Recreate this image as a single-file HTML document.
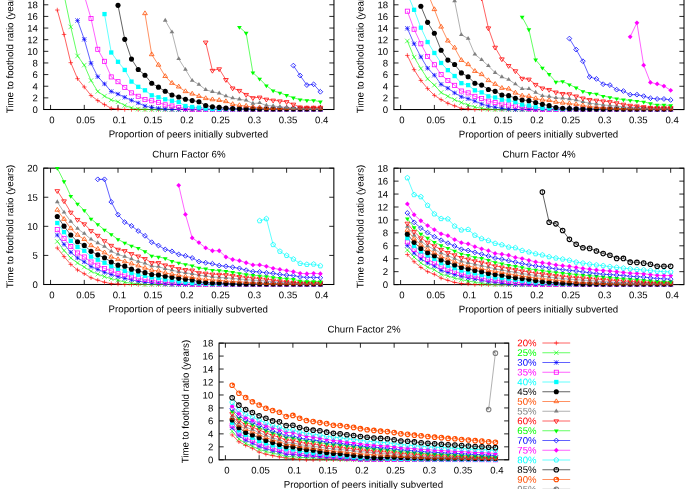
<!DOCTYPE html>
<html><head><meta charset="utf-8"><title>chart</title><style>html,body{margin:0;padding:0;background:#fff}body{width:699px;height:489px;overflow:hidden}</style></head><body><svg width="699" height="489" viewBox="0 0 699 489" style="display:block;will-change:transform" font-family="'Liberation Sans', sans-serif" fill="#000" text-rendering="geometricPrecision"><rect width="699" height="489" fill="#fff"/><g><path d="M50.55 109.50v-4.6M50.55 -6.85v4.6M84.28 109.50v-4.6M84.28 -6.85v4.6M118.00 109.50v-4.6M118.00 -6.85v4.6M151.73 109.50v-4.6M151.73 -6.85v4.6M185.45 109.50v-4.6M185.45 -6.85v4.6M219.18 109.50v-4.6M219.18 -6.85v4.6M252.90 109.50v-4.6M252.90 -6.85v4.6M286.62 109.50v-4.6M286.62 -6.85v4.6M320.35 109.50v-4.6M320.35 -6.85v4.6M43.70 109.50h4.6M333.95 109.50h-4.6M43.70 97.86h4.6M333.95 97.86h-4.6M43.70 86.23h4.6M333.95 86.23h-4.6M43.70 74.59h4.6M333.95 74.59h-4.6M43.70 62.96h4.6M333.95 62.96h-4.6M43.70 51.33h4.6M333.95 51.33h-4.6M43.70 39.69h4.6M333.95 39.69h-4.6M43.70 28.06h4.6M333.95 28.06h-4.6M43.70 16.42h4.6M333.95 16.42h-4.6M43.70 4.78h4.6M333.95 4.78h-4.6M43.70 -6.85h4.6M333.95 -6.85h-4.6" stroke="#000" stroke-width="0.85" fill="none"/><rect x="43.70" y="-6.85" width="290.25" height="116.35" fill="none" stroke="#000" stroke-width="1.05"/><text transform="translate(51.95 123.20) rotate(0.05)" font-size="9.6" text-anchor="middle">0</text><text transform="translate(85.68 123.20) rotate(0.05)" font-size="9.6" text-anchor="middle">0.05</text><text transform="translate(119.40 123.20) rotate(0.05)" font-size="9.6" text-anchor="middle">0.1</text><text transform="translate(153.13 123.20) rotate(0.05)" font-size="9.6" text-anchor="middle">0.15</text><text transform="translate(186.85 123.20) rotate(0.05)" font-size="9.6" text-anchor="middle">0.2</text><text transform="translate(220.58 123.20) rotate(0.05)" font-size="9.6" text-anchor="middle">0.25</text><text transform="translate(254.30 123.20) rotate(0.05)" font-size="9.6" text-anchor="middle">0.3</text><text transform="translate(288.02 123.20) rotate(0.05)" font-size="9.6" text-anchor="middle">0.35</text><text transform="translate(321.75 123.20) rotate(0.05)" font-size="9.6" text-anchor="middle">0.4</text><text transform="translate(37.90 112.95) rotate(0.05)" font-size="9.6" text-anchor="end">0</text><text transform="translate(37.90 101.31) rotate(0.05)" font-size="9.6" text-anchor="end">2</text><text transform="translate(37.90 89.68) rotate(0.05)" font-size="9.6" text-anchor="end">4</text><text transform="translate(37.90 78.05) rotate(0.05)" font-size="9.6" text-anchor="end">6</text><text transform="translate(37.90 66.41) rotate(0.05)" font-size="9.6" text-anchor="end">8</text><text transform="translate(37.90 54.78) rotate(0.05)" font-size="9.6" text-anchor="end">10</text><text transform="translate(37.90 43.14) rotate(0.05)" font-size="9.6" text-anchor="end">12</text><text transform="translate(37.90 31.51) rotate(0.05)" font-size="9.6" text-anchor="end">14</text><text transform="translate(37.90 19.87) rotate(0.05)" font-size="9.6" text-anchor="end">16</text><text transform="translate(37.90 8.23) rotate(0.05)" font-size="9.6" text-anchor="end">18</text><text transform="translate(37.90 -3.40) rotate(0.05)" font-size="9.6" text-anchor="end">20</text><text transform="translate(188.32 137.40) rotate(0.05)" font-size="9.7" text-anchor="middle">Proportion of peers initially subverted</text><text transform="translate(13.30 51.43) rotate(-89.95)" font-size="9.7" text-anchor="middle">Time to foothold ratio (years)</text><path d="M57.29 10.02L64.04 34.45L70.78 62.67L77.53 78.67L84.28 86.99L91.02 95.54L97.77 100.60L104.51 104.61L111.25 108.30L118.00 109.06L124.75 109.50L131.49 109.50L138.24 109.50L144.98 109.50L151.72 109.50L158.47 109.50L165.22 109.50L171.96 109.50L178.70 109.50L185.45 109.50L192.19 109.50L198.94 109.50L205.69 109.50L212.43 109.50L219.18 109.50L225.92 109.50L232.67 109.50L239.41 109.50L246.15 109.50L252.90 109.50L259.64 109.50L266.39 109.50L273.13 109.50L279.88 109.50L286.62 109.50L293.37 109.50L300.12 109.50L306.86 109.50L313.61 109.50L320.35 109.50" stroke="#ff0000" stroke-width="0.62" fill="none" stroke-linejoin="round"/><path d="M55.04 10.02H59.54M57.29 7.77V12.27" stroke="#ff0000" stroke-width="0.62" fill="none"/><path d="M61.79 34.45H66.29M64.04 32.20V36.70" stroke="#ff0000" stroke-width="0.62" fill="none"/><path d="M68.53 62.67H73.03M70.78 60.42V64.92" stroke="#ff0000" stroke-width="0.62" fill="none"/><path d="M75.28 78.67H79.78M77.53 76.42V80.92" stroke="#ff0000" stroke-width="0.62" fill="none"/><path d="M82.03 86.99H86.53M84.28 84.74V89.24" stroke="#ff0000" stroke-width="0.62" fill="none"/><path d="M88.77 95.54H93.27M91.02 93.29V97.79" stroke="#ff0000" stroke-width="0.62" fill="none"/><path d="M95.52 100.60H100.02M97.77 98.35V102.85" stroke="#ff0000" stroke-width="0.62" fill="none"/><path d="M102.26 104.61H106.76M104.51 102.36V106.86" stroke="#ff0000" stroke-width="0.62" fill="none"/><path d="M109.00 108.30H113.50M111.25 106.05V110.55" stroke="#ff0000" stroke-width="0.62" fill="none"/><path d="M115.75 109.06H120.25M118.00 106.81V111.31" stroke="#ff0000" stroke-width="0.62" fill="none"/><path d="M122.50 109.50H127.00M124.75 107.25V111.75" stroke="#ff0000" stroke-width="0.62" fill="none"/><path d="M129.24 109.50H133.74M131.49 107.25V111.75" stroke="#ff0000" stroke-width="0.62" fill="none"/><path d="M135.99 109.50H140.49M138.24 107.25V111.75" stroke="#ff0000" stroke-width="0.62" fill="none"/><path d="M142.73 109.50H147.23M144.98 107.25V111.75" stroke="#ff0000" stroke-width="0.62" fill="none"/><path d="M149.47 109.50H153.97M151.72 107.25V111.75" stroke="#ff0000" stroke-width="0.62" fill="none"/><path d="M156.22 109.50H160.72M158.47 107.25V111.75" stroke="#ff0000" stroke-width="0.62" fill="none"/><path d="M162.97 109.50H167.47M165.22 107.25V111.75" stroke="#ff0000" stroke-width="0.62" fill="none"/><path d="M169.71 109.50H174.21M171.96 107.25V111.75" stroke="#ff0000" stroke-width="0.62" fill="none"/><path d="M176.45 109.50H180.95M178.70 107.25V111.75" stroke="#ff0000" stroke-width="0.62" fill="none"/><path d="M183.20 109.50H187.70M185.45 107.25V111.75" stroke="#ff0000" stroke-width="0.62" fill="none"/><path d="M189.94 109.50H194.44M192.19 107.25V111.75" stroke="#ff0000" stroke-width="0.62" fill="none"/><path d="M196.69 109.50H201.19M198.94 107.25V111.75" stroke="#ff0000" stroke-width="0.62" fill="none"/><path d="M203.44 109.50H207.94M205.69 107.25V111.75" stroke="#ff0000" stroke-width="0.62" fill="none"/><path d="M210.18 109.50H214.68M212.43 107.25V111.75" stroke="#ff0000" stroke-width="0.62" fill="none"/><path d="M216.93 109.50H221.43M219.18 107.25V111.75" stroke="#ff0000" stroke-width="0.62" fill="none"/><path d="M223.67 109.50H228.17M225.92 107.25V111.75" stroke="#ff0000" stroke-width="0.62" fill="none"/><path d="M230.42 109.50H234.92M232.67 107.25V111.75" stroke="#ff0000" stroke-width="0.62" fill="none"/><path d="M237.16 109.50H241.66M239.41 107.25V111.75" stroke="#ff0000" stroke-width="0.62" fill="none"/><path d="M243.90 109.50H248.40M246.15 107.25V111.75" stroke="#ff0000" stroke-width="0.62" fill="none"/><path d="M250.65 109.50H255.15M252.90 107.25V111.75" stroke="#ff0000" stroke-width="0.62" fill="none"/><path d="M257.39 109.50H261.89M259.64 107.25V111.75" stroke="#ff0000" stroke-width="0.62" fill="none"/><path d="M264.14 109.50H268.64M266.39 107.25V111.75" stroke="#ff0000" stroke-width="0.62" fill="none"/><path d="M270.88 109.50H275.38M273.13 107.25V111.75" stroke="#ff0000" stroke-width="0.62" fill="none"/><path d="M277.63 109.50H282.13M279.88 107.25V111.75" stroke="#ff0000" stroke-width="0.62" fill="none"/><path d="M284.38 109.50H288.88M286.62 107.25V111.75" stroke="#ff0000" stroke-width="0.62" fill="none"/><path d="M291.12 109.50H295.62M293.37 107.25V111.75" stroke="#ff0000" stroke-width="0.62" fill="none"/><path d="M297.87 109.50H302.37M300.12 107.25V111.75" stroke="#ff0000" stroke-width="0.62" fill="none"/><path d="M304.61 109.50H309.11M306.86 107.25V111.75" stroke="#ff0000" stroke-width="0.62" fill="none"/><path d="M311.36 109.50H315.86M313.61 107.25V111.75" stroke="#ff0000" stroke-width="0.62" fill="none"/><path d="M318.10 109.50H322.60M320.35 107.25V111.75" stroke="#ff0000" stroke-width="0.62" fill="none"/><path d="M64.04 -5.10L70.78 26.89L77.53 55.98L84.28 65.11L91.02 80.53L97.77 91.47L104.51 96.12L111.25 99.90L118.00 101.76L124.75 105.43L131.49 107.92L138.24 109.06L144.98 109.50L151.72 109.50L158.47 109.50L165.22 109.50L171.96 109.50L178.70 109.50L185.45 109.50L192.19 109.50L198.94 109.50L205.69 109.50L212.43 109.50L219.18 109.50L225.92 109.50L232.67 109.50L239.41 109.50L246.15 109.50L252.90 109.50L259.64 109.50L266.39 109.50L273.13 109.50L279.88 109.50L286.62 109.50L293.37 109.50L300.12 109.50L306.86 109.50L313.61 109.50L320.35 109.50" stroke="#00ff00" stroke-width="0.62" fill="none" stroke-linejoin="round"/><path d="M68.53 24.64L73.03 29.14M68.53 29.14L73.03 24.64" stroke="#00ff00" stroke-width="0.62" fill="none"/><path d="M75.28 53.73L79.78 58.23M75.28 58.23L79.78 53.73" stroke="#00ff00" stroke-width="0.62" fill="none"/><path d="M82.03 62.86L86.53 67.36M82.03 67.36L86.53 62.86" stroke="#00ff00" stroke-width="0.62" fill="none"/><path d="M88.77 78.28L93.27 82.78M88.77 82.78L93.27 78.28" stroke="#00ff00" stroke-width="0.62" fill="none"/><path d="M95.52 89.22L100.02 93.72M95.52 93.72L100.02 89.22" stroke="#00ff00" stroke-width="0.62" fill="none"/><path d="M102.26 93.87L106.76 98.37M102.26 98.37L106.76 93.87" stroke="#00ff00" stroke-width="0.62" fill="none"/><path d="M109.00 97.65L113.50 102.15M109.00 102.15L113.50 97.65" stroke="#00ff00" stroke-width="0.62" fill="none"/><path d="M115.75 99.51L120.25 104.01M115.75 104.01L120.25 99.51" stroke="#00ff00" stroke-width="0.62" fill="none"/><path d="M122.50 103.18L127.00 107.68M122.50 107.68L127.00 103.18" stroke="#00ff00" stroke-width="0.62" fill="none"/><path d="M129.24 105.67L133.74 110.17M129.24 110.17L133.74 105.67" stroke="#00ff00" stroke-width="0.62" fill="none"/><path d="M135.99 106.81L140.49 111.31M135.99 111.31L140.49 106.81" stroke="#00ff00" stroke-width="0.62" fill="none"/><path d="M142.73 107.25L147.23 111.75M142.73 111.75L147.23 107.25" stroke="#00ff00" stroke-width="0.62" fill="none"/><path d="M149.47 107.25L153.97 111.75M149.47 111.75L153.97 107.25" stroke="#00ff00" stroke-width="0.62" fill="none"/><path d="M156.22 107.25L160.72 111.75M156.22 111.75L160.72 107.25" stroke="#00ff00" stroke-width="0.62" fill="none"/><path d="M162.97 107.25L167.47 111.75M162.97 111.75L167.47 107.25" stroke="#00ff00" stroke-width="0.62" fill="none"/><path d="M169.71 107.25L174.21 111.75M169.71 111.75L174.21 107.25" stroke="#00ff00" stroke-width="0.62" fill="none"/><path d="M176.45 107.25L180.95 111.75M176.45 111.75L180.95 107.25" stroke="#00ff00" stroke-width="0.62" fill="none"/><path d="M183.20 107.25L187.70 111.75M183.20 111.75L187.70 107.25" stroke="#00ff00" stroke-width="0.62" fill="none"/><path d="M189.94 107.25L194.44 111.75M189.94 111.75L194.44 107.25" stroke="#00ff00" stroke-width="0.62" fill="none"/><path d="M196.69 107.25L201.19 111.75M196.69 111.75L201.19 107.25" stroke="#00ff00" stroke-width="0.62" fill="none"/><path d="M203.44 107.25L207.94 111.75M203.44 111.75L207.94 107.25" stroke="#00ff00" stroke-width="0.62" fill="none"/><path d="M210.18 107.25L214.68 111.75M210.18 111.75L214.68 107.25" stroke="#00ff00" stroke-width="0.62" fill="none"/><path d="M216.93 107.25L221.43 111.75M216.93 111.75L221.43 107.25" stroke="#00ff00" stroke-width="0.62" fill="none"/><path d="M223.67 107.25L228.17 111.75M223.67 111.75L228.17 107.25" stroke="#00ff00" stroke-width="0.62" fill="none"/><path d="M230.42 107.25L234.92 111.75M230.42 111.75L234.92 107.25" stroke="#00ff00" stroke-width="0.62" fill="none"/><path d="M237.16 107.25L241.66 111.75M237.16 111.75L241.66 107.25" stroke="#00ff00" stroke-width="0.62" fill="none"/><path d="M243.90 107.25L248.40 111.75M243.90 111.75L248.40 107.25" stroke="#00ff00" stroke-width="0.62" fill="none"/><path d="M250.65 107.25L255.15 111.75M250.65 111.75L255.15 107.25" stroke="#00ff00" stroke-width="0.62" fill="none"/><path d="M257.39 107.25L261.89 111.75M257.39 111.75L261.89 107.25" stroke="#00ff00" stroke-width="0.62" fill="none"/><path d="M264.14 107.25L268.64 111.75M264.14 111.75L268.64 107.25" stroke="#00ff00" stroke-width="0.62" fill="none"/><path d="M270.88 107.25L275.38 111.75M270.88 111.75L275.38 107.25" stroke="#00ff00" stroke-width="0.62" fill="none"/><path d="M277.63 107.25L282.13 111.75M277.63 111.75L282.13 107.25" stroke="#00ff00" stroke-width="0.62" fill="none"/><path d="M284.38 107.25L288.88 111.75M284.38 111.75L288.88 107.25" stroke="#00ff00" stroke-width="0.62" fill="none"/><path d="M291.12 107.25L295.62 111.75M291.12 111.75L295.62 107.25" stroke="#00ff00" stroke-width="0.62" fill="none"/><path d="M297.87 107.25L302.37 111.75M297.87 111.75L302.37 107.25" stroke="#00ff00" stroke-width="0.62" fill="none"/><path d="M304.61 107.25L309.11 111.75M304.61 111.75L309.11 107.25" stroke="#00ff00" stroke-width="0.62" fill="none"/><path d="M311.36 107.25L315.86 111.75M311.36 111.75L315.86 107.25" stroke="#00ff00" stroke-width="0.62" fill="none"/><path d="M318.10 107.25L322.60 111.75M318.10 111.75L322.60 107.25" stroke="#00ff00" stroke-width="0.62" fill="none"/><path d="M77.53 20.49L84.28 39.34L91.02 63.25L97.77 76.69L104.51 83.90L111.25 91.47L118.00 94.03L124.75 97.28L131.49 100.31L138.24 102.93L144.98 106.01L151.72 107.53L158.47 108.30L165.22 109.06L171.96 109.50L178.70 109.50L185.45 109.50L192.19 109.50L198.94 109.50L205.69 109.50L212.43 109.50L219.18 109.50L225.92 109.50L232.67 109.50L239.41 109.50L246.15 109.50L252.90 109.50L259.64 109.50L266.39 109.50L273.13 109.50L279.88 109.50L286.62 109.50L293.37 109.50L300.12 109.50L306.86 109.50L313.61 109.50L320.35 109.50" stroke="#0000ff" stroke-width="0.62" fill="none" stroke-linejoin="round"/><path d="M75.28 20.49H79.78M77.53 18.24V22.74" stroke="#0000ff" stroke-width="0.62" fill="none"/><path d="M75.28 18.24L79.78 22.74M75.28 22.74L79.78 18.24" stroke="#0000ff" stroke-width="0.62" fill="none"/><path d="M82.03 39.34H86.53M84.28 37.09V41.59" stroke="#0000ff" stroke-width="0.62" fill="none"/><path d="M82.03 37.09L86.53 41.59M82.03 41.59L86.53 37.09" stroke="#0000ff" stroke-width="0.62" fill="none"/><path d="M88.77 63.25H93.27M91.02 61.00V65.50" stroke="#0000ff" stroke-width="0.62" fill="none"/><path d="M88.77 61.00L93.27 65.50M88.77 65.50L93.27 61.00" stroke="#0000ff" stroke-width="0.62" fill="none"/><path d="M95.52 76.69H100.02M97.77 74.44V78.94" stroke="#0000ff" stroke-width="0.62" fill="none"/><path d="M95.52 74.44L100.02 78.94M95.52 78.94L100.02 74.44" stroke="#0000ff" stroke-width="0.62" fill="none"/><path d="M102.26 83.90H106.76M104.51 81.65V86.15" stroke="#0000ff" stroke-width="0.62" fill="none"/><path d="M102.26 81.65L106.76 86.15M102.26 86.15L106.76 81.65" stroke="#0000ff" stroke-width="0.62" fill="none"/><path d="M109.00 91.47H113.50M111.25 89.22V93.72" stroke="#0000ff" stroke-width="0.62" fill="none"/><path d="M109.00 89.22L113.50 93.72M109.00 93.72L113.50 89.22" stroke="#0000ff" stroke-width="0.62" fill="none"/><path d="M115.75 94.03H120.25M118.00 91.78V96.28" stroke="#0000ff" stroke-width="0.62" fill="none"/><path d="M115.75 91.78L120.25 96.28M115.75 96.28L120.25 91.78" stroke="#0000ff" stroke-width="0.62" fill="none"/><path d="M122.50 97.28H127.00M124.75 95.03V99.53" stroke="#0000ff" stroke-width="0.62" fill="none"/><path d="M122.50 95.03L127.00 99.53M122.50 99.53L127.00 95.03" stroke="#0000ff" stroke-width="0.62" fill="none"/><path d="M129.24 100.31H133.74M131.49 98.06V102.56" stroke="#0000ff" stroke-width="0.62" fill="none"/><path d="M129.24 98.06L133.74 102.56M129.24 102.56L133.74 98.06" stroke="#0000ff" stroke-width="0.62" fill="none"/><path d="M135.99 102.93H140.49M138.24 100.68V105.18" stroke="#0000ff" stroke-width="0.62" fill="none"/><path d="M135.99 100.68L140.49 105.18M135.99 105.18L140.49 100.68" stroke="#0000ff" stroke-width="0.62" fill="none"/><path d="M142.73 106.01H147.23M144.98 103.76V108.26" stroke="#0000ff" stroke-width="0.62" fill="none"/><path d="M142.73 103.76L147.23 108.26M142.73 108.26L147.23 103.76" stroke="#0000ff" stroke-width="0.62" fill="none"/><path d="M149.47 107.53H153.97M151.72 105.28V109.78" stroke="#0000ff" stroke-width="0.62" fill="none"/><path d="M149.47 105.28L153.97 109.78M149.47 109.78L153.97 105.28" stroke="#0000ff" stroke-width="0.62" fill="none"/><path d="M156.22 108.30H160.72M158.47 106.05V110.55" stroke="#0000ff" stroke-width="0.62" fill="none"/><path d="M156.22 106.05L160.72 110.55M156.22 110.55L160.72 106.05" stroke="#0000ff" stroke-width="0.62" fill="none"/><path d="M162.97 109.06H167.47M165.22 106.81V111.31" stroke="#0000ff" stroke-width="0.62" fill="none"/><path d="M162.97 106.81L167.47 111.31M162.97 111.31L167.47 106.81" stroke="#0000ff" stroke-width="0.62" fill="none"/><path d="M169.71 109.50H174.21M171.96 107.25V111.75" stroke="#0000ff" stroke-width="0.62" fill="none"/><path d="M169.71 107.25L174.21 111.75M169.71 111.75L174.21 107.25" stroke="#0000ff" stroke-width="0.62" fill="none"/><path d="M176.45 109.50H180.95M178.70 107.25V111.75" stroke="#0000ff" stroke-width="0.62" fill="none"/><path d="M176.45 107.25L180.95 111.75M176.45 111.75L180.95 107.25" stroke="#0000ff" stroke-width="0.62" fill="none"/><path d="M183.20 109.50H187.70M185.45 107.25V111.75" stroke="#0000ff" stroke-width="0.62" fill="none"/><path d="M183.20 107.25L187.70 111.75M183.20 111.75L187.70 107.25" stroke="#0000ff" stroke-width="0.62" fill="none"/><path d="M189.94 109.50H194.44M192.19 107.25V111.75" stroke="#0000ff" stroke-width="0.62" fill="none"/><path d="M189.94 107.25L194.44 111.75M189.94 111.75L194.44 107.25" stroke="#0000ff" stroke-width="0.62" fill="none"/><path d="M196.69 109.50H201.19M198.94 107.25V111.75" stroke="#0000ff" stroke-width="0.62" fill="none"/><path d="M196.69 107.25L201.19 111.75M196.69 111.75L201.19 107.25" stroke="#0000ff" stroke-width="0.62" fill="none"/><path d="M203.44 109.50H207.94M205.69 107.25V111.75" stroke="#0000ff" stroke-width="0.62" fill="none"/><path d="M203.44 107.25L207.94 111.75M203.44 111.75L207.94 107.25" stroke="#0000ff" stroke-width="0.62" fill="none"/><path d="M210.18 109.50H214.68M212.43 107.25V111.75" stroke="#0000ff" stroke-width="0.62" fill="none"/><path d="M210.18 107.25L214.68 111.75M210.18 111.75L214.68 107.25" stroke="#0000ff" stroke-width="0.62" fill="none"/><path d="M216.93 109.50H221.43M219.18 107.25V111.75" stroke="#0000ff" stroke-width="0.62" fill="none"/><path d="M216.93 107.25L221.43 111.75M216.93 111.75L221.43 107.25" stroke="#0000ff" stroke-width="0.62" fill="none"/><path d="M223.67 109.50H228.17M225.92 107.25V111.75" stroke="#0000ff" stroke-width="0.62" fill="none"/><path d="M223.67 107.25L228.17 111.75M223.67 111.75L228.17 107.25" stroke="#0000ff" stroke-width="0.62" fill="none"/><path d="M230.42 109.50H234.92M232.67 107.25V111.75" stroke="#0000ff" stroke-width="0.62" fill="none"/><path d="M230.42 107.25L234.92 111.75M230.42 111.75L234.92 107.25" stroke="#0000ff" stroke-width="0.62" fill="none"/><path d="M237.16 109.50H241.66M239.41 107.25V111.75" stroke="#0000ff" stroke-width="0.62" fill="none"/><path d="M237.16 107.25L241.66 111.75M237.16 111.75L241.66 107.25" stroke="#0000ff" stroke-width="0.62" fill="none"/><path d="M243.90 109.50H248.40M246.15 107.25V111.75" stroke="#0000ff" stroke-width="0.62" fill="none"/><path d="M243.90 107.25L248.40 111.75M243.90 111.75L248.40 107.25" stroke="#0000ff" stroke-width="0.62" fill="none"/><path d="M250.65 109.50H255.15M252.90 107.25V111.75" stroke="#0000ff" stroke-width="0.62" fill="none"/><path d="M250.65 107.25L255.15 111.75M250.65 111.75L255.15 107.25" stroke="#0000ff" stroke-width="0.62" fill="none"/><path d="M257.39 109.50H261.89M259.64 107.25V111.75" stroke="#0000ff" stroke-width="0.62" fill="none"/><path d="M257.39 107.25L261.89 111.75M257.39 111.75L261.89 107.25" stroke="#0000ff" stroke-width="0.62" fill="none"/><path d="M264.14 109.50H268.64M266.39 107.25V111.75" stroke="#0000ff" stroke-width="0.62" fill="none"/><path d="M264.14 107.25L268.64 111.75M264.14 111.75L268.64 107.25" stroke="#0000ff" stroke-width="0.62" fill="none"/><path d="M270.88 109.50H275.38M273.13 107.25V111.75" stroke="#0000ff" stroke-width="0.62" fill="none"/><path d="M270.88 107.25L275.38 111.75M270.88 111.75L275.38 107.25" stroke="#0000ff" stroke-width="0.62" fill="none"/><path d="M277.63 109.50H282.13M279.88 107.25V111.75" stroke="#0000ff" stroke-width="0.62" fill="none"/><path d="M277.63 107.25L282.13 111.75M277.63 111.75L282.13 107.25" stroke="#0000ff" stroke-width="0.62" fill="none"/><path d="M284.38 109.50H288.88M286.62 107.25V111.75" stroke="#0000ff" stroke-width="0.62" fill="none"/><path d="M284.38 107.25L288.88 111.75M284.38 111.75L288.88 107.25" stroke="#0000ff" stroke-width="0.62" fill="none"/><path d="M291.12 109.50H295.62M293.37 107.25V111.75" stroke="#0000ff" stroke-width="0.62" fill="none"/><path d="M291.12 107.25L295.62 111.75M291.12 111.75L295.62 107.25" stroke="#0000ff" stroke-width="0.62" fill="none"/><path d="M297.87 109.50H302.37M300.12 107.25V111.75" stroke="#0000ff" stroke-width="0.62" fill="none"/><path d="M297.87 107.25L302.37 111.75M297.87 111.75L302.37 107.25" stroke="#0000ff" stroke-width="0.62" fill="none"/><path d="M304.61 109.50H309.11M306.86 107.25V111.75" stroke="#0000ff" stroke-width="0.62" fill="none"/><path d="M304.61 107.25L309.11 111.75M304.61 111.75L309.11 107.25" stroke="#0000ff" stroke-width="0.62" fill="none"/><path d="M311.36 109.50H315.86M313.61 107.25V111.75" stroke="#0000ff" stroke-width="0.62" fill="none"/><path d="M311.36 107.25L315.86 111.75M311.36 111.75L315.86 107.25" stroke="#0000ff" stroke-width="0.62" fill="none"/><path d="M318.10 109.50H322.60M320.35 107.25V111.75" stroke="#0000ff" stroke-width="0.62" fill="none"/><path d="M318.10 107.25L322.60 111.75M318.10 111.75L322.60 107.25" stroke="#0000ff" stroke-width="0.62" fill="none"/><path d="M84.28 -4.52L91.02 18.46L97.77 49.29L104.51 61.33L111.25 76.92L118.00 81.69L124.75 87.39L131.49 92.86L138.24 96.29L144.98 99.61L151.72 100.77L158.47 102.52L165.22 104.85L171.96 106.01L178.70 107.53L185.45 108.68L192.19 109.21L198.94 109.21L205.69 109.21L212.43 109.21L219.18 109.21L225.92 109.21L232.67 109.21L239.41 109.21L246.15 109.21L252.90 109.21L259.64 109.21L266.39 109.21L273.13 109.21L279.88 109.21L286.62 109.21L293.37 109.21L300.12 109.21L306.86 109.21L313.61 109.21L320.35 109.21" stroke="#ff00ff" stroke-width="0.62" fill="none" stroke-linejoin="round"/><rect x="82.23" y="-6.57" width="4.10" height="4.10" stroke="#ff00ff" stroke-width="0.78" fill="none"/><rect x="88.97" y="16.41" width="4.10" height="4.10" stroke="#ff00ff" stroke-width="0.78" fill="none"/><rect x="95.72" y="47.24" width="4.10" height="4.10" stroke="#ff00ff" stroke-width="0.78" fill="none"/><rect x="102.46" y="59.28" width="4.10" height="4.10" stroke="#ff00ff" stroke-width="0.78" fill="none"/><rect x="109.20" y="74.87" width="4.10" height="4.10" stroke="#ff00ff" stroke-width="0.78" fill="none"/><rect x="115.95" y="79.64" width="4.10" height="4.10" stroke="#ff00ff" stroke-width="0.78" fill="none"/><rect x="122.70" y="85.34" width="4.10" height="4.10" stroke="#ff00ff" stroke-width="0.78" fill="none"/><rect x="129.44" y="90.81" width="4.10" height="4.10" stroke="#ff00ff" stroke-width="0.78" fill="none"/><rect x="136.19" y="94.24" width="4.10" height="4.10" stroke="#ff00ff" stroke-width="0.78" fill="none"/><rect x="142.93" y="97.56" width="4.10" height="4.10" stroke="#ff00ff" stroke-width="0.78" fill="none"/><rect x="149.67" y="98.72" width="4.10" height="4.10" stroke="#ff00ff" stroke-width="0.78" fill="none"/><rect x="156.42" y="100.47" width="4.10" height="4.10" stroke="#ff00ff" stroke-width="0.78" fill="none"/><rect x="163.16" y="102.80" width="4.10" height="4.10" stroke="#ff00ff" stroke-width="0.78" fill="none"/><rect x="169.91" y="103.96" width="4.10" height="4.10" stroke="#ff00ff" stroke-width="0.78" fill="none"/><rect x="176.65" y="105.48" width="4.10" height="4.10" stroke="#ff00ff" stroke-width="0.78" fill="none"/><rect x="183.40" y="106.63" width="4.10" height="4.10" stroke="#ff00ff" stroke-width="0.78" fill="none"/><rect x="190.14" y="107.16" width="4.10" height="4.10" stroke="#ff00ff" stroke-width="0.78" fill="none"/><rect x="196.89" y="107.16" width="4.10" height="4.10" stroke="#ff00ff" stroke-width="0.78" fill="none"/><rect x="203.63" y="107.16" width="4.10" height="4.10" stroke="#ff00ff" stroke-width="0.78" fill="none"/><rect x="210.38" y="107.16" width="4.10" height="4.10" stroke="#ff00ff" stroke-width="0.78" fill="none"/><rect x="217.12" y="107.16" width="4.10" height="4.10" stroke="#ff00ff" stroke-width="0.78" fill="none"/><rect x="223.87" y="107.16" width="4.10" height="4.10" stroke="#ff00ff" stroke-width="0.78" fill="none"/><rect x="230.62" y="107.16" width="4.10" height="4.10" stroke="#ff00ff" stroke-width="0.78" fill="none"/><rect x="237.36" y="107.16" width="4.10" height="4.10" stroke="#ff00ff" stroke-width="0.78" fill="none"/><rect x="244.10" y="107.16" width="4.10" height="4.10" stroke="#ff00ff" stroke-width="0.78" fill="none"/><rect x="250.85" y="107.16" width="4.10" height="4.10" stroke="#ff00ff" stroke-width="0.78" fill="none"/><rect x="257.59" y="107.16" width="4.10" height="4.10" stroke="#ff00ff" stroke-width="0.78" fill="none"/><rect x="264.34" y="107.16" width="4.10" height="4.10" stroke="#ff00ff" stroke-width="0.78" fill="none"/><rect x="271.08" y="107.16" width="4.10" height="4.10" stroke="#ff00ff" stroke-width="0.78" fill="none"/><rect x="277.83" y="107.16" width="4.10" height="4.10" stroke="#ff00ff" stroke-width="0.78" fill="none"/><rect x="284.57" y="107.16" width="4.10" height="4.10" stroke="#ff00ff" stroke-width="0.78" fill="none"/><rect x="291.32" y="107.16" width="4.10" height="4.10" stroke="#ff00ff" stroke-width="0.78" fill="none"/><rect x="298.06" y="107.16" width="4.10" height="4.10" stroke="#ff00ff" stroke-width="0.78" fill="none"/><rect x="304.81" y="107.16" width="4.10" height="4.10" stroke="#ff00ff" stroke-width="0.78" fill="none"/><rect x="311.56" y="107.16" width="4.10" height="4.10" stroke="#ff00ff" stroke-width="0.78" fill="none"/><rect x="318.30" y="107.16" width="4.10" height="4.10" stroke="#ff00ff" stroke-width="0.78" fill="none"/><path d="M104.51 14.09L111.25 52.49L118.00 61.80L124.75 69.94L131.49 81.58L138.24 86.81L144.98 90.30L151.72 95.31L158.47 97.28L165.22 99.32L171.96 100.77L178.70 102.05L185.45 106.01L192.19 107.00L198.94 107.53L205.69 108.53L212.43 109.06L219.18 109.06L225.92 109.06L232.67 109.06L239.41 109.06L246.15 109.06L252.90 109.06L259.64 109.06L266.39 109.06L273.13 109.06L279.88 109.06L286.62 109.06L293.37 109.06L300.12 109.06L306.86 109.06L313.61 109.06L320.35 109.06" stroke="#00ffff" stroke-width="0.62" fill="none" stroke-linejoin="round"/><rect x="102.36" y="11.94" width="4.30" height="4.30" fill="#00ffff"/><rect x="109.10" y="50.34" width="4.30" height="4.30" fill="#00ffff"/><rect x="115.85" y="59.65" width="4.30" height="4.30" fill="#00ffff"/><rect x="122.59" y="67.79" width="4.30" height="4.30" fill="#00ffff"/><rect x="129.34" y="79.43" width="4.30" height="4.30" fill="#00ffff"/><rect x="136.09" y="84.66" width="4.30" height="4.30" fill="#00ffff"/><rect x="142.83" y="88.15" width="4.30" height="4.30" fill="#00ffff"/><rect x="149.57" y="93.16" width="4.30" height="4.30" fill="#00ffff"/><rect x="156.32" y="95.13" width="4.30" height="4.30" fill="#00ffff"/><rect x="163.06" y="97.17" width="4.30" height="4.30" fill="#00ffff"/><rect x="169.81" y="98.62" width="4.30" height="4.30" fill="#00ffff"/><rect x="176.55" y="99.90" width="4.30" height="4.30" fill="#00ffff"/><rect x="183.30" y="103.86" width="4.30" height="4.30" fill="#00ffff"/><rect x="190.04" y="104.85" width="4.30" height="4.30" fill="#00ffff"/><rect x="196.79" y="105.38" width="4.30" height="4.30" fill="#00ffff"/><rect x="203.53" y="106.38" width="4.30" height="4.30" fill="#00ffff"/><rect x="210.28" y="106.91" width="4.30" height="4.30" fill="#00ffff"/><rect x="217.03" y="106.91" width="4.30" height="4.30" fill="#00ffff"/><rect x="223.77" y="106.91" width="4.30" height="4.30" fill="#00ffff"/><rect x="230.52" y="106.91" width="4.30" height="4.30" fill="#00ffff"/><rect x="237.26" y="106.91" width="4.30" height="4.30" fill="#00ffff"/><rect x="244.00" y="106.91" width="4.30" height="4.30" fill="#00ffff"/><rect x="250.75" y="106.91" width="4.30" height="4.30" fill="#00ffff"/><rect x="257.50" y="106.91" width="4.30" height="4.30" fill="#00ffff"/><rect x="264.24" y="106.91" width="4.30" height="4.30" fill="#00ffff"/><rect x="270.99" y="106.91" width="4.30" height="4.30" fill="#00ffff"/><rect x="277.73" y="106.91" width="4.30" height="4.30" fill="#00ffff"/><rect x="284.48" y="106.91" width="4.30" height="4.30" fill="#00ffff"/><rect x="291.22" y="106.91" width="4.30" height="4.30" fill="#00ffff"/><rect x="297.97" y="106.91" width="4.30" height="4.30" fill="#00ffff"/><rect x="304.71" y="106.91" width="4.30" height="4.30" fill="#00ffff"/><rect x="311.46" y="106.91" width="4.30" height="4.30" fill="#00ffff"/><rect x="318.20" y="106.91" width="4.30" height="4.30" fill="#00ffff"/><path d="M118.00 5.37L124.75 39.34L131.49 59.12L138.24 69.53L144.98 75.18L151.72 83.32L158.47 87.16L165.22 91.29L171.96 94.96L178.70 97.05L185.45 99.32L192.19 100.60L198.94 101.76L205.69 105.43L212.43 106.87L219.18 107.39L225.92 108.17L232.67 108.60L239.41 108.86L246.15 109.03L252.90 109.03L259.64 109.03L266.39 109.03L273.13 109.03L279.88 109.03L286.62 109.03L293.37 109.03L300.12 109.03L306.86 109.03L313.61 109.03L320.35 109.03" stroke="#000000" stroke-width="0.62" fill="none" stroke-linejoin="round"/><circle cx="118.00" cy="5.37" r="2.55" fill="#000000"/><circle cx="124.75" cy="39.34" r="2.55" fill="#000000"/><circle cx="131.49" cy="59.12" r="2.55" fill="#000000"/><circle cx="138.24" cy="69.53" r="2.55" fill="#000000"/><circle cx="144.98" cy="75.18" r="2.55" fill="#000000"/><circle cx="151.72" cy="83.32" r="2.55" fill="#000000"/><circle cx="158.47" cy="87.16" r="2.55" fill="#000000"/><circle cx="165.22" cy="91.29" r="2.55" fill="#000000"/><circle cx="171.96" cy="94.96" r="2.55" fill="#000000"/><circle cx="178.70" cy="97.05" r="2.55" fill="#000000"/><circle cx="185.45" cy="99.32" r="2.55" fill="#000000"/><circle cx="192.19" cy="100.60" r="2.55" fill="#000000"/><circle cx="198.94" cy="101.76" r="2.55" fill="#000000"/><circle cx="205.69" cy="105.43" r="2.55" fill="#000000"/><circle cx="212.43" cy="106.87" r="2.55" fill="#000000"/><circle cx="219.18" cy="107.39" r="2.55" fill="#000000"/><circle cx="225.92" cy="108.17" r="2.55" fill="#000000"/><circle cx="232.67" cy="108.60" r="2.55" fill="#000000"/><circle cx="239.41" cy="108.86" r="2.55" fill="#000000"/><circle cx="246.15" cy="109.03" r="2.55" fill="#000000"/><circle cx="252.90" cy="109.03" r="2.55" fill="#000000"/><circle cx="259.64" cy="109.03" r="2.55" fill="#000000"/><circle cx="266.39" cy="109.03" r="2.55" fill="#000000"/><circle cx="273.13" cy="109.03" r="2.55" fill="#000000"/><circle cx="279.88" cy="109.03" r="2.55" fill="#000000"/><circle cx="286.62" cy="109.03" r="2.55" fill="#000000"/><circle cx="293.37" cy="109.03" r="2.55" fill="#000000"/><circle cx="300.12" cy="109.03" r="2.55" fill="#000000"/><circle cx="306.86" cy="109.03" r="2.55" fill="#000000"/><circle cx="313.61" cy="109.03" r="2.55" fill="#000000"/><circle cx="320.35" cy="109.03" r="2.55" fill="#000000"/><path d="M144.98 13.51L151.72 54.52L158.47 65.00L165.22 76.34L171.96 83.15L178.70 86.81L185.45 91.47L192.19 93.91L198.94 96.29L205.69 98.45L212.43 99.61L219.18 100.31L225.92 101.47L232.67 104.32L239.41 105.43L246.15 106.01L252.90 107.05L259.64 107.61L266.39 108.40L273.13 108.40L279.88 108.40L286.62 108.40L293.37 108.40L300.12 108.40L306.86 108.40L313.61 108.40L320.35 108.40" stroke="#ff4d00" stroke-width="0.62" fill="none" stroke-linejoin="round"/><polygon points="144.98,10.87 142.62,14.69 147.34,14.69" stroke="#ff4d00" stroke-width="0.78" fill="none"/><polygon points="151.72,51.88 149.36,55.71 154.09,55.71" stroke="#ff4d00" stroke-width="0.78" fill="none"/><polygon points="158.47,62.35 156.11,66.18 160.83,66.18" stroke="#ff4d00" stroke-width="0.78" fill="none"/><polygon points="165.22,73.69 162.85,77.52 167.58,77.52" stroke="#ff4d00" stroke-width="0.78" fill="none"/><polygon points="171.96,80.50 169.60,84.33 174.32,84.33" stroke="#ff4d00" stroke-width="0.78" fill="none"/><polygon points="178.70,84.17 176.34,87.99 181.07,87.99" stroke="#ff4d00" stroke-width="0.78" fill="none"/><polygon points="185.45,88.82 183.09,92.65 187.81,92.65" stroke="#ff4d00" stroke-width="0.78" fill="none"/><polygon points="192.19,91.26 189.83,95.09 194.56,95.09" stroke="#ff4d00" stroke-width="0.78" fill="none"/><polygon points="198.94,93.65 196.58,97.48 201.30,97.48" stroke="#ff4d00" stroke-width="0.78" fill="none"/><polygon points="205.69,95.80 203.32,99.63 208.05,99.63" stroke="#ff4d00" stroke-width="0.78" fill="none"/><polygon points="212.43,96.96 210.07,100.79 214.79,100.79" stroke="#ff4d00" stroke-width="0.78" fill="none"/><polygon points="219.18,97.66 216.81,101.49 221.54,101.49" stroke="#ff4d00" stroke-width="0.78" fill="none"/><polygon points="225.92,98.83 223.56,102.65 228.28,102.65" stroke="#ff4d00" stroke-width="0.78" fill="none"/><polygon points="232.67,101.68 230.30,105.50 235.03,105.50" stroke="#ff4d00" stroke-width="0.78" fill="none"/><polygon points="239.41,102.78 237.05,106.61 241.77,106.61" stroke="#ff4d00" stroke-width="0.78" fill="none"/><polygon points="246.15,103.36 243.79,107.19 248.52,107.19" stroke="#ff4d00" stroke-width="0.78" fill="none"/><polygon points="252.90,104.40 250.54,108.23 255.26,108.23" stroke="#ff4d00" stroke-width="0.78" fill="none"/><polygon points="259.64,104.96 257.28,108.79 262.01,108.79" stroke="#ff4d00" stroke-width="0.78" fill="none"/><polygon points="266.39,105.76 264.03,109.58 268.75,109.58" stroke="#ff4d00" stroke-width="0.78" fill="none"/><polygon points="273.13,105.76 270.77,109.58 275.50,109.58" stroke="#ff4d00" stroke-width="0.78" fill="none"/><polygon points="279.88,105.76 277.52,109.58 282.24,109.58" stroke="#ff4d00" stroke-width="0.78" fill="none"/><polygon points="286.62,105.76 284.26,109.58 288.99,109.58" stroke="#ff4d00" stroke-width="0.78" fill="none"/><polygon points="293.37,105.76 291.01,109.58 295.73,109.58" stroke="#ff4d00" stroke-width="0.78" fill="none"/><polygon points="300.12,105.76 297.75,109.58 302.48,109.58" stroke="#ff4d00" stroke-width="0.78" fill="none"/><polygon points="306.86,105.76 304.50,109.58 309.22,109.58" stroke="#ff4d00" stroke-width="0.78" fill="none"/><polygon points="313.61,105.76 311.24,109.58 315.97,109.58" stroke="#ff4d00" stroke-width="0.78" fill="none"/><polygon points="320.35,105.76 317.99,109.58 322.71,109.58" stroke="#ff4d00" stroke-width="0.78" fill="none"/><path d="M165.22 20.49L171.96 32.13L178.70 58.89L185.45 69.53L192.19 80.53L198.94 84.54L205.69 89.72L212.43 91.76L219.18 93.21L225.92 96.12L232.67 98.16L239.41 99.20L246.15 100.31L252.90 103.51L259.64 102.93L266.39 105.43L273.13 106.01L279.88 106.76L286.62 107.51L293.37 108.25L300.12 108.63L306.86 108.63L313.61 108.63L320.35 108.63" stroke="#808080" stroke-width="0.62" fill="none" stroke-linejoin="round"/><polygon points="165.22,17.85 162.85,21.67 167.58,21.67" fill="#808080"/><polygon points="171.96,29.48 169.60,33.31 174.32,33.31" fill="#808080"/><polygon points="178.70,56.24 176.34,60.07 181.07,60.07" fill="#808080"/><polygon points="185.45,66.89 183.09,70.72 187.81,70.72" fill="#808080"/><polygon points="192.19,77.88 189.83,81.71 194.56,81.71" fill="#808080"/><polygon points="198.94,81.90 196.58,85.72 201.30,85.72" fill="#808080"/><polygon points="205.69,87.07 203.32,90.90 208.05,90.90" fill="#808080"/><polygon points="212.43,89.11 210.07,92.94 214.79,92.94" fill="#808080"/><polygon points="219.18,90.56 216.81,94.39 221.54,94.39" fill="#808080"/><polygon points="225.92,93.47 223.56,97.30 228.28,97.30" fill="#808080"/><polygon points="232.67,95.51 230.30,99.34 235.03,99.34" fill="#808080"/><polygon points="239.41,96.56 237.05,100.38 241.77,100.38" fill="#808080"/><polygon points="246.15,97.66 243.79,101.49 248.52,101.49" fill="#808080"/><polygon points="252.90,100.86 250.54,104.69 255.26,104.69" fill="#808080"/><polygon points="259.64,100.28 257.28,104.11 262.01,104.11" fill="#808080"/><polygon points="266.39,102.78 264.03,106.61 268.75,106.61" fill="#808080"/><polygon points="273.13,103.36 270.77,107.19 275.50,107.19" fill="#808080"/><polygon points="279.88,104.11 277.52,107.94 282.24,107.94" fill="#808080"/><polygon points="286.62,104.86 284.26,108.69 288.99,108.69" fill="#808080"/><polygon points="293.37,105.61 291.01,109.43 295.73,109.43" fill="#808080"/><polygon points="300.12,105.98 297.75,109.81 302.48,109.81" fill="#808080"/><polygon points="306.86,105.98 304.50,109.81 309.22,109.81" fill="#808080"/><polygon points="313.61,105.98 311.24,109.81 315.97,109.81" fill="#808080"/><polygon points="320.35,105.98 317.99,109.81 322.71,109.81" fill="#808080"/><path d="M205.69 42.25L212.43 70.52L219.18 68.95L225.92 79.71L232.67 88.15L239.41 90.59L246.15 94.61L252.90 97.86L259.64 97.28L266.39 99.32L273.13 100.31L279.88 101.06L286.62 101.76L293.37 104.32L300.12 107.17L306.86 107.46L313.61 107.46L320.35 107.46" stroke="#ff0000" stroke-width="0.62" fill="none" stroke-linejoin="round"/><polygon points="205.69,44.90 203.32,41.07 208.05,41.07" stroke="#ff0000" stroke-width="0.78" fill="none"/><polygon points="212.43,73.17 210.07,69.34 214.79,69.34" stroke="#ff0000" stroke-width="0.78" fill="none"/><polygon points="219.18,71.60 216.81,67.77 221.54,67.77" stroke="#ff0000" stroke-width="0.78" fill="none"/><polygon points="225.92,82.36 223.56,78.53 228.28,78.53" stroke="#ff0000" stroke-width="0.78" fill="none"/><polygon points="232.67,90.80 230.30,86.97 235.03,86.97" stroke="#ff0000" stroke-width="0.78" fill="none"/><polygon points="239.41,93.24 237.05,89.41 241.77,89.41" stroke="#ff0000" stroke-width="0.78" fill="none"/><polygon points="246.15,97.25 243.79,93.43 248.52,93.43" stroke="#ff0000" stroke-width="0.78" fill="none"/><polygon points="252.90,100.51 250.54,96.68 255.26,96.68" stroke="#ff0000" stroke-width="0.78" fill="none"/><polygon points="259.64,99.93 257.28,96.10 262.01,96.10" stroke="#ff0000" stroke-width="0.78" fill="none"/><polygon points="266.39,101.97 264.03,98.14 268.75,98.14" stroke="#ff0000" stroke-width="0.78" fill="none"/><polygon points="273.13,102.95 270.77,99.13 275.50,99.13" stroke="#ff0000" stroke-width="0.78" fill="none"/><polygon points="279.88,103.71 277.52,99.88 282.24,99.88" stroke="#ff0000" stroke-width="0.78" fill="none"/><polygon points="286.62,104.41 284.26,100.58 288.99,100.58" stroke="#ff0000" stroke-width="0.78" fill="none"/><polygon points="293.37,106.97 291.01,103.14 295.73,103.14" stroke="#ff0000" stroke-width="0.78" fill="none"/><polygon points="300.12,109.82 297.75,105.99 302.48,105.99" stroke="#ff0000" stroke-width="0.78" fill="none"/><polygon points="306.86,110.11 304.50,106.28 309.22,106.28" stroke="#ff0000" stroke-width="0.78" fill="none"/><polygon points="313.61,110.11 311.24,106.28 315.97,106.28" stroke="#ff0000" stroke-width="0.78" fill="none"/><polygon points="320.35,110.11 317.99,106.28 322.71,106.28" stroke="#ff0000" stroke-width="0.78" fill="none"/><path d="M239.41 27.18L246.15 33.00L252.90 72.68L259.64 78.84L266.39 85.71L273.13 90.71L279.88 92.86L286.62 95.31L293.37 97.75L300.12 99.61L306.86 100.31L313.61 100.31L320.35 101.76" stroke="#00ff00" stroke-width="0.62" fill="none" stroke-linejoin="round"/><polygon points="239.41,29.83 237.05,26.00 241.77,26.00" fill="#00ff00"/><polygon points="246.15,35.65 243.79,31.82 248.52,31.82" fill="#00ff00"/><polygon points="252.90,75.32 250.54,71.49 255.26,71.49" fill="#00ff00"/><polygon points="259.64,81.49 257.28,77.66 262.01,77.66" fill="#00ff00"/><polygon points="266.39,88.35 264.03,84.53 268.75,84.53" fill="#00ff00"/><polygon points="273.13,93.36 270.77,89.53 275.50,89.53" fill="#00ff00"/><polygon points="279.88,95.51 277.52,91.68 282.24,91.68" fill="#00ff00"/><polygon points="286.62,97.95 284.26,94.12 288.99,94.12" fill="#00ff00"/><polygon points="293.37,100.39 291.01,96.57 295.73,96.57" fill="#00ff00"/><polygon points="300.12,102.26 297.75,98.43 302.48,98.43" fill="#00ff00"/><polygon points="306.86,102.95 304.50,99.13 309.22,99.13" fill="#00ff00"/><polygon points="313.61,102.95 311.24,99.13 315.97,99.13" fill="#00ff00"/><polygon points="320.35,104.41 317.99,100.58 322.71,100.58" fill="#00ff00"/><path d="M293.37 65.58L300.12 75.53L306.86 85.07L313.61 84.31L320.35 91.76" stroke="#0000ff" stroke-width="0.62" fill="none" stroke-linejoin="round"/><polygon points="293.37,63.18 295.77,65.58 293.37,67.98 290.97,65.58" stroke="#0000ff" stroke-width="0.78" fill="none"/><polygon points="300.12,73.13 302.51,75.53 300.12,77.93 297.72,75.53" stroke="#0000ff" stroke-width="0.78" fill="none"/><polygon points="306.86,82.67 309.26,85.07 306.86,87.47 304.46,85.07" stroke="#0000ff" stroke-width="0.78" fill="none"/><polygon points="313.61,81.91 316.00,84.31 313.61,86.71 311.21,84.31" stroke="#0000ff" stroke-width="0.78" fill="none"/><polygon points="320.35,89.36 322.75,91.76 320.35,94.16 317.95,91.76" stroke="#0000ff" stroke-width="0.78" fill="none"/></g><g><path d="M400.60 109.55v-4.6M400.60 -6.85v4.6M434.36 109.55v-4.6M434.36 -6.85v4.6M468.12 109.55v-4.6M468.12 -6.85v4.6M501.88 109.55v-4.6M501.88 -6.85v4.6M535.64 109.55v-4.6M535.64 -6.85v4.6M569.40 109.55v-4.6M569.40 -6.85v4.6M603.16 109.55v-4.6M603.16 -6.85v4.6M636.92 109.55v-4.6M636.92 -6.85v4.6M670.68 109.55v-4.6M670.68 -6.85v4.6M393.90 109.55h4.6M684.00 109.55h-4.6M393.90 97.91h4.6M684.00 97.91h-4.6M393.90 86.27h4.6M684.00 86.27h-4.6M393.90 74.63h4.6M684.00 74.63h-4.6M393.90 62.99h4.6M684.00 62.99h-4.6M393.90 51.35h4.6M684.00 51.35h-4.6M393.90 39.71h4.6M684.00 39.71h-4.6M393.90 28.07h4.6M684.00 28.07h-4.6M393.90 16.43h4.6M684.00 16.43h-4.6M393.90 4.79h4.6M684.00 4.79h-4.6M393.90 -6.85h4.6M684.00 -6.85h-4.6" stroke="#000" stroke-width="0.85" fill="none"/><rect x="393.90" y="-6.85" width="290.10" height="116.40" fill="none" stroke="#000" stroke-width="1.05"/><text transform="translate(402.00 123.25) rotate(0.05)" font-size="9.6" text-anchor="middle">0</text><text transform="translate(435.76 123.25) rotate(0.05)" font-size="9.6" text-anchor="middle">0.05</text><text transform="translate(469.52 123.25) rotate(0.05)" font-size="9.6" text-anchor="middle">0.1</text><text transform="translate(503.28 123.25) rotate(0.05)" font-size="9.6" text-anchor="middle">0.15</text><text transform="translate(537.04 123.25) rotate(0.05)" font-size="9.6" text-anchor="middle">0.2</text><text transform="translate(570.80 123.25) rotate(0.05)" font-size="9.6" text-anchor="middle">0.25</text><text transform="translate(604.56 123.25) rotate(0.05)" font-size="9.6" text-anchor="middle">0.3</text><text transform="translate(638.32 123.25) rotate(0.05)" font-size="9.6" text-anchor="middle">0.35</text><text transform="translate(672.08 123.25) rotate(0.05)" font-size="9.6" text-anchor="middle">0.4</text><text transform="translate(388.10 113.00) rotate(0.05)" font-size="9.6" text-anchor="end">0</text><text transform="translate(388.10 101.36) rotate(0.05)" font-size="9.6" text-anchor="end">2</text><text transform="translate(388.10 89.72) rotate(0.05)" font-size="9.6" text-anchor="end">4</text><text transform="translate(388.10 78.08) rotate(0.05)" font-size="9.6" text-anchor="end">6</text><text transform="translate(388.10 66.44) rotate(0.05)" font-size="9.6" text-anchor="end">8</text><text transform="translate(388.10 54.80) rotate(0.05)" font-size="9.6" text-anchor="end">10</text><text transform="translate(388.10 43.16) rotate(0.05)" font-size="9.6" text-anchor="end">12</text><text transform="translate(388.10 31.52) rotate(0.05)" font-size="9.6" text-anchor="end">14</text><text transform="translate(388.10 19.88) rotate(0.05)" font-size="9.6" text-anchor="end">16</text><text transform="translate(388.10 8.24) rotate(0.05)" font-size="9.6" text-anchor="end">18</text><text transform="translate(388.10 -3.40) rotate(0.05)" font-size="9.6" text-anchor="end">20</text><text transform="translate(538.45 137.45) rotate(0.05)" font-size="9.7" text-anchor="middle">Proportion of peers initially subverted</text><text transform="translate(363.50 51.45) rotate(-89.95)" font-size="9.7" text-anchor="middle">Time to foothold ratio (years)</text><path d="M407.35 55.42L414.10 69.68L420.86 80.45L427.61 88.60L434.36 95.35L441.11 99.66L447.86 103.26L454.62 105.83L461.37 108.35L468.12 108.96L474.87 109.55L481.62 109.55L488.38 109.55L495.13 109.55L501.88 109.55L508.63 109.55L515.38 109.55L522.14 109.55L528.89 109.55L535.64 109.55L542.39 109.55L549.14 109.55L555.90 109.55L562.65 109.55L569.40 109.55L576.15 109.55L582.90 109.55L589.66 109.55L596.41 109.55L603.16 109.55L609.91 109.55L616.66 109.55L623.42 109.55L630.17 109.55L636.92 109.55L643.67 109.55L650.42 109.55L657.18 109.55L663.93 109.55L670.68 109.55" stroke="#ff0000" stroke-width="0.62" fill="none" stroke-linejoin="round"/><path d="M405.10 55.42H409.60M407.35 53.17V57.67" stroke="#ff0000" stroke-width="0.62" fill="none"/><path d="M411.85 69.68H416.35M414.10 67.43V71.93" stroke="#ff0000" stroke-width="0.62" fill="none"/><path d="M418.61 80.45H423.11M420.86 78.20V82.70" stroke="#ff0000" stroke-width="0.62" fill="none"/><path d="M425.36 88.60H429.86M427.61 86.35V90.85" stroke="#ff0000" stroke-width="0.62" fill="none"/><path d="M432.11 95.35H436.61M434.36 93.10V97.60" stroke="#ff0000" stroke-width="0.62" fill="none"/><path d="M438.86 99.66H443.36M441.11 97.41V101.91" stroke="#ff0000" stroke-width="0.62" fill="none"/><path d="M445.61 103.26H450.11M447.86 101.01V105.51" stroke="#ff0000" stroke-width="0.62" fill="none"/><path d="M452.37 105.83H456.87M454.62 103.58V108.08" stroke="#ff0000" stroke-width="0.62" fill="none"/><path d="M459.12 108.35H463.62M461.37 106.10V110.60" stroke="#ff0000" stroke-width="0.62" fill="none"/><path d="M465.87 108.96H470.37M468.12 106.71V111.21" stroke="#ff0000" stroke-width="0.62" fill="none"/><path d="M472.62 109.55H477.12M474.87 107.30V111.80" stroke="#ff0000" stroke-width="0.62" fill="none"/><path d="M479.37 109.55H483.87M481.62 107.30V111.80" stroke="#ff0000" stroke-width="0.62" fill="none"/><path d="M486.13 109.55H490.63M488.38 107.30V111.80" stroke="#ff0000" stroke-width="0.62" fill="none"/><path d="M492.88 109.55H497.38M495.13 107.30V111.80" stroke="#ff0000" stroke-width="0.62" fill="none"/><path d="M499.63 109.55H504.13M501.88 107.30V111.80" stroke="#ff0000" stroke-width="0.62" fill="none"/><path d="M506.38 109.55H510.88M508.63 107.30V111.80" stroke="#ff0000" stroke-width="0.62" fill="none"/><path d="M513.13 109.55H517.63M515.38 107.30V111.80" stroke="#ff0000" stroke-width="0.62" fill="none"/><path d="M519.89 109.55H524.39M522.14 107.30V111.80" stroke="#ff0000" stroke-width="0.62" fill="none"/><path d="M526.64 109.55H531.14M528.89 107.30V111.80" stroke="#ff0000" stroke-width="0.62" fill="none"/><path d="M533.39 109.55H537.89M535.64 107.30V111.80" stroke="#ff0000" stroke-width="0.62" fill="none"/><path d="M540.14 109.55H544.64M542.39 107.30V111.80" stroke="#ff0000" stroke-width="0.62" fill="none"/><path d="M546.89 109.55H551.39M549.14 107.30V111.80" stroke="#ff0000" stroke-width="0.62" fill="none"/><path d="M553.65 109.55H558.15M555.90 107.30V111.80" stroke="#ff0000" stroke-width="0.62" fill="none"/><path d="M560.40 109.55H564.90M562.65 107.30V111.80" stroke="#ff0000" stroke-width="0.62" fill="none"/><path d="M567.15 109.55H571.65M569.40 107.30V111.80" stroke="#ff0000" stroke-width="0.62" fill="none"/><path d="M573.90 109.55H578.40M576.15 107.30V111.80" stroke="#ff0000" stroke-width="0.62" fill="none"/><path d="M580.65 109.55H585.15M582.90 107.30V111.80" stroke="#ff0000" stroke-width="0.62" fill="none"/><path d="M587.41 109.55H591.91M589.66 107.30V111.80" stroke="#ff0000" stroke-width="0.62" fill="none"/><path d="M594.16 109.55H598.66M596.41 107.30V111.80" stroke="#ff0000" stroke-width="0.62" fill="none"/><path d="M600.91 109.55H605.41M603.16 107.30V111.80" stroke="#ff0000" stroke-width="0.62" fill="none"/><path d="M607.66 109.55H612.16M609.91 107.30V111.80" stroke="#ff0000" stroke-width="0.62" fill="none"/><path d="M614.41 109.55H618.91M616.66 107.30V111.80" stroke="#ff0000" stroke-width="0.62" fill="none"/><path d="M621.17 109.55H625.67M623.42 107.30V111.80" stroke="#ff0000" stroke-width="0.62" fill="none"/><path d="M627.92 109.55H632.42M630.17 107.30V111.80" stroke="#ff0000" stroke-width="0.62" fill="none"/><path d="M634.67 109.55H639.17M636.92 107.30V111.80" stroke="#ff0000" stroke-width="0.62" fill="none"/><path d="M641.42 109.55H645.92M643.67 107.30V111.80" stroke="#ff0000" stroke-width="0.62" fill="none"/><path d="M648.17 109.55H652.67M650.42 107.30V111.80" stroke="#ff0000" stroke-width="0.62" fill="none"/><path d="M654.93 109.55H659.43M657.18 107.30V111.80" stroke="#ff0000" stroke-width="0.62" fill="none"/><path d="M661.68 109.55H666.18M663.93 107.30V111.80" stroke="#ff0000" stroke-width="0.62" fill="none"/><path d="M668.43 109.55H672.93M670.68 107.30V111.80" stroke="#ff0000" stroke-width="0.62" fill="none"/><path d="M407.35 40.99L414.10 57.17L420.86 68.52L427.61 78.88L434.36 85.11L441.11 92.50L447.86 96.34L454.62 99.66L461.37 102.57L468.12 104.95L474.87 107.05L481.62 108.35L488.38 109.11L495.13 109.55L501.88 109.55L508.63 109.55L515.38 109.55L522.14 109.55L528.89 109.55L535.64 109.55L542.39 109.55L549.14 109.55L555.90 109.55L562.65 109.55L569.40 109.55L576.15 109.55L582.90 109.55L589.66 109.55L596.41 109.55L603.16 109.55L609.91 109.55L616.66 109.55L623.42 109.55L630.17 109.55L636.92 109.55L643.67 109.55L650.42 109.55L657.18 109.55L663.93 109.55L670.68 109.55" stroke="#00ff00" stroke-width="0.62" fill="none" stroke-linejoin="round"/><path d="M405.10 38.74L409.60 43.24M405.10 43.24L409.60 38.74" stroke="#00ff00" stroke-width="0.62" fill="none"/><path d="M411.85 54.92L416.35 59.42M411.85 59.42L416.35 54.92" stroke="#00ff00" stroke-width="0.62" fill="none"/><path d="M418.61 66.27L423.11 70.77M418.61 70.77L423.11 66.27" stroke="#00ff00" stroke-width="0.62" fill="none"/><path d="M425.36 76.63L429.86 81.13M425.36 81.13L429.86 76.63" stroke="#00ff00" stroke-width="0.62" fill="none"/><path d="M432.11 82.86L436.61 87.36M432.11 87.36L436.61 82.86" stroke="#00ff00" stroke-width="0.62" fill="none"/><path d="M438.86 90.25L443.36 94.75M438.86 94.75L443.36 90.25" stroke="#00ff00" stroke-width="0.62" fill="none"/><path d="M445.61 94.09L450.11 98.59M445.61 98.59L450.11 94.09" stroke="#00ff00" stroke-width="0.62" fill="none"/><path d="M452.37 97.41L456.87 101.91M452.37 101.91L456.87 97.41" stroke="#00ff00" stroke-width="0.62" fill="none"/><path d="M459.12 100.32L463.62 104.82M459.12 104.82L463.62 100.32" stroke="#00ff00" stroke-width="0.62" fill="none"/><path d="M465.87 102.70L470.37 107.20M465.87 107.20L470.37 102.70" stroke="#00ff00" stroke-width="0.62" fill="none"/><path d="M472.62 104.80L477.12 109.30M472.62 109.30L477.12 104.80" stroke="#00ff00" stroke-width="0.62" fill="none"/><path d="M479.37 106.10L483.87 110.60M479.37 110.60L483.87 106.10" stroke="#00ff00" stroke-width="0.62" fill="none"/><path d="M486.13 106.86L490.63 111.36M486.13 111.36L490.63 106.86" stroke="#00ff00" stroke-width="0.62" fill="none"/><path d="M492.88 107.30L497.38 111.80M492.88 111.80L497.38 107.30" stroke="#00ff00" stroke-width="0.62" fill="none"/><path d="M499.63 107.30L504.13 111.80M499.63 111.80L504.13 107.30" stroke="#00ff00" stroke-width="0.62" fill="none"/><path d="M506.38 107.30L510.88 111.80M506.38 111.80L510.88 107.30" stroke="#00ff00" stroke-width="0.62" fill="none"/><path d="M513.13 107.30L517.63 111.80M513.13 111.80L517.63 107.30" stroke="#00ff00" stroke-width="0.62" fill="none"/><path d="M519.89 107.30L524.39 111.80M519.89 111.80L524.39 107.30" stroke="#00ff00" stroke-width="0.62" fill="none"/><path d="M526.64 107.30L531.14 111.80M526.64 111.80L531.14 107.30" stroke="#00ff00" stroke-width="0.62" fill="none"/><path d="M533.39 107.30L537.89 111.80M533.39 111.80L537.89 107.30" stroke="#00ff00" stroke-width="0.62" fill="none"/><path d="M540.14 107.30L544.64 111.80M540.14 111.80L544.64 107.30" stroke="#00ff00" stroke-width="0.62" fill="none"/><path d="M546.89 107.30L551.39 111.80M546.89 111.80L551.39 107.30" stroke="#00ff00" stroke-width="0.62" fill="none"/><path d="M553.65 107.30L558.15 111.80M553.65 111.80L558.15 107.30" stroke="#00ff00" stroke-width="0.62" fill="none"/><path d="M560.40 107.30L564.90 111.80M560.40 111.80L564.90 107.30" stroke="#00ff00" stroke-width="0.62" fill="none"/><path d="M567.15 107.30L571.65 111.80M567.15 111.80L571.65 107.30" stroke="#00ff00" stroke-width="0.62" fill="none"/><path d="M573.90 107.30L578.40 111.80M573.90 111.80L578.40 107.30" stroke="#00ff00" stroke-width="0.62" fill="none"/><path d="M580.65 107.30L585.15 111.80M580.65 111.80L585.15 107.30" stroke="#00ff00" stroke-width="0.62" fill="none"/><path d="M587.41 107.30L591.91 111.80M587.41 111.80L591.91 107.30" stroke="#00ff00" stroke-width="0.62" fill="none"/><path d="M594.16 107.30L598.66 111.80M594.16 111.80L598.66 107.30" stroke="#00ff00" stroke-width="0.62" fill="none"/><path d="M600.91 107.30L605.41 111.80M600.91 111.80L605.41 107.30" stroke="#00ff00" stroke-width="0.62" fill="none"/><path d="M607.66 107.30L612.16 111.80M607.66 111.80L612.16 107.30" stroke="#00ff00" stroke-width="0.62" fill="none"/><path d="M614.41 107.30L618.91 111.80M614.41 111.80L618.91 107.30" stroke="#00ff00" stroke-width="0.62" fill="none"/><path d="M621.17 107.30L625.67 111.80M621.17 111.80L625.67 107.30" stroke="#00ff00" stroke-width="0.62" fill="none"/><path d="M627.92 107.30L632.42 111.80M627.92 111.80L632.42 107.30" stroke="#00ff00" stroke-width="0.62" fill="none"/><path d="M634.67 107.30L639.17 111.80M634.67 111.80L639.17 107.30" stroke="#00ff00" stroke-width="0.62" fill="none"/><path d="M641.42 107.30L645.92 111.80M641.42 111.80L645.92 107.30" stroke="#00ff00" stroke-width="0.62" fill="none"/><path d="M648.17 107.30L652.67 111.80M648.17 111.80L652.67 107.30" stroke="#00ff00" stroke-width="0.62" fill="none"/><path d="M654.93 107.30L659.43 111.80M654.93 111.80L659.43 107.30" stroke="#00ff00" stroke-width="0.62" fill="none"/><path d="M661.68 107.30L666.18 111.80M661.68 111.80L666.18 107.30" stroke="#00ff00" stroke-width="0.62" fill="none"/><path d="M668.43 107.30L672.93 111.80M668.43 111.80L672.93 107.30" stroke="#00ff00" stroke-width="0.62" fill="none"/><path d="M407.35 28.36L414.10 43.78L420.86 56.88L427.61 68.23L434.36 75.21L441.11 84.35L447.86 88.19L454.62 92.90L461.37 96.75L468.12 98.67L474.87 101.11L481.62 103.96L488.38 106.06L495.13 107.20L501.88 108.35L508.63 109.11L515.38 109.55L522.14 109.55L528.89 109.55L535.64 109.55L542.39 109.55L549.14 109.55L555.90 109.55L562.65 109.55L569.40 109.55L576.15 109.55L582.90 109.55L589.66 109.55L596.41 109.55L603.16 109.55L609.91 109.55L616.66 109.55L623.42 109.55L630.17 109.55L636.92 109.55L643.67 109.55L650.42 109.55L657.18 109.55L663.93 109.55L670.68 109.55" stroke="#0000ff" stroke-width="0.62" fill="none" stroke-linejoin="round"/><path d="M405.10 28.36H409.60M407.35 26.11V30.61" stroke="#0000ff" stroke-width="0.62" fill="none"/><path d="M405.10 26.11L409.60 30.61M405.10 30.61L409.60 26.11" stroke="#0000ff" stroke-width="0.62" fill="none"/><path d="M411.85 43.78H416.35M414.10 41.53V46.03" stroke="#0000ff" stroke-width="0.62" fill="none"/><path d="M411.85 41.53L416.35 46.03M411.85 46.03L416.35 41.53" stroke="#0000ff" stroke-width="0.62" fill="none"/><path d="M418.61 56.88H423.11M420.86 54.63V59.13" stroke="#0000ff" stroke-width="0.62" fill="none"/><path d="M418.61 54.63L423.11 59.13M418.61 59.13L423.11 54.63" stroke="#0000ff" stroke-width="0.62" fill="none"/><path d="M425.36 68.23H429.86M427.61 65.98V70.48" stroke="#0000ff" stroke-width="0.62" fill="none"/><path d="M425.36 65.98L429.86 70.48M425.36 70.48L429.86 65.98" stroke="#0000ff" stroke-width="0.62" fill="none"/><path d="M432.11 75.21H436.61M434.36 72.96V77.46" stroke="#0000ff" stroke-width="0.62" fill="none"/><path d="M432.11 72.96L436.61 77.46M432.11 77.46L436.61 72.96" stroke="#0000ff" stroke-width="0.62" fill="none"/><path d="M438.86 84.35H443.36M441.11 82.10V86.60" stroke="#0000ff" stroke-width="0.62" fill="none"/><path d="M438.86 82.10L443.36 86.60M438.86 86.60L443.36 82.10" stroke="#0000ff" stroke-width="0.62" fill="none"/><path d="M445.61 88.19H450.11M447.86 85.94V90.44" stroke="#0000ff" stroke-width="0.62" fill="none"/><path d="M445.61 85.94L450.11 90.44M445.61 90.44L450.11 85.94" stroke="#0000ff" stroke-width="0.62" fill="none"/><path d="M452.37 92.90H456.87M454.62 90.65V95.15" stroke="#0000ff" stroke-width="0.62" fill="none"/><path d="M452.37 90.65L456.87 95.15M452.37 95.15L456.87 90.65" stroke="#0000ff" stroke-width="0.62" fill="none"/><path d="M459.12 96.75H463.62M461.37 94.50V99.00" stroke="#0000ff" stroke-width="0.62" fill="none"/><path d="M459.12 94.50L463.62 99.00M459.12 99.00L463.62 94.50" stroke="#0000ff" stroke-width="0.62" fill="none"/><path d="M465.87 98.67H470.37M468.12 96.42V100.92" stroke="#0000ff" stroke-width="0.62" fill="none"/><path d="M465.87 96.42L470.37 100.92M465.87 100.92L470.37 96.42" stroke="#0000ff" stroke-width="0.62" fill="none"/><path d="M472.62 101.11H477.12M474.87 98.86V103.36" stroke="#0000ff" stroke-width="0.62" fill="none"/><path d="M472.62 98.86L477.12 103.36M472.62 103.36L477.12 98.86" stroke="#0000ff" stroke-width="0.62" fill="none"/><path d="M479.37 103.96H483.87M481.62 101.71V106.21" stroke="#0000ff" stroke-width="0.62" fill="none"/><path d="M479.37 101.71L483.87 106.21M479.37 106.21L483.87 101.71" stroke="#0000ff" stroke-width="0.62" fill="none"/><path d="M486.13 106.06H490.63M488.38 103.81V108.31" stroke="#0000ff" stroke-width="0.62" fill="none"/><path d="M486.13 103.81L490.63 108.31M486.13 108.31L490.63 103.81" stroke="#0000ff" stroke-width="0.62" fill="none"/><path d="M492.88 107.20H497.38M495.13 104.95V109.45" stroke="#0000ff" stroke-width="0.62" fill="none"/><path d="M492.88 104.95L497.38 109.45M492.88 109.45L497.38 104.95" stroke="#0000ff" stroke-width="0.62" fill="none"/><path d="M499.63 108.35H504.13M501.88 106.10V110.60" stroke="#0000ff" stroke-width="0.62" fill="none"/><path d="M499.63 106.10L504.13 110.60M499.63 110.60L504.13 106.10" stroke="#0000ff" stroke-width="0.62" fill="none"/><path d="M506.38 109.11H510.88M508.63 106.86V111.36" stroke="#0000ff" stroke-width="0.62" fill="none"/><path d="M506.38 106.86L510.88 111.36M506.38 111.36L510.88 106.86" stroke="#0000ff" stroke-width="0.62" fill="none"/><path d="M513.13 109.55H517.63M515.38 107.30V111.80" stroke="#0000ff" stroke-width="0.62" fill="none"/><path d="M513.13 107.30L517.63 111.80M513.13 111.80L517.63 107.30" stroke="#0000ff" stroke-width="0.62" fill="none"/><path d="M519.89 109.55H524.39M522.14 107.30V111.80" stroke="#0000ff" stroke-width="0.62" fill="none"/><path d="M519.89 107.30L524.39 111.80M519.89 111.80L524.39 107.30" stroke="#0000ff" stroke-width="0.62" fill="none"/><path d="M526.64 109.55H531.14M528.89 107.30V111.80" stroke="#0000ff" stroke-width="0.62" fill="none"/><path d="M526.64 107.30L531.14 111.80M526.64 111.80L531.14 107.30" stroke="#0000ff" stroke-width="0.62" fill="none"/><path d="M533.39 109.55H537.89M535.64 107.30V111.80" stroke="#0000ff" stroke-width="0.62" fill="none"/><path d="M533.39 107.30L537.89 111.80M533.39 111.80L537.89 107.30" stroke="#0000ff" stroke-width="0.62" fill="none"/><path d="M540.14 109.55H544.64M542.39 107.30V111.80" stroke="#0000ff" stroke-width="0.62" fill="none"/><path d="M540.14 107.30L544.64 111.80M540.14 111.80L544.64 107.30" stroke="#0000ff" stroke-width="0.62" fill="none"/><path d="M546.89 109.55H551.39M549.14 107.30V111.80" stroke="#0000ff" stroke-width="0.62" fill="none"/><path d="M546.89 107.30L551.39 111.80M546.89 111.80L551.39 107.30" stroke="#0000ff" stroke-width="0.62" fill="none"/><path d="M553.65 109.55H558.15M555.90 107.30V111.80" stroke="#0000ff" stroke-width="0.62" fill="none"/><path d="M553.65 107.30L558.15 111.80M553.65 111.80L558.15 107.30" stroke="#0000ff" stroke-width="0.62" fill="none"/><path d="M560.40 109.55H564.90M562.65 107.30V111.80" stroke="#0000ff" stroke-width="0.62" fill="none"/><path d="M560.40 107.30L564.90 111.80M560.40 111.80L564.90 107.30" stroke="#0000ff" stroke-width="0.62" fill="none"/><path d="M567.15 109.55H571.65M569.40 107.30V111.80" stroke="#0000ff" stroke-width="0.62" fill="none"/><path d="M567.15 107.30L571.65 111.80M567.15 111.80L571.65 107.30" stroke="#0000ff" stroke-width="0.62" fill="none"/><path d="M573.90 109.55H578.40M576.15 107.30V111.80" stroke="#0000ff" stroke-width="0.62" fill="none"/><path d="M573.90 107.30L578.40 111.80M573.90 111.80L578.40 107.30" stroke="#0000ff" stroke-width="0.62" fill="none"/><path d="M580.65 109.55H585.15M582.90 107.30V111.80" stroke="#0000ff" stroke-width="0.62" fill="none"/><path d="M580.65 107.30L585.15 111.80M580.65 111.80L585.15 107.30" stroke="#0000ff" stroke-width="0.62" fill="none"/><path d="M587.41 109.55H591.91M589.66 107.30V111.80" stroke="#0000ff" stroke-width="0.62" fill="none"/><path d="M587.41 107.30L591.91 111.80M587.41 111.80L591.91 107.30" stroke="#0000ff" stroke-width="0.62" fill="none"/><path d="M594.16 109.55H598.66M596.41 107.30V111.80" stroke="#0000ff" stroke-width="0.62" fill="none"/><path d="M594.16 107.30L598.66 111.80M594.16 111.80L598.66 107.30" stroke="#0000ff" stroke-width="0.62" fill="none"/><path d="M600.91 109.55H605.41M603.16 107.30V111.80" stroke="#0000ff" stroke-width="0.62" fill="none"/><path d="M600.91 107.30L605.41 111.80M600.91 111.80L605.41 107.30" stroke="#0000ff" stroke-width="0.62" fill="none"/><path d="M607.66 109.55H612.16M609.91 107.30V111.80" stroke="#0000ff" stroke-width="0.62" fill="none"/><path d="M607.66 107.30L612.16 111.80M607.66 111.80L612.16 107.30" stroke="#0000ff" stroke-width="0.62" fill="none"/><path d="M614.41 109.55H618.91M616.66 107.30V111.80" stroke="#0000ff" stroke-width="0.62" fill="none"/><path d="M614.41 107.30L618.91 111.80M614.41 111.80L618.91 107.30" stroke="#0000ff" stroke-width="0.62" fill="none"/><path d="M621.17 109.55H625.67M623.42 107.30V111.80" stroke="#0000ff" stroke-width="0.62" fill="none"/><path d="M621.17 107.30L625.67 111.80M621.17 111.80L625.67 107.30" stroke="#0000ff" stroke-width="0.62" fill="none"/><path d="M627.92 109.55H632.42M630.17 107.30V111.80" stroke="#0000ff" stroke-width="0.62" fill="none"/><path d="M627.92 107.30L632.42 111.80M627.92 111.80L632.42 107.30" stroke="#0000ff" stroke-width="0.62" fill="none"/><path d="M634.67 109.55H639.17M636.92 107.30V111.80" stroke="#0000ff" stroke-width="0.62" fill="none"/><path d="M634.67 107.30L639.17 111.80M634.67 111.80L639.17 107.30" stroke="#0000ff" stroke-width="0.62" fill="none"/><path d="M641.42 109.55H645.92M643.67 107.30V111.80" stroke="#0000ff" stroke-width="0.62" fill="none"/><path d="M641.42 107.30L645.92 111.80M641.42 111.80L645.92 107.30" stroke="#0000ff" stroke-width="0.62" fill="none"/><path d="M648.17 109.55H652.67M650.42 107.30V111.80" stroke="#0000ff" stroke-width="0.62" fill="none"/><path d="M648.17 107.30L652.67 111.80M648.17 111.80L652.67 107.30" stroke="#0000ff" stroke-width="0.62" fill="none"/><path d="M654.93 109.55H659.43M657.18 107.30V111.80" stroke="#0000ff" stroke-width="0.62" fill="none"/><path d="M654.93 107.30L659.43 111.80M654.93 111.80L659.43 107.30" stroke="#0000ff" stroke-width="0.62" fill="none"/><path d="M661.68 109.55H666.18M663.93 107.30V111.80" stroke="#0000ff" stroke-width="0.62" fill="none"/><path d="M661.68 107.30L666.18 111.80M661.68 111.80L666.18 107.30" stroke="#0000ff" stroke-width="0.62" fill="none"/><path d="M668.43 109.55H672.93M670.68 107.30V111.80" stroke="#0000ff" stroke-width="0.62" fill="none"/><path d="M668.43 107.30L672.93 111.80M668.43 111.80L672.93 107.30" stroke="#0000ff" stroke-width="0.62" fill="none"/><path d="M407.35 11.19L414.10 29.23L420.86 43.78L427.61 56.41L434.36 64.74L441.11 74.63L447.86 80.45L454.62 85.34L461.37 91.04L468.12 92.90L474.87 96.34L481.62 98.49L488.38 101.11L495.13 102.57L501.88 103.96L508.63 104.95L515.38 106.06L522.14 107.58L528.89 108.35L535.64 109.11L542.39 109.26L549.14 109.26L555.90 109.26L562.65 109.26L569.40 109.26L576.15 109.26L582.90 109.26L589.66 109.26L596.41 109.26L603.16 109.26L609.91 109.26L616.66 109.26L623.42 109.26L630.17 109.26L636.92 109.26L643.67 109.26L650.42 109.26L657.18 109.26L663.93 109.26L670.68 109.26" stroke="#ff00ff" stroke-width="0.62" fill="none" stroke-linejoin="round"/><rect x="405.30" y="9.14" width="4.10" height="4.10" stroke="#ff00ff" stroke-width="0.78" fill="none"/><rect x="412.05" y="27.18" width="4.10" height="4.10" stroke="#ff00ff" stroke-width="0.78" fill="none"/><rect x="418.81" y="41.73" width="4.10" height="4.10" stroke="#ff00ff" stroke-width="0.78" fill="none"/><rect x="425.56" y="54.36" width="4.10" height="4.10" stroke="#ff00ff" stroke-width="0.78" fill="none"/><rect x="432.31" y="62.69" width="4.10" height="4.10" stroke="#ff00ff" stroke-width="0.78" fill="none"/><rect x="439.06" y="72.58" width="4.10" height="4.10" stroke="#ff00ff" stroke-width="0.78" fill="none"/><rect x="445.81" y="78.40" width="4.10" height="4.10" stroke="#ff00ff" stroke-width="0.78" fill="none"/><rect x="452.57" y="83.29" width="4.10" height="4.10" stroke="#ff00ff" stroke-width="0.78" fill="none"/><rect x="459.32" y="88.99" width="4.10" height="4.10" stroke="#ff00ff" stroke-width="0.78" fill="none"/><rect x="466.07" y="90.85" width="4.10" height="4.10" stroke="#ff00ff" stroke-width="0.78" fill="none"/><rect x="472.82" y="94.29" width="4.10" height="4.10" stroke="#ff00ff" stroke-width="0.78" fill="none"/><rect x="479.57" y="96.44" width="4.10" height="4.10" stroke="#ff00ff" stroke-width="0.78" fill="none"/><rect x="486.33" y="99.06" width="4.10" height="4.10" stroke="#ff00ff" stroke-width="0.78" fill="none"/><rect x="493.08" y="100.52" width="4.10" height="4.10" stroke="#ff00ff" stroke-width="0.78" fill="none"/><rect x="499.83" y="101.91" width="4.10" height="4.10" stroke="#ff00ff" stroke-width="0.78" fill="none"/><rect x="506.58" y="102.90" width="4.10" height="4.10" stroke="#ff00ff" stroke-width="0.78" fill="none"/><rect x="513.33" y="104.01" width="4.10" height="4.10" stroke="#ff00ff" stroke-width="0.78" fill="none"/><rect x="520.09" y="105.53" width="4.10" height="4.10" stroke="#ff00ff" stroke-width="0.78" fill="none"/><rect x="526.84" y="106.30" width="4.10" height="4.10" stroke="#ff00ff" stroke-width="0.78" fill="none"/><rect x="533.59" y="107.06" width="4.10" height="4.10" stroke="#ff00ff" stroke-width="0.78" fill="none"/><rect x="540.34" y="107.21" width="4.10" height="4.10" stroke="#ff00ff" stroke-width="0.78" fill="none"/><rect x="547.09" y="107.21" width="4.10" height="4.10" stroke="#ff00ff" stroke-width="0.78" fill="none"/><rect x="553.85" y="107.21" width="4.10" height="4.10" stroke="#ff00ff" stroke-width="0.78" fill="none"/><rect x="560.60" y="107.21" width="4.10" height="4.10" stroke="#ff00ff" stroke-width="0.78" fill="none"/><rect x="567.35" y="107.21" width="4.10" height="4.10" stroke="#ff00ff" stroke-width="0.78" fill="none"/><rect x="574.10" y="107.21" width="4.10" height="4.10" stroke="#ff00ff" stroke-width="0.78" fill="none"/><rect x="580.85" y="107.21" width="4.10" height="4.10" stroke="#ff00ff" stroke-width="0.78" fill="none"/><rect x="587.61" y="107.21" width="4.10" height="4.10" stroke="#ff00ff" stroke-width="0.78" fill="none"/><rect x="594.36" y="107.21" width="4.10" height="4.10" stroke="#ff00ff" stroke-width="0.78" fill="none"/><rect x="601.11" y="107.21" width="4.10" height="4.10" stroke="#ff00ff" stroke-width="0.78" fill="none"/><rect x="607.86" y="107.21" width="4.10" height="4.10" stroke="#ff00ff" stroke-width="0.78" fill="none"/><rect x="614.61" y="107.21" width="4.10" height="4.10" stroke="#ff00ff" stroke-width="0.78" fill="none"/><rect x="621.37" y="107.21" width="4.10" height="4.10" stroke="#ff00ff" stroke-width="0.78" fill="none"/><rect x="628.12" y="107.21" width="4.10" height="4.10" stroke="#ff00ff" stroke-width="0.78" fill="none"/><rect x="634.87" y="107.21" width="4.10" height="4.10" stroke="#ff00ff" stroke-width="0.78" fill="none"/><rect x="641.62" y="107.21" width="4.10" height="4.10" stroke="#ff00ff" stroke-width="0.78" fill="none"/><rect x="648.37" y="107.21" width="4.10" height="4.10" stroke="#ff00ff" stroke-width="0.78" fill="none"/><rect x="655.13" y="107.21" width="4.10" height="4.10" stroke="#ff00ff" stroke-width="0.78" fill="none"/><rect x="661.88" y="107.21" width="4.10" height="4.10" stroke="#ff00ff" stroke-width="0.78" fill="none"/><rect x="668.63" y="107.21" width="4.10" height="4.10" stroke="#ff00ff" stroke-width="0.78" fill="none"/><path d="M407.35 -6.27L414.10 9.80L420.86 27.66L427.61 42.04L434.36 52.98L441.11 62.99L447.86 70.15L454.62 76.03L461.37 83.19L468.12 85.11L474.87 90.34L481.62 92.38L488.38 96.34L495.13 97.50L501.88 99.66L508.63 100.35L515.38 102.10L522.14 104.66L528.89 105.48L535.64 107.05L542.39 107.97L549.14 108.35L555.90 108.73L562.65 109.11L569.40 109.11L576.15 109.11L582.90 109.11L589.66 109.11L596.41 109.11L603.16 109.11L609.91 109.11L616.66 109.11L623.42 109.11L630.17 109.11L636.92 109.11L643.67 109.11L650.42 109.11L657.18 109.11L663.93 109.11L670.68 109.11" stroke="#00ffff" stroke-width="0.62" fill="none" stroke-linejoin="round"/><rect x="411.95" y="7.65" width="4.30" height="4.30" fill="#00ffff"/><rect x="418.71" y="25.51" width="4.30" height="4.30" fill="#00ffff"/><rect x="425.46" y="39.89" width="4.30" height="4.30" fill="#00ffff"/><rect x="432.21" y="50.83" width="4.30" height="4.30" fill="#00ffff"/><rect x="438.96" y="60.84" width="4.30" height="4.30" fill="#00ffff"/><rect x="445.71" y="68.00" width="4.30" height="4.30" fill="#00ffff"/><rect x="452.47" y="73.88" width="4.30" height="4.30" fill="#00ffff"/><rect x="459.22" y="81.04" width="4.30" height="4.30" fill="#00ffff"/><rect x="465.97" y="82.96" width="4.30" height="4.30" fill="#00ffff"/><rect x="472.72" y="88.19" width="4.30" height="4.30" fill="#00ffff"/><rect x="479.47" y="90.23" width="4.30" height="4.30" fill="#00ffff"/><rect x="486.23" y="94.19" width="4.30" height="4.30" fill="#00ffff"/><rect x="492.98" y="95.35" width="4.30" height="4.30" fill="#00ffff"/><rect x="499.73" y="97.51" width="4.30" height="4.30" fill="#00ffff"/><rect x="506.48" y="98.20" width="4.30" height="4.30" fill="#00ffff"/><rect x="513.23" y="99.95" width="4.30" height="4.30" fill="#00ffff"/><rect x="519.99" y="102.51" width="4.30" height="4.30" fill="#00ffff"/><rect x="526.74" y="103.33" width="4.30" height="4.30" fill="#00ffff"/><rect x="533.49" y="104.90" width="4.30" height="4.30" fill="#00ffff"/><rect x="540.24" y="105.82" width="4.30" height="4.30" fill="#00ffff"/><rect x="546.99" y="106.20" width="4.30" height="4.30" fill="#00ffff"/><rect x="553.75" y="106.58" width="4.30" height="4.30" fill="#00ffff"/><rect x="560.50" y="106.96" width="4.30" height="4.30" fill="#00ffff"/><rect x="567.25" y="106.96" width="4.30" height="4.30" fill="#00ffff"/><rect x="574.00" y="106.96" width="4.30" height="4.30" fill="#00ffff"/><rect x="580.75" y="106.96" width="4.30" height="4.30" fill="#00ffff"/><rect x="587.51" y="106.96" width="4.30" height="4.30" fill="#00ffff"/><rect x="594.26" y="106.96" width="4.30" height="4.30" fill="#00ffff"/><rect x="601.01" y="106.96" width="4.30" height="4.30" fill="#00ffff"/><rect x="607.76" y="106.96" width="4.30" height="4.30" fill="#00ffff"/><rect x="614.51" y="106.96" width="4.30" height="4.30" fill="#00ffff"/><rect x="621.27" y="106.96" width="4.30" height="4.30" fill="#00ffff"/><rect x="628.02" y="106.96" width="4.30" height="4.30" fill="#00ffff"/><rect x="634.77" y="106.96" width="4.30" height="4.30" fill="#00ffff"/><rect x="641.52" y="106.96" width="4.30" height="4.30" fill="#00ffff"/><rect x="648.27" y="106.96" width="4.30" height="4.30" fill="#00ffff"/><rect x="655.03" y="106.96" width="4.30" height="4.30" fill="#00ffff"/><rect x="661.78" y="106.96" width="4.30" height="4.30" fill="#00ffff"/><rect x="668.53" y="106.96" width="4.30" height="4.30" fill="#00ffff"/><path d="M420.86 6.24L427.61 22.37L434.36 33.31L441.11 50.19L447.86 60.08L454.62 64.44L461.37 72.88L468.12 76.73L474.87 83.19L481.62 85.11L488.38 89.47L495.13 91.33L501.88 95.00L508.63 95.64L515.38 98.20L522.14 100.06L528.89 100.65L535.64 102.57L542.39 104.37L549.14 105.65L555.90 107.61L562.65 108.22L569.40 108.65L576.15 108.91L582.90 109.08L589.66 109.08L596.41 109.08L603.16 109.08L609.91 109.08L616.66 109.08L623.42 109.08L630.17 109.08L636.92 109.08L643.67 109.08L650.42 109.08L657.18 109.08L663.93 109.08L670.68 109.08" stroke="#000000" stroke-width="0.62" fill="none" stroke-linejoin="round"/><circle cx="420.86" cy="6.24" r="2.55" fill="#000000"/><circle cx="427.61" cy="22.37" r="2.55" fill="#000000"/><circle cx="434.36" cy="33.31" r="2.55" fill="#000000"/><circle cx="441.11" cy="50.19" r="2.55" fill="#000000"/><circle cx="447.86" cy="60.08" r="2.55" fill="#000000"/><circle cx="454.62" cy="64.44" r="2.55" fill="#000000"/><circle cx="461.37" cy="72.88" r="2.55" fill="#000000"/><circle cx="468.12" cy="76.73" r="2.55" fill="#000000"/><circle cx="474.87" cy="83.19" r="2.55" fill="#000000"/><circle cx="481.62" cy="85.11" r="2.55" fill="#000000"/><circle cx="488.38" cy="89.47" r="2.55" fill="#000000"/><circle cx="495.13" cy="91.33" r="2.55" fill="#000000"/><circle cx="501.88" cy="95.00" r="2.55" fill="#000000"/><circle cx="508.63" cy="95.64" r="2.55" fill="#000000"/><circle cx="515.38" cy="98.20" r="2.55" fill="#000000"/><circle cx="522.14" cy="100.06" r="2.55" fill="#000000"/><circle cx="528.89" cy="100.65" r="2.55" fill="#000000"/><circle cx="535.64" cy="102.57" r="2.55" fill="#000000"/><circle cx="542.39" cy="104.37" r="2.55" fill="#000000"/><circle cx="549.14" cy="105.65" r="2.55" fill="#000000"/><circle cx="555.90" cy="107.61" r="2.55" fill="#000000"/><circle cx="562.65" cy="108.22" r="2.55" fill="#000000"/><circle cx="569.40" cy="108.65" r="2.55" fill="#000000"/><circle cx="576.15" cy="108.91" r="2.55" fill="#000000"/><circle cx="582.90" cy="109.08" r="2.55" fill="#000000"/><circle cx="589.66" cy="109.08" r="2.55" fill="#000000"/><circle cx="596.41" cy="109.08" r="2.55" fill="#000000"/><circle cx="603.16" cy="109.08" r="2.55" fill="#000000"/><circle cx="609.91" cy="109.08" r="2.55" fill="#000000"/><circle cx="616.66" cy="109.08" r="2.55" fill="#000000"/><circle cx="623.42" cy="109.08" r="2.55" fill="#000000"/><circle cx="630.17" cy="109.08" r="2.55" fill="#000000"/><circle cx="636.92" cy="109.08" r="2.55" fill="#000000"/><circle cx="643.67" cy="109.08" r="2.55" fill="#000000"/><circle cx="650.42" cy="109.08" r="2.55" fill="#000000"/><circle cx="657.18" cy="109.08" r="2.55" fill="#000000"/><circle cx="663.93" cy="109.08" r="2.55" fill="#000000"/><circle cx="670.68" cy="109.08" r="2.55" fill="#000000"/><path d="M427.61 -6.85L434.36 9.45L441.11 26.91L447.86 40.87L454.62 47.86L461.37 60.25L468.12 64.44L474.87 71.25L481.62 74.46L488.38 80.45L495.13 84.17L501.88 88.19L508.63 88.89L515.38 92.90L522.14 95.81L528.89 96.34L535.64 98.49L542.39 99.95L549.14 100.35L555.90 102.10L562.65 102.97L569.40 103.56L576.15 104.37L582.90 105.48L589.66 106.46L596.41 107.26L603.16 107.65L609.91 108.05L616.66 108.45L623.42 108.61L630.17 108.61L636.92 108.61L643.67 108.61L650.42 108.61L657.18 108.61L663.93 108.61L670.68 108.61" stroke="#ff4d00" stroke-width="0.62" fill="none" stroke-linejoin="round"/><polygon points="434.36,6.80 432.00,10.63 436.72,10.63" stroke="#ff4d00" stroke-width="0.78" fill="none"/><polygon points="441.11,24.26 438.75,28.09 443.47,28.09" stroke="#ff4d00" stroke-width="0.78" fill="none"/><polygon points="447.86,38.23 445.50,42.06 450.23,42.06" stroke="#ff4d00" stroke-width="0.78" fill="none"/><polygon points="454.62,45.21 452.25,49.04 456.98,49.04" stroke="#ff4d00" stroke-width="0.78" fill="none"/><polygon points="461.37,57.61 459.01,61.44 463.73,61.44" stroke="#ff4d00" stroke-width="0.78" fill="none"/><polygon points="468.12,61.80 465.76,65.63 470.48,65.63" stroke="#ff4d00" stroke-width="0.78" fill="none"/><polygon points="474.87,68.61 472.51,72.44 477.23,72.44" stroke="#ff4d00" stroke-width="0.78" fill="none"/><polygon points="481.62,71.81 479.26,75.64 483.99,75.64" stroke="#ff4d00" stroke-width="0.78" fill="none"/><polygon points="488.38,77.80 486.01,81.63 490.74,81.63" stroke="#ff4d00" stroke-width="0.78" fill="none"/><polygon points="495.13,81.53 492.77,85.36 497.49,85.36" stroke="#ff4d00" stroke-width="0.78" fill="none"/><polygon points="501.88,85.54 499.52,89.37 504.24,89.37" stroke="#ff4d00" stroke-width="0.78" fill="none"/><polygon points="508.63,86.24 506.27,90.07 510.99,90.07" stroke="#ff4d00" stroke-width="0.78" fill="none"/><polygon points="515.38,90.26 513.02,94.09 517.75,94.09" stroke="#ff4d00" stroke-width="0.78" fill="none"/><polygon points="522.14,93.17 519.77,97.00 524.50,97.00" stroke="#ff4d00" stroke-width="0.78" fill="none"/><polygon points="528.89,93.69 526.53,97.52 531.25,97.52" stroke="#ff4d00" stroke-width="0.78" fill="none"/><polygon points="535.64,95.85 533.28,99.67 538.00,99.67" stroke="#ff4d00" stroke-width="0.78" fill="none"/><polygon points="542.39,97.30 540.03,101.13 544.75,101.13" stroke="#ff4d00" stroke-width="0.78" fill="none"/><polygon points="549.14,97.71 546.78,101.54 551.51,101.54" stroke="#ff4d00" stroke-width="0.78" fill="none"/><polygon points="555.90,99.45 553.53,103.28 558.26,103.28" stroke="#ff4d00" stroke-width="0.78" fill="none"/><polygon points="562.65,100.33 560.29,104.15 565.01,104.15" stroke="#ff4d00" stroke-width="0.78" fill="none"/><polygon points="569.40,100.91 567.04,104.74 571.76,104.74" stroke="#ff4d00" stroke-width="0.78" fill="none"/><polygon points="576.15,101.72 573.79,105.55 578.51,105.55" stroke="#ff4d00" stroke-width="0.78" fill="none"/><polygon points="582.90,102.83 580.54,106.66 585.27,106.66" stroke="#ff4d00" stroke-width="0.78" fill="none"/><polygon points="589.66,103.81 587.29,107.64 592.02,107.64" stroke="#ff4d00" stroke-width="0.78" fill="none"/><polygon points="596.41,104.61 594.05,108.44 598.77,108.44" stroke="#ff4d00" stroke-width="0.78" fill="none"/><polygon points="603.16,105.01 600.80,108.84 605.52,108.84" stroke="#ff4d00" stroke-width="0.78" fill="none"/><polygon points="609.91,105.41 607.55,109.23 612.27,109.23" stroke="#ff4d00" stroke-width="0.78" fill="none"/><polygon points="616.66,105.81 614.30,109.63 619.03,109.63" stroke="#ff4d00" stroke-width="0.78" fill="none"/><polygon points="623.42,105.97 621.05,109.79 625.78,109.79" stroke="#ff4d00" stroke-width="0.78" fill="none"/><polygon points="630.17,105.97 627.81,109.79 632.53,109.79" stroke="#ff4d00" stroke-width="0.78" fill="none"/><polygon points="636.92,105.97 634.56,109.79 639.28,109.79" stroke="#ff4d00" stroke-width="0.78" fill="none"/><polygon points="643.67,105.97 641.31,109.79 646.03,109.79" stroke="#ff4d00" stroke-width="0.78" fill="none"/><polygon points="650.42,105.97 648.06,109.79 652.79,109.79" stroke="#ff4d00" stroke-width="0.78" fill="none"/><polygon points="657.18,105.97 654.81,109.79 659.54,109.79" stroke="#ff4d00" stroke-width="0.78" fill="none"/><polygon points="663.93,105.97 661.57,109.79 666.29,109.79" stroke="#ff4d00" stroke-width="0.78" fill="none"/><polygon points="670.68,105.97 668.32,109.79 673.04,109.79" stroke="#ff4d00" stroke-width="0.78" fill="none"/><path d="M454.62 0.95L461.37 34.82L468.12 38.55L474.87 54.38L481.62 59.79L488.38 65.90L495.13 72.71L501.88 76.96L508.63 79.58L515.38 84.17L522.14 88.89L528.89 88.89L535.64 92.50L542.39 95.81L549.14 96.51L555.90 97.91L562.65 98.20L569.40 98.96L576.15 100.06L582.90 101.81L589.66 103.26L596.41 103.96L603.16 104.95L609.91 105.48L616.66 106.06L623.42 106.81L630.17 107.55L636.92 107.93L643.67 108.30L650.42 108.30L657.18 108.30L663.93 108.30L670.68 108.30" stroke="#808080" stroke-width="0.62" fill="none" stroke-linejoin="round"/><polygon points="454.62,-1.70 452.25,2.13 456.98,2.13" fill="#808080"/><polygon points="461.37,32.18 459.01,36.00 463.73,36.00" fill="#808080"/><polygon points="468.12,35.90 465.76,39.73 470.48,39.73" fill="#808080"/><polygon points="474.87,51.73 472.51,55.56 477.23,55.56" fill="#808080"/><polygon points="481.62,57.14 479.26,60.97 483.99,60.97" fill="#808080"/><polygon points="488.38,63.25 486.01,67.08 490.74,67.08" fill="#808080"/><polygon points="495.13,70.06 492.77,73.89 497.49,73.89" fill="#808080"/><polygon points="501.88,74.31 499.52,78.14 504.24,78.14" fill="#808080"/><polygon points="508.63,76.93 506.27,80.76 510.99,80.76" fill="#808080"/><polygon points="515.38,81.53 513.02,85.36 517.75,85.36" fill="#808080"/><polygon points="522.14,86.24 519.77,90.07 524.50,90.07" fill="#808080"/><polygon points="528.89,86.24 526.53,90.07 531.25,90.07" fill="#808080"/><polygon points="535.64,89.85 533.28,93.68 538.00,93.68" fill="#808080"/><polygon points="542.39,93.17 540.03,97.00 544.75,97.00" fill="#808080"/><polygon points="549.14,93.87 546.78,97.69 551.51,97.69" fill="#808080"/><polygon points="555.90,95.26 553.53,99.09 558.26,99.09" fill="#808080"/><polygon points="562.65,95.55 560.29,99.38 565.01,99.38" fill="#808080"/><polygon points="569.40,96.31 567.04,100.14 571.76,100.14" fill="#808080"/><polygon points="576.15,97.42 573.79,101.24 578.51,101.24" fill="#808080"/><polygon points="582.90,99.16 580.54,102.99 585.27,102.99" fill="#808080"/><polygon points="589.66,100.62 587.29,104.45 592.02,104.45" fill="#808080"/><polygon points="596.41,101.32 594.05,105.14 598.77,105.14" fill="#808080"/><polygon points="603.16,102.31 600.80,106.13 605.52,106.13" fill="#808080"/><polygon points="609.91,102.83 607.55,106.66 612.27,106.66" fill="#808080"/><polygon points="616.66,103.41 614.30,107.24 619.03,107.24" fill="#808080"/><polygon points="623.42,104.16 621.05,107.99 625.78,107.99" fill="#808080"/><polygon points="630.17,104.91 627.81,108.74 632.53,108.74" fill="#808080"/><polygon points="636.92,105.28 634.56,109.11 639.28,109.11" fill="#808080"/><polygon points="643.67,105.66 641.31,109.48 646.03,109.48" fill="#808080"/><polygon points="650.42,105.66 648.06,109.48 652.79,109.48" fill="#808080"/><polygon points="657.18,105.66 654.81,109.48 659.54,109.48" fill="#808080"/><polygon points="663.93,105.66 661.57,109.48 666.29,109.48" fill="#808080"/><polygon points="670.68,105.66 668.32,109.48 673.04,109.48" fill="#808080"/><path d="M481.62 -1.90L488.38 28.07L495.13 47.39L501.88 59.03L508.63 65.73L515.38 70.96L522.14 78.47L528.89 79.29L535.64 84.58L542.39 88.19L549.14 89.65L555.90 92.21L562.65 93.66L569.40 93.95L576.15 96.16L582.90 98.20L589.66 99.66L596.41 100.35L603.16 101.11L609.91 101.81L616.66 102.97L623.42 104.37L630.17 105.48L636.92 106.06L643.67 106.81L650.42 107.51L657.18 107.80L663.93 107.80L670.68 107.80" stroke="#ff0000" stroke-width="0.62" fill="none" stroke-linejoin="round"/><polygon points="481.62,0.74 479.26,-3.08 483.99,-3.08" stroke="#ff0000" stroke-width="0.78" fill="none"/><polygon points="488.38,30.72 486.01,26.89 490.74,26.89" stroke="#ff0000" stroke-width="0.78" fill="none"/><polygon points="495.13,50.04 492.77,46.21 497.49,46.21" stroke="#ff0000" stroke-width="0.78" fill="none"/><polygon points="501.88,61.68 499.52,57.85 504.24,57.85" stroke="#ff0000" stroke-width="0.78" fill="none"/><polygon points="508.63,68.37 506.27,64.54 510.99,64.54" stroke="#ff0000" stroke-width="0.78" fill="none"/><polygon points="515.38,73.61 513.02,69.78 517.75,69.78" stroke="#ff0000" stroke-width="0.78" fill="none"/><polygon points="522.14,81.12 519.77,77.29 524.50,77.29" stroke="#ff0000" stroke-width="0.78" fill="none"/><polygon points="528.89,81.93 526.53,78.10 531.25,78.10" stroke="#ff0000" stroke-width="0.78" fill="none"/><polygon points="535.64,87.23 533.28,83.40 538.00,83.40" stroke="#ff0000" stroke-width="0.78" fill="none"/><polygon points="542.39,90.84 540.03,87.01 544.75,87.01" stroke="#ff0000" stroke-width="0.78" fill="none"/><polygon points="549.14,92.29 546.78,88.46 551.51,88.46" stroke="#ff0000" stroke-width="0.78" fill="none"/><polygon points="555.90,94.85 553.53,91.03 558.26,91.03" stroke="#ff0000" stroke-width="0.78" fill="none"/><polygon points="562.65,96.31 560.29,92.48 565.01,92.48" stroke="#ff0000" stroke-width="0.78" fill="none"/><polygon points="569.40,96.60 567.04,92.77 571.76,92.77" stroke="#ff0000" stroke-width="0.78" fill="none"/><polygon points="576.15,98.81 573.79,94.98 578.51,94.98" stroke="#ff0000" stroke-width="0.78" fill="none"/><polygon points="582.90,100.85 580.54,97.02 585.27,97.02" stroke="#ff0000" stroke-width="0.78" fill="none"/><polygon points="589.66,102.30 587.29,98.47 592.02,98.47" stroke="#ff0000" stroke-width="0.78" fill="none"/><polygon points="596.41,103.00 594.05,99.17 598.77,99.17" stroke="#ff0000" stroke-width="0.78" fill="none"/><polygon points="603.16,103.76 600.80,99.93 605.52,99.93" stroke="#ff0000" stroke-width="0.78" fill="none"/><polygon points="609.91,104.46 607.55,100.63 612.27,100.63" stroke="#ff0000" stroke-width="0.78" fill="none"/><polygon points="616.66,105.62 614.30,101.79 619.03,101.79" stroke="#ff0000" stroke-width="0.78" fill="none"/><polygon points="623.42,107.02 621.05,103.19 625.78,103.19" stroke="#ff0000" stroke-width="0.78" fill="none"/><polygon points="630.17,108.12 627.81,104.29 632.53,104.29" stroke="#ff0000" stroke-width="0.78" fill="none"/><polygon points="636.92,108.70 634.56,104.88 639.28,104.88" stroke="#ff0000" stroke-width="0.78" fill="none"/><polygon points="643.67,109.46 641.31,105.63 646.03,105.63" stroke="#ff0000" stroke-width="0.78" fill="none"/><polygon points="650.42,110.16 648.06,106.33 652.79,106.33" stroke="#ff0000" stroke-width="0.78" fill="none"/><polygon points="657.18,110.45 654.81,106.62 659.54,106.62" stroke="#ff0000" stroke-width="0.78" fill="none"/><polygon points="663.93,110.45 661.57,106.62 666.29,106.62" stroke="#ff0000" stroke-width="0.78" fill="none"/><polygon points="670.68,110.45 668.32,106.62 673.04,106.62" stroke="#ff0000" stroke-width="0.78" fill="none"/><path d="M522.14 17.01L528.89 29.52L535.64 59.79L542.39 67.82L549.14 74.28L555.90 82.02L562.65 81.44L569.40 84.58L576.15 87.78L582.90 91.33L589.66 93.25L596.41 93.95L603.16 96.16L609.91 97.33L616.66 98.67L623.42 99.66L630.17 100.35L636.92 101.11L643.67 101.81L650.42 103.56L657.18 104.95L663.93 104.95L670.68 105.48" stroke="#00ff00" stroke-width="0.62" fill="none" stroke-linejoin="round"/><polygon points="522.14,19.66 519.77,15.83 524.50,15.83" fill="#00ff00"/><polygon points="528.89,32.17 526.53,28.34 531.25,28.34" fill="#00ff00"/><polygon points="535.64,62.43 533.28,58.61 538.00,58.61" fill="#00ff00"/><polygon points="542.39,70.47 540.03,66.64 544.75,66.64" fill="#00ff00"/><polygon points="549.14,76.93 546.78,73.10 551.51,73.10" fill="#00ff00"/><polygon points="555.90,84.67 553.53,80.84 558.26,80.84" fill="#00ff00"/><polygon points="562.65,84.09 560.29,80.26 565.01,80.26" fill="#00ff00"/><polygon points="569.40,87.23 567.04,83.40 571.76,83.40" fill="#00ff00"/><polygon points="576.15,90.43 573.79,86.60 578.51,86.60" fill="#00ff00"/><polygon points="582.90,93.98 580.54,90.15 585.27,90.15" fill="#00ff00"/><polygon points="589.66,95.90 587.29,92.07 592.02,92.07" fill="#00ff00"/><polygon points="596.41,96.60 594.05,92.77 598.77,92.77" fill="#00ff00"/><polygon points="603.16,98.81 600.80,94.98 605.52,94.98" fill="#00ff00"/><polygon points="609.91,99.97 607.55,96.15 612.27,96.15" fill="#00ff00"/><polygon points="616.66,101.31 614.30,97.49 619.03,97.49" fill="#00ff00"/><polygon points="623.42,102.30 621.05,98.47 625.78,98.47" fill="#00ff00"/><polygon points="630.17,103.00 627.81,99.17 632.53,99.17" fill="#00ff00"/><polygon points="636.92,103.76 634.56,99.93 639.28,99.93" fill="#00ff00"/><polygon points="643.67,104.46 641.31,100.63 646.03,100.63" fill="#00ff00"/><polygon points="650.42,106.20 648.06,102.37 652.79,102.37" fill="#00ff00"/><polygon points="657.18,107.60 654.81,103.77 659.54,103.77" fill="#00ff00"/><polygon points="663.93,107.60 661.57,103.77 666.29,103.77" fill="#00ff00"/><polygon points="670.68,108.12 668.32,104.29 673.04,104.29" fill="#00ff00"/><path d="M569.40 38.55L576.15 49.60L582.90 61.24L589.66 76.96L596.41 78.88L603.16 84.17L609.91 85.11L616.66 89.65L623.42 91.04L630.17 94.65L636.92 94.65L643.67 96.16L650.42 98.20L657.18 98.96L663.93 98.96L670.68 99.95" stroke="#0000ff" stroke-width="0.62" fill="none" stroke-linejoin="round"/><polygon points="569.40,36.15 571.80,38.55 569.40,40.95 567.00,38.55" stroke="#0000ff" stroke-width="0.78" fill="none"/><polygon points="576.15,47.20 578.55,49.60 576.15,52.00 573.75,49.60" stroke="#0000ff" stroke-width="0.78" fill="none"/><polygon points="582.90,58.84 585.30,61.24 582.90,63.64 580.50,61.24" stroke="#0000ff" stroke-width="0.78" fill="none"/><polygon points="589.66,74.56 592.06,76.96 589.66,79.36 587.26,76.96" stroke="#0000ff" stroke-width="0.78" fill="none"/><polygon points="596.41,76.48 598.81,78.88 596.41,81.28 594.01,78.88" stroke="#0000ff" stroke-width="0.78" fill="none"/><polygon points="603.16,81.77 605.56,84.17 603.16,86.57 600.76,84.17" stroke="#0000ff" stroke-width="0.78" fill="none"/><polygon points="609.91,82.71 612.31,85.11 609.91,87.51 607.51,85.11" stroke="#0000ff" stroke-width="0.78" fill="none"/><polygon points="616.66,87.25 619.06,89.65 616.66,92.05 614.26,89.65" stroke="#0000ff" stroke-width="0.78" fill="none"/><polygon points="623.42,88.64 625.82,91.04 623.42,93.44 621.02,91.04" stroke="#0000ff" stroke-width="0.78" fill="none"/><polygon points="630.17,92.25 632.57,94.65 630.17,97.05 627.77,94.65" stroke="#0000ff" stroke-width="0.78" fill="none"/><polygon points="636.92,92.25 639.32,94.65 636.92,97.05 634.52,94.65" stroke="#0000ff" stroke-width="0.78" fill="none"/><polygon points="643.67,93.76 646.07,96.16 643.67,98.56 641.27,96.16" stroke="#0000ff" stroke-width="0.78" fill="none"/><polygon points="650.42,95.80 652.82,98.20 650.42,100.60 648.02,98.20" stroke="#0000ff" stroke-width="0.78" fill="none"/><polygon points="657.18,96.56 659.58,98.96 657.18,101.36 654.78,98.96" stroke="#0000ff" stroke-width="0.78" fill="none"/><polygon points="663.93,96.56 666.33,98.96 663.93,101.36 661.53,98.96" stroke="#0000ff" stroke-width="0.78" fill="none"/><polygon points="670.68,97.55 673.08,99.95 670.68,102.35 668.28,99.95" stroke="#0000ff" stroke-width="0.78" fill="none"/><path d="M630.17 36.80L636.92 22.83L643.67 65.14L650.42 82.43L657.18 83.94L663.93 86.04L670.68 90.34" stroke="#ff00ff" stroke-width="0.62" fill="none" stroke-linejoin="round"/><polygon points="630.17,34.40 632.57,36.80 630.17,39.20 627.77,36.80" fill="#ff00ff"/><polygon points="636.92,20.43 639.32,22.83 636.92,25.23 634.52,22.83" fill="#ff00ff"/><polygon points="643.67,62.74 646.07,65.14 643.67,67.54 641.27,65.14" fill="#ff00ff"/><polygon points="650.42,80.03 652.82,82.43 650.42,84.83 648.02,82.43" fill="#ff00ff"/><polygon points="657.18,81.54 659.58,83.94 657.18,86.34 654.78,83.94" fill="#ff00ff"/><polygon points="663.93,83.64 666.33,86.04 663.93,88.44 661.53,86.04" fill="#ff00ff"/><polygon points="670.68,87.94 673.08,90.34 670.68,92.74 668.28,90.34" fill="#ff00ff"/></g><g><path d="M50.55 284.50v-4.6M50.55 168.15v4.6M84.28 284.50v-4.6M84.28 168.15v4.6M118.00 284.50v-4.6M118.00 168.15v4.6M151.73 284.50v-4.6M151.73 168.15v4.6M185.45 284.50v-4.6M185.45 168.15v4.6M219.18 284.50v-4.6M219.18 168.15v4.6M252.90 284.50v-4.6M252.90 168.15v4.6M286.62 284.50v-4.6M286.62 168.15v4.6M320.35 284.50v-4.6M320.35 168.15v4.6M43.70 284.50h4.6M333.85 284.50h-4.6M43.70 255.41h4.6M333.85 255.41h-4.6M43.70 226.32h4.6M333.85 226.32h-4.6M43.70 197.24h4.6M333.85 197.24h-4.6M43.70 168.15h4.6M333.85 168.15h-4.6" stroke="#000" stroke-width="0.85" fill="none"/><rect x="43.70" y="168.15" width="290.15" height="116.35" fill="none" stroke="#000" stroke-width="1.05"/><text transform="translate(51.95 298.20) rotate(0.05)" font-size="9.6" text-anchor="middle">0</text><text transform="translate(85.68 298.20) rotate(0.05)" font-size="9.6" text-anchor="middle">0.05</text><text transform="translate(119.40 298.20) rotate(0.05)" font-size="9.6" text-anchor="middle">0.1</text><text transform="translate(153.13 298.20) rotate(0.05)" font-size="9.6" text-anchor="middle">0.15</text><text transform="translate(186.85 298.20) rotate(0.05)" font-size="9.6" text-anchor="middle">0.2</text><text transform="translate(220.58 298.20) rotate(0.05)" font-size="9.6" text-anchor="middle">0.25</text><text transform="translate(254.30 298.20) rotate(0.05)" font-size="9.6" text-anchor="middle">0.3</text><text transform="translate(288.02 298.20) rotate(0.05)" font-size="9.6" text-anchor="middle">0.35</text><text transform="translate(321.75 298.20) rotate(0.05)" font-size="9.6" text-anchor="middle">0.4</text><text transform="translate(37.90 287.95) rotate(0.05)" font-size="9.6" text-anchor="end">0</text><text transform="translate(37.90 258.86) rotate(0.05)" font-size="9.6" text-anchor="end">5</text><text transform="translate(37.90 229.77) rotate(0.05)" font-size="9.6" text-anchor="end">10</text><text transform="translate(37.90 200.69) rotate(0.05)" font-size="9.6" text-anchor="end">15</text><text transform="translate(37.90 171.60) rotate(0.05)" font-size="9.6" text-anchor="end">20</text><text transform="translate(188.28 312.40) rotate(0.05)" font-size="9.7" text-anchor="middle">Proportion of peers initially subverted</text><text transform="translate(13.30 226.42) rotate(-89.95)" font-size="9.7" text-anchor="middle">Time to foothold ratio (years)</text><text transform="translate(188.88 157.45) rotate(0.05)" font-size="9.7" text-anchor="middle">Churn Factor 6%</text><path d="M57.29 247.97L64.04 256.58L70.78 264.43L77.53 269.96L84.28 273.74L91.02 277.75L97.77 280.20L104.51 282.23L111.25 283.68L118.00 284.06L124.75 284.50L131.49 284.50L138.24 284.50L144.98 284.50L151.72 284.50L158.47 284.50L165.22 284.50L171.96 284.50L178.70 284.50L185.45 284.50L192.19 284.50L198.94 284.50L205.69 284.50L212.43 284.50L219.18 284.50L225.92 284.50L232.67 284.50L239.41 284.50L246.15 284.50L252.90 284.50L259.64 284.50L266.39 284.50L273.13 284.50L279.88 284.50L286.62 284.50L293.37 284.50L300.12 284.50L306.86 284.50L313.61 284.50L320.35 284.50" stroke="#ff0000" stroke-width="0.62" fill="none" stroke-linejoin="round"/><path d="M55.04 247.97H59.54M57.29 245.72V250.22" stroke="#ff0000" stroke-width="0.62" fill="none"/><path d="M61.79 256.58H66.29M64.04 254.33V258.83" stroke="#ff0000" stroke-width="0.62" fill="none"/><path d="M68.53 264.43H73.03M70.78 262.18V266.68" stroke="#ff0000" stroke-width="0.62" fill="none"/><path d="M75.28 269.96H79.78M77.53 267.71V272.21" stroke="#ff0000" stroke-width="0.62" fill="none"/><path d="M82.03 273.74H86.53M84.28 271.49V275.99" stroke="#ff0000" stroke-width="0.62" fill="none"/><path d="M88.77 277.75H93.27M91.02 275.50V280.00" stroke="#ff0000" stroke-width="0.62" fill="none"/><path d="M95.52 280.20H100.02M97.77 277.95V282.45" stroke="#ff0000" stroke-width="0.62" fill="none"/><path d="M102.26 282.23H106.76M104.51 279.98V284.48" stroke="#ff0000" stroke-width="0.62" fill="none"/><path d="M109.00 283.68H113.50M111.25 281.43V285.93" stroke="#ff0000" stroke-width="0.62" fill="none"/><path d="M115.75 284.06H120.25M118.00 281.81V286.31" stroke="#ff0000" stroke-width="0.62" fill="none"/><path d="M122.50 284.50H127.00M124.75 282.25V286.75" stroke="#ff0000" stroke-width="0.62" fill="none"/><path d="M129.24 284.50H133.74M131.49 282.25V286.75" stroke="#ff0000" stroke-width="0.62" fill="none"/><path d="M135.99 284.50H140.49M138.24 282.25V286.75" stroke="#ff0000" stroke-width="0.62" fill="none"/><path d="M142.73 284.50H147.23M144.98 282.25V286.75" stroke="#ff0000" stroke-width="0.62" fill="none"/><path d="M149.47 284.50H153.97M151.72 282.25V286.75" stroke="#ff0000" stroke-width="0.62" fill="none"/><path d="M156.22 284.50H160.72M158.47 282.25V286.75" stroke="#ff0000" stroke-width="0.62" fill="none"/><path d="M162.97 284.50H167.47M165.22 282.25V286.75" stroke="#ff0000" stroke-width="0.62" fill="none"/><path d="M169.71 284.50H174.21M171.96 282.25V286.75" stroke="#ff0000" stroke-width="0.62" fill="none"/><path d="M176.45 284.50H180.95M178.70 282.25V286.75" stroke="#ff0000" stroke-width="0.62" fill="none"/><path d="M183.20 284.50H187.70M185.45 282.25V286.75" stroke="#ff0000" stroke-width="0.62" fill="none"/><path d="M189.94 284.50H194.44M192.19 282.25V286.75" stroke="#ff0000" stroke-width="0.62" fill="none"/><path d="M196.69 284.50H201.19M198.94 282.25V286.75" stroke="#ff0000" stroke-width="0.62" fill="none"/><path d="M203.44 284.50H207.94M205.69 282.25V286.75" stroke="#ff0000" stroke-width="0.62" fill="none"/><path d="M210.18 284.50H214.68M212.43 282.25V286.75" stroke="#ff0000" stroke-width="0.62" fill="none"/><path d="M216.93 284.50H221.43M219.18 282.25V286.75" stroke="#ff0000" stroke-width="0.62" fill="none"/><path d="M223.67 284.50H228.17M225.92 282.25V286.75" stroke="#ff0000" stroke-width="0.62" fill="none"/><path d="M230.42 284.50H234.92M232.67 282.25V286.75" stroke="#ff0000" stroke-width="0.62" fill="none"/><path d="M237.16 284.50H241.66M239.41 282.25V286.75" stroke="#ff0000" stroke-width="0.62" fill="none"/><path d="M243.90 284.50H248.40M246.15 282.25V286.75" stroke="#ff0000" stroke-width="0.62" fill="none"/><path d="M250.65 284.50H255.15M252.90 282.25V286.75" stroke="#ff0000" stroke-width="0.62" fill="none"/><path d="M257.39 284.50H261.89M259.64 282.25V286.75" stroke="#ff0000" stroke-width="0.62" fill="none"/><path d="M264.14 284.50H268.64M266.39 282.25V286.75" stroke="#ff0000" stroke-width="0.62" fill="none"/><path d="M270.88 284.50H275.38M273.13 282.25V286.75" stroke="#ff0000" stroke-width="0.62" fill="none"/><path d="M277.63 284.50H282.13M279.88 282.25V286.75" stroke="#ff0000" stroke-width="0.62" fill="none"/><path d="M284.38 284.50H288.88M286.62 282.25V286.75" stroke="#ff0000" stroke-width="0.62" fill="none"/><path d="M291.12 284.50H295.62M293.37 282.25V286.75" stroke="#ff0000" stroke-width="0.62" fill="none"/><path d="M297.87 284.50H302.37M300.12 282.25V286.75" stroke="#ff0000" stroke-width="0.62" fill="none"/><path d="M304.61 284.50H309.11M306.86 282.25V286.75" stroke="#ff0000" stroke-width="0.62" fill="none"/><path d="M311.36 284.50H315.86M313.61 282.25V286.75" stroke="#ff0000" stroke-width="0.62" fill="none"/><path d="M318.10 284.50H322.60M320.35 282.25V286.75" stroke="#ff0000" stroke-width="0.62" fill="none"/><path d="M57.29 241.45L64.04 250.53L70.78 257.97L77.53 262.98L84.28 267.05L91.02 271.29L97.77 274.20L104.51 276.65L111.25 278.74L118.00 280.20L124.75 282.23L131.49 283.30L138.24 283.68L144.98 284.50L151.72 284.50L158.47 284.50L165.22 284.50L171.96 284.50L178.70 284.50L185.45 284.50L192.19 284.50L198.94 284.50L205.69 284.50L212.43 284.50L219.18 284.50L225.92 284.50L232.67 284.50L239.41 284.50L246.15 284.50L252.90 284.50L259.64 284.50L266.39 284.50L273.13 284.50L279.88 284.50L286.62 284.50L293.37 284.50L300.12 284.50L306.86 284.50L313.61 284.50L320.35 284.50" stroke="#00ff00" stroke-width="0.62" fill="none" stroke-linejoin="round"/><path d="M55.04 239.20L59.54 243.70M55.04 243.70L59.54 239.20" stroke="#00ff00" stroke-width="0.62" fill="none"/><path d="M61.79 248.28L66.29 252.78M61.79 252.78L66.29 248.28" stroke="#00ff00" stroke-width="0.62" fill="none"/><path d="M68.53 255.72L73.03 260.22M68.53 260.22L73.03 255.72" stroke="#00ff00" stroke-width="0.62" fill="none"/><path d="M75.28 260.73L79.78 265.23M75.28 265.23L79.78 260.73" stroke="#00ff00" stroke-width="0.62" fill="none"/><path d="M82.03 264.80L86.53 269.30M82.03 269.30L86.53 264.80" stroke="#00ff00" stroke-width="0.62" fill="none"/><path d="M88.77 269.04L93.27 273.54M88.77 273.54L93.27 269.04" stroke="#00ff00" stroke-width="0.62" fill="none"/><path d="M95.52 271.95L100.02 276.45M95.52 276.45L100.02 271.95" stroke="#00ff00" stroke-width="0.62" fill="none"/><path d="M102.26 274.40L106.76 278.90M102.26 278.90L106.76 274.40" stroke="#00ff00" stroke-width="0.62" fill="none"/><path d="M109.00 276.49L113.50 280.99M109.00 280.99L113.50 276.49" stroke="#00ff00" stroke-width="0.62" fill="none"/><path d="M115.75 277.95L120.25 282.45M115.75 282.45L120.25 277.95" stroke="#00ff00" stroke-width="0.62" fill="none"/><path d="M122.50 279.98L127.00 284.48M122.50 284.48L127.00 279.98" stroke="#00ff00" stroke-width="0.62" fill="none"/><path d="M129.24 281.05L133.74 285.55M129.24 285.55L133.74 281.05" stroke="#00ff00" stroke-width="0.62" fill="none"/><path d="M135.99 281.43L140.49 285.93M135.99 285.93L140.49 281.43" stroke="#00ff00" stroke-width="0.62" fill="none"/><path d="M142.73 282.25L147.23 286.75M142.73 286.75L147.23 282.25" stroke="#00ff00" stroke-width="0.62" fill="none"/><path d="M149.47 282.25L153.97 286.75M149.47 286.75L153.97 282.25" stroke="#00ff00" stroke-width="0.62" fill="none"/><path d="M156.22 282.25L160.72 286.75M156.22 286.75L160.72 282.25" stroke="#00ff00" stroke-width="0.62" fill="none"/><path d="M162.97 282.25L167.47 286.75M162.97 286.75L167.47 282.25" stroke="#00ff00" stroke-width="0.62" fill="none"/><path d="M169.71 282.25L174.21 286.75M169.71 286.75L174.21 282.25" stroke="#00ff00" stroke-width="0.62" fill="none"/><path d="M176.45 282.25L180.95 286.75M176.45 286.75L180.95 282.25" stroke="#00ff00" stroke-width="0.62" fill="none"/><path d="M183.20 282.25L187.70 286.75M183.20 286.75L187.70 282.25" stroke="#00ff00" stroke-width="0.62" fill="none"/><path d="M189.94 282.25L194.44 286.75M189.94 286.75L194.44 282.25" stroke="#00ff00" stroke-width="0.62" fill="none"/><path d="M196.69 282.25L201.19 286.75M196.69 286.75L201.19 282.25" stroke="#00ff00" stroke-width="0.62" fill="none"/><path d="M203.44 282.25L207.94 286.75M203.44 286.75L207.94 282.25" stroke="#00ff00" stroke-width="0.62" fill="none"/><path d="M210.18 282.25L214.68 286.75M210.18 286.75L214.68 282.25" stroke="#00ff00" stroke-width="0.62" fill="none"/><path d="M216.93 282.25L221.43 286.75M216.93 286.75L221.43 282.25" stroke="#00ff00" stroke-width="0.62" fill="none"/><path d="M223.67 282.25L228.17 286.75M223.67 286.75L228.17 282.25" stroke="#00ff00" stroke-width="0.62" fill="none"/><path d="M230.42 282.25L234.92 286.75M230.42 286.75L234.92 282.25" stroke="#00ff00" stroke-width="0.62" fill="none"/><path d="M237.16 282.25L241.66 286.75M237.16 286.75L241.66 282.25" stroke="#00ff00" stroke-width="0.62" fill="none"/><path d="M243.90 282.25L248.40 286.75M243.90 286.75L248.40 282.25" stroke="#00ff00" stroke-width="0.62" fill="none"/><path d="M250.65 282.25L255.15 286.75M250.65 286.75L255.15 282.25" stroke="#00ff00" stroke-width="0.62" fill="none"/><path d="M257.39 282.25L261.89 286.75M257.39 286.75L261.89 282.25" stroke="#00ff00" stroke-width="0.62" fill="none"/><path d="M264.14 282.25L268.64 286.75M264.14 286.75L268.64 282.25" stroke="#00ff00" stroke-width="0.62" fill="none"/><path d="M270.88 282.25L275.38 286.75M270.88 286.75L275.38 282.25" stroke="#00ff00" stroke-width="0.62" fill="none"/><path d="M277.63 282.25L282.13 286.75M277.63 286.75L282.13 282.25" stroke="#00ff00" stroke-width="0.62" fill="none"/><path d="M284.38 282.25L288.88 286.75M284.38 286.75L288.88 282.25" stroke="#00ff00" stroke-width="0.62" fill="none"/><path d="M291.12 282.25L295.62 286.75M291.12 286.75L295.62 282.25" stroke="#00ff00" stroke-width="0.62" fill="none"/><path d="M297.87 282.25L302.37 286.75M297.87 286.75L302.37 282.25" stroke="#00ff00" stroke-width="0.62" fill="none"/><path d="M304.61 282.25L309.11 286.75M304.61 286.75L309.11 282.25" stroke="#00ff00" stroke-width="0.62" fill="none"/><path d="M311.36 282.25L315.86 286.75M311.36 286.75L315.86 282.25" stroke="#00ff00" stroke-width="0.62" fill="none"/><path d="M318.10 282.25L322.60 286.75M318.10 286.75L322.60 282.25" stroke="#00ff00" stroke-width="0.62" fill="none"/><path d="M57.29 235.05L64.04 244.36L70.78 252.27L77.53 257.97L84.28 261.81L91.02 266.58L97.77 269.43L104.51 272.28L111.25 274.49L118.00 276.65L124.75 278.33L131.49 279.90L138.24 281.24L144.98 282.15L151.72 282.92L158.47 283.30L165.22 284.06L171.96 284.50L178.70 284.50L185.45 284.50L192.19 284.50L198.94 284.50L205.69 284.50L212.43 284.50L219.18 284.50L225.92 284.50L232.67 284.50L239.41 284.50L246.15 284.50L252.90 284.50L259.64 284.50L266.39 284.50L273.13 284.50L279.88 284.50L286.62 284.50L293.37 284.50L300.12 284.50L306.86 284.50L313.61 284.50L320.35 284.50" stroke="#0000ff" stroke-width="0.62" fill="none" stroke-linejoin="round"/><path d="M55.04 235.05H59.54M57.29 232.80V237.30" stroke="#0000ff" stroke-width="0.62" fill="none"/><path d="M55.04 232.80L59.54 237.30M55.04 237.30L59.54 232.80" stroke="#0000ff" stroke-width="0.62" fill="none"/><path d="M61.79 244.36H66.29M64.04 242.11V246.61" stroke="#0000ff" stroke-width="0.62" fill="none"/><path d="M61.79 242.11L66.29 246.61M61.79 246.61L66.29 242.11" stroke="#0000ff" stroke-width="0.62" fill="none"/><path d="M68.53 252.27H73.03M70.78 250.02V254.52" stroke="#0000ff" stroke-width="0.62" fill="none"/><path d="M68.53 250.02L73.03 254.52M68.53 254.52L73.03 250.02" stroke="#0000ff" stroke-width="0.62" fill="none"/><path d="M75.28 257.97H79.78M77.53 255.72V260.22" stroke="#0000ff" stroke-width="0.62" fill="none"/><path d="M75.28 255.72L79.78 260.22M75.28 260.22L79.78 255.72" stroke="#0000ff" stroke-width="0.62" fill="none"/><path d="M82.03 261.81H86.53M84.28 259.56V264.06" stroke="#0000ff" stroke-width="0.62" fill="none"/><path d="M82.03 259.56L86.53 264.06M82.03 264.06L86.53 259.56" stroke="#0000ff" stroke-width="0.62" fill="none"/><path d="M88.77 266.58H93.27M91.02 264.33V268.83" stroke="#0000ff" stroke-width="0.62" fill="none"/><path d="M88.77 264.33L93.27 268.83M88.77 268.83L93.27 264.33" stroke="#0000ff" stroke-width="0.62" fill="none"/><path d="M95.52 269.43H100.02M97.77 267.18V271.68" stroke="#0000ff" stroke-width="0.62" fill="none"/><path d="M95.52 267.18L100.02 271.68M95.52 271.68L100.02 267.18" stroke="#0000ff" stroke-width="0.62" fill="none"/><path d="M102.26 272.28H106.76M104.51 270.03V274.53" stroke="#0000ff" stroke-width="0.62" fill="none"/><path d="M102.26 270.03L106.76 274.53M102.26 274.53L106.76 270.03" stroke="#0000ff" stroke-width="0.62" fill="none"/><path d="M109.00 274.49H113.50M111.25 272.24V276.74" stroke="#0000ff" stroke-width="0.62" fill="none"/><path d="M109.00 272.24L113.50 276.74M109.00 276.74L113.50 272.24" stroke="#0000ff" stroke-width="0.62" fill="none"/><path d="M115.75 276.65H120.25M118.00 274.40V278.90" stroke="#0000ff" stroke-width="0.62" fill="none"/><path d="M115.75 274.40L120.25 278.90M115.75 278.90L120.25 274.40" stroke="#0000ff" stroke-width="0.62" fill="none"/><path d="M122.50 278.33H127.00M124.75 276.08V280.58" stroke="#0000ff" stroke-width="0.62" fill="none"/><path d="M122.50 276.08L127.00 280.58M122.50 280.58L127.00 276.08" stroke="#0000ff" stroke-width="0.62" fill="none"/><path d="M129.24 279.90H133.74M131.49 277.65V282.15" stroke="#0000ff" stroke-width="0.62" fill="none"/><path d="M129.24 277.65L133.74 282.15M129.24 282.15L133.74 277.65" stroke="#0000ff" stroke-width="0.62" fill="none"/><path d="M135.99 281.24H140.49M138.24 278.99V283.49" stroke="#0000ff" stroke-width="0.62" fill="none"/><path d="M135.99 278.99L140.49 283.49M135.99 283.49L140.49 278.99" stroke="#0000ff" stroke-width="0.62" fill="none"/><path d="M142.73 282.15H147.23M144.98 279.90V284.40" stroke="#0000ff" stroke-width="0.62" fill="none"/><path d="M142.73 279.90L147.23 284.40M142.73 284.40L147.23 279.90" stroke="#0000ff" stroke-width="0.62" fill="none"/><path d="M149.47 282.92H153.97M151.72 280.67V285.17" stroke="#0000ff" stroke-width="0.62" fill="none"/><path d="M149.47 280.67L153.97 285.17M149.47 285.17L153.97 280.67" stroke="#0000ff" stroke-width="0.62" fill="none"/><path d="M156.22 283.30H160.72M158.47 281.05V285.55" stroke="#0000ff" stroke-width="0.62" fill="none"/><path d="M156.22 281.05L160.72 285.55M156.22 285.55L160.72 281.05" stroke="#0000ff" stroke-width="0.62" fill="none"/><path d="M162.97 284.06H167.47M165.22 281.81V286.31" stroke="#0000ff" stroke-width="0.62" fill="none"/><path d="M162.97 281.81L167.47 286.31M162.97 286.31L167.47 281.81" stroke="#0000ff" stroke-width="0.62" fill="none"/><path d="M169.71 284.50H174.21M171.96 282.25V286.75" stroke="#0000ff" stroke-width="0.62" fill="none"/><path d="M169.71 282.25L174.21 286.75M169.71 286.75L174.21 282.25" stroke="#0000ff" stroke-width="0.62" fill="none"/><path d="M176.45 284.50H180.95M178.70 282.25V286.75" stroke="#0000ff" stroke-width="0.62" fill="none"/><path d="M176.45 282.25L180.95 286.75M176.45 286.75L180.95 282.25" stroke="#0000ff" stroke-width="0.62" fill="none"/><path d="M183.20 284.50H187.70M185.45 282.25V286.75" stroke="#0000ff" stroke-width="0.62" fill="none"/><path d="M183.20 282.25L187.70 286.75M183.20 286.75L187.70 282.25" stroke="#0000ff" stroke-width="0.62" fill="none"/><path d="M189.94 284.50H194.44M192.19 282.25V286.75" stroke="#0000ff" stroke-width="0.62" fill="none"/><path d="M189.94 282.25L194.44 286.75M189.94 286.75L194.44 282.25" stroke="#0000ff" stroke-width="0.62" fill="none"/><path d="M196.69 284.50H201.19M198.94 282.25V286.75" stroke="#0000ff" stroke-width="0.62" fill="none"/><path d="M196.69 282.25L201.19 286.75M196.69 286.75L201.19 282.25" stroke="#0000ff" stroke-width="0.62" fill="none"/><path d="M203.44 284.50H207.94M205.69 282.25V286.75" stroke="#0000ff" stroke-width="0.62" fill="none"/><path d="M203.44 282.25L207.94 286.75M203.44 286.75L207.94 282.25" stroke="#0000ff" stroke-width="0.62" fill="none"/><path d="M210.18 284.50H214.68M212.43 282.25V286.75" stroke="#0000ff" stroke-width="0.62" fill="none"/><path d="M210.18 282.25L214.68 286.75M210.18 286.75L214.68 282.25" stroke="#0000ff" stroke-width="0.62" fill="none"/><path d="M216.93 284.50H221.43M219.18 282.25V286.75" stroke="#0000ff" stroke-width="0.62" fill="none"/><path d="M216.93 282.25L221.43 286.75M216.93 286.75L221.43 282.25" stroke="#0000ff" stroke-width="0.62" fill="none"/><path d="M223.67 284.50H228.17M225.92 282.25V286.75" stroke="#0000ff" stroke-width="0.62" fill="none"/><path d="M223.67 282.25L228.17 286.75M223.67 286.75L228.17 282.25" stroke="#0000ff" stroke-width="0.62" fill="none"/><path d="M230.42 284.50H234.92M232.67 282.25V286.75" stroke="#0000ff" stroke-width="0.62" fill="none"/><path d="M230.42 282.25L234.92 286.75M230.42 286.75L234.92 282.25" stroke="#0000ff" stroke-width="0.62" fill="none"/><path d="M237.16 284.50H241.66M239.41 282.25V286.75" stroke="#0000ff" stroke-width="0.62" fill="none"/><path d="M237.16 282.25L241.66 286.75M237.16 286.75L241.66 282.25" stroke="#0000ff" stroke-width="0.62" fill="none"/><path d="M243.90 284.50H248.40M246.15 282.25V286.75" stroke="#0000ff" stroke-width="0.62" fill="none"/><path d="M243.90 282.25L248.40 286.75M243.90 286.75L248.40 282.25" stroke="#0000ff" stroke-width="0.62" fill="none"/><path d="M250.65 284.50H255.15M252.90 282.25V286.75" stroke="#0000ff" stroke-width="0.62" fill="none"/><path d="M250.65 282.25L255.15 286.75M250.65 286.75L255.15 282.25" stroke="#0000ff" stroke-width="0.62" fill="none"/><path d="M257.39 284.50H261.89M259.64 282.25V286.75" stroke="#0000ff" stroke-width="0.62" fill="none"/><path d="M257.39 282.25L261.89 286.75M257.39 286.75L261.89 282.25" stroke="#0000ff" stroke-width="0.62" fill="none"/><path d="M264.14 284.50H268.64M266.39 282.25V286.75" stroke="#0000ff" stroke-width="0.62" fill="none"/><path d="M264.14 282.25L268.64 286.75M264.14 286.75L268.64 282.25" stroke="#0000ff" stroke-width="0.62" fill="none"/><path d="M270.88 284.50H275.38M273.13 282.25V286.75" stroke="#0000ff" stroke-width="0.62" fill="none"/><path d="M270.88 282.25L275.38 286.75M270.88 286.75L275.38 282.25" stroke="#0000ff" stroke-width="0.62" fill="none"/><path d="M277.63 284.50H282.13M279.88 282.25V286.75" stroke="#0000ff" stroke-width="0.62" fill="none"/><path d="M277.63 282.25L282.13 286.75M277.63 286.75L282.13 282.25" stroke="#0000ff" stroke-width="0.62" fill="none"/><path d="M284.38 284.50H288.88M286.62 282.25V286.75" stroke="#0000ff" stroke-width="0.62" fill="none"/><path d="M284.38 282.25L288.88 286.75M284.38 286.75L288.88 282.25" stroke="#0000ff" stroke-width="0.62" fill="none"/><path d="M291.12 284.50H295.62M293.37 282.25V286.75" stroke="#0000ff" stroke-width="0.62" fill="none"/><path d="M291.12 282.25L295.62 286.75M291.12 286.75L295.62 282.25" stroke="#0000ff" stroke-width="0.62" fill="none"/><path d="M297.87 284.50H302.37M300.12 282.25V286.75" stroke="#0000ff" stroke-width="0.62" fill="none"/><path d="M297.87 282.25L302.37 286.75M297.87 286.75L302.37 282.25" stroke="#0000ff" stroke-width="0.62" fill="none"/><path d="M304.61 284.50H309.11M306.86 282.25V286.75" stroke="#0000ff" stroke-width="0.62" fill="none"/><path d="M304.61 282.25L309.11 286.75M304.61 286.75L309.11 282.25" stroke="#0000ff" stroke-width="0.62" fill="none"/><path d="M311.36 284.50H315.86M313.61 282.25V286.75" stroke="#0000ff" stroke-width="0.62" fill="none"/><path d="M311.36 282.25L315.86 286.75M311.36 286.75L315.86 282.25" stroke="#0000ff" stroke-width="0.62" fill="none"/><path d="M318.10 284.50H322.60M320.35 282.25V286.75" stroke="#0000ff" stroke-width="0.62" fill="none"/><path d="M318.10 282.25L322.60 286.75M318.10 286.75L322.60 282.25" stroke="#0000ff" stroke-width="0.62" fill="none"/><path d="M57.29 229.64L64.04 238.37L70.78 246.51L77.53 252.97L84.28 256.98L91.02 261.99L97.77 265.13L104.51 268.44L111.25 270.89L118.00 273.74L124.75 274.78L131.49 277.05L138.24 278.33L144.98 279.56L151.72 280.43L158.47 281.39L165.22 282.15L171.96 282.92L178.70 283.30L185.45 283.68L192.19 284.21L198.94 284.21L205.69 284.21L212.43 284.21L219.18 284.21L225.92 284.21L232.67 284.21L239.41 284.21L246.15 284.21L252.90 284.21L259.64 284.21L266.39 284.21L273.13 284.21L279.88 284.21L286.62 284.21L293.37 284.21L300.12 284.21L306.86 284.21L313.61 284.21L320.35 284.21" stroke="#ff00ff" stroke-width="0.62" fill="none" stroke-linejoin="round"/><rect x="55.24" y="227.59" width="4.10" height="4.10" stroke="#ff00ff" stroke-width="0.78" fill="none"/><rect x="61.99" y="236.32" width="4.10" height="4.10" stroke="#ff00ff" stroke-width="0.78" fill="none"/><rect x="68.73" y="244.46" width="4.10" height="4.10" stroke="#ff00ff" stroke-width="0.78" fill="none"/><rect x="75.48" y="250.92" width="4.10" height="4.10" stroke="#ff00ff" stroke-width="0.78" fill="none"/><rect x="82.23" y="254.93" width="4.10" height="4.10" stroke="#ff00ff" stroke-width="0.78" fill="none"/><rect x="88.97" y="259.94" width="4.10" height="4.10" stroke="#ff00ff" stroke-width="0.78" fill="none"/><rect x="95.72" y="263.08" width="4.10" height="4.10" stroke="#ff00ff" stroke-width="0.78" fill="none"/><rect x="102.46" y="266.39" width="4.10" height="4.10" stroke="#ff00ff" stroke-width="0.78" fill="none"/><rect x="109.20" y="268.84" width="4.10" height="4.10" stroke="#ff00ff" stroke-width="0.78" fill="none"/><rect x="115.95" y="271.69" width="4.10" height="4.10" stroke="#ff00ff" stroke-width="0.78" fill="none"/><rect x="122.70" y="272.73" width="4.10" height="4.10" stroke="#ff00ff" stroke-width="0.78" fill="none"/><rect x="129.44" y="275.00" width="4.10" height="4.10" stroke="#ff00ff" stroke-width="0.78" fill="none"/><rect x="136.19" y="276.28" width="4.10" height="4.10" stroke="#ff00ff" stroke-width="0.78" fill="none"/><rect x="142.93" y="277.51" width="4.10" height="4.10" stroke="#ff00ff" stroke-width="0.78" fill="none"/><rect x="149.67" y="278.38" width="4.10" height="4.10" stroke="#ff00ff" stroke-width="0.78" fill="none"/><rect x="156.42" y="279.34" width="4.10" height="4.10" stroke="#ff00ff" stroke-width="0.78" fill="none"/><rect x="163.16" y="280.10" width="4.10" height="4.10" stroke="#ff00ff" stroke-width="0.78" fill="none"/><rect x="169.91" y="280.87" width="4.10" height="4.10" stroke="#ff00ff" stroke-width="0.78" fill="none"/><rect x="176.65" y="281.25" width="4.10" height="4.10" stroke="#ff00ff" stroke-width="0.78" fill="none"/><rect x="183.40" y="281.63" width="4.10" height="4.10" stroke="#ff00ff" stroke-width="0.78" fill="none"/><rect x="190.14" y="282.16" width="4.10" height="4.10" stroke="#ff00ff" stroke-width="0.78" fill="none"/><rect x="196.89" y="282.16" width="4.10" height="4.10" stroke="#ff00ff" stroke-width="0.78" fill="none"/><rect x="203.63" y="282.16" width="4.10" height="4.10" stroke="#ff00ff" stroke-width="0.78" fill="none"/><rect x="210.38" y="282.16" width="4.10" height="4.10" stroke="#ff00ff" stroke-width="0.78" fill="none"/><rect x="217.12" y="282.16" width="4.10" height="4.10" stroke="#ff00ff" stroke-width="0.78" fill="none"/><rect x="223.87" y="282.16" width="4.10" height="4.10" stroke="#ff00ff" stroke-width="0.78" fill="none"/><rect x="230.62" y="282.16" width="4.10" height="4.10" stroke="#ff00ff" stroke-width="0.78" fill="none"/><rect x="237.36" y="282.16" width="4.10" height="4.10" stroke="#ff00ff" stroke-width="0.78" fill="none"/><rect x="244.10" y="282.16" width="4.10" height="4.10" stroke="#ff00ff" stroke-width="0.78" fill="none"/><rect x="250.85" y="282.16" width="4.10" height="4.10" stroke="#ff00ff" stroke-width="0.78" fill="none"/><rect x="257.59" y="282.16" width="4.10" height="4.10" stroke="#ff00ff" stroke-width="0.78" fill="none"/><rect x="264.34" y="282.16" width="4.10" height="4.10" stroke="#ff00ff" stroke-width="0.78" fill="none"/><rect x="271.08" y="282.16" width="4.10" height="4.10" stroke="#ff00ff" stroke-width="0.78" fill="none"/><rect x="277.83" y="282.16" width="4.10" height="4.10" stroke="#ff00ff" stroke-width="0.78" fill="none"/><rect x="284.57" y="282.16" width="4.10" height="4.10" stroke="#ff00ff" stroke-width="0.78" fill="none"/><rect x="291.32" y="282.16" width="4.10" height="4.10" stroke="#ff00ff" stroke-width="0.78" fill="none"/><rect x="298.06" y="282.16" width="4.10" height="4.10" stroke="#ff00ff" stroke-width="0.78" fill="none"/><rect x="304.81" y="282.16" width="4.10" height="4.10" stroke="#ff00ff" stroke-width="0.78" fill="none"/><rect x="311.56" y="282.16" width="4.10" height="4.10" stroke="#ff00ff" stroke-width="0.78" fill="none"/><rect x="318.30" y="282.16" width="4.10" height="4.10" stroke="#ff00ff" stroke-width="0.78" fill="none"/><path d="M57.29 223.01L64.04 232.14L70.78 240.87L77.53 246.98L84.28 250.76L91.02 256.58L97.77 259.72L104.51 262.74L111.25 266.17L118.00 268.79L124.75 270.89L131.49 273.04L138.24 274.78L144.98 275.89L151.72 277.34L158.47 278.10L165.22 279.50L171.96 280.20L178.70 281.47L185.45 282.23L192.19 282.92L198.94 283.30L205.69 283.68L212.43 284.06L219.18 284.06L225.92 284.06L232.67 284.06L239.41 284.06L246.15 284.06L252.90 284.06L259.64 284.06L266.39 284.06L273.13 284.06L279.88 284.06L286.62 284.06L293.37 284.06L300.12 284.06L306.86 284.06L313.61 284.06L320.35 284.06" stroke="#00ffff" stroke-width="0.62" fill="none" stroke-linejoin="round"/><rect x="55.14" y="220.86" width="4.30" height="4.30" fill="#00ffff"/><rect x="61.89" y="229.99" width="4.30" height="4.30" fill="#00ffff"/><rect x="68.63" y="238.72" width="4.30" height="4.30" fill="#00ffff"/><rect x="75.38" y="244.83" width="4.30" height="4.30" fill="#00ffff"/><rect x="82.12" y="248.61" width="4.30" height="4.30" fill="#00ffff"/><rect x="88.87" y="254.43" width="4.30" height="4.30" fill="#00ffff"/><rect x="95.61" y="257.57" width="4.30" height="4.30" fill="#00ffff"/><rect x="102.36" y="260.59" width="4.30" height="4.30" fill="#00ffff"/><rect x="109.10" y="264.02" width="4.30" height="4.30" fill="#00ffff"/><rect x="115.85" y="266.64" width="4.30" height="4.30" fill="#00ffff"/><rect x="122.59" y="268.74" width="4.30" height="4.30" fill="#00ffff"/><rect x="129.34" y="270.89" width="4.30" height="4.30" fill="#00ffff"/><rect x="136.09" y="272.63" width="4.30" height="4.30" fill="#00ffff"/><rect x="142.83" y="273.74" width="4.30" height="4.30" fill="#00ffff"/><rect x="149.57" y="275.19" width="4.30" height="4.30" fill="#00ffff"/><rect x="156.32" y="275.95" width="4.30" height="4.30" fill="#00ffff"/><rect x="163.06" y="277.35" width="4.30" height="4.30" fill="#00ffff"/><rect x="169.81" y="278.05" width="4.30" height="4.30" fill="#00ffff"/><rect x="176.55" y="279.32" width="4.30" height="4.30" fill="#00ffff"/><rect x="183.30" y="280.08" width="4.30" height="4.30" fill="#00ffff"/><rect x="190.04" y="280.77" width="4.30" height="4.30" fill="#00ffff"/><rect x="196.79" y="281.15" width="4.30" height="4.30" fill="#00ffff"/><rect x="203.53" y="281.53" width="4.30" height="4.30" fill="#00ffff"/><rect x="210.28" y="281.91" width="4.30" height="4.30" fill="#00ffff"/><rect x="217.03" y="281.91" width="4.30" height="4.30" fill="#00ffff"/><rect x="223.77" y="281.91" width="4.30" height="4.30" fill="#00ffff"/><rect x="230.52" y="281.91" width="4.30" height="4.30" fill="#00ffff"/><rect x="237.26" y="281.91" width="4.30" height="4.30" fill="#00ffff"/><rect x="244.00" y="281.91" width="4.30" height="4.30" fill="#00ffff"/><rect x="250.75" y="281.91" width="4.30" height="4.30" fill="#00ffff"/><rect x="257.50" y="281.91" width="4.30" height="4.30" fill="#00ffff"/><rect x="264.24" y="281.91" width="4.30" height="4.30" fill="#00ffff"/><rect x="270.99" y="281.91" width="4.30" height="4.30" fill="#00ffff"/><rect x="277.73" y="281.91" width="4.30" height="4.30" fill="#00ffff"/><rect x="284.48" y="281.91" width="4.30" height="4.30" fill="#00ffff"/><rect x="291.22" y="281.91" width="4.30" height="4.30" fill="#00ffff"/><rect x="297.97" y="281.91" width="4.30" height="4.30" fill="#00ffff"/><rect x="304.71" y="281.91" width="4.30" height="4.30" fill="#00ffff"/><rect x="311.46" y="281.91" width="4.30" height="4.30" fill="#00ffff"/><rect x="318.20" y="281.91" width="4.30" height="4.30" fill="#00ffff"/><path d="M57.29 216.44L64.04 226.15L70.78 235.05L77.53 241.80L84.28 245.41L91.02 251.34L97.77 254.83L104.51 257.74L111.25 261.99L118.00 265.13L124.75 266.17L131.49 269.14L138.24 270.89L144.98 272.63L151.72 274.49L158.47 274.90L165.22 276.18L171.96 277.34L178.70 278.33L185.45 279.26L192.19 279.90L198.94 281.87L205.69 282.57L212.43 283.00L219.18 283.00L225.92 283.60L232.67 283.86L239.41 284.03L246.15 284.03L252.90 284.03L259.64 284.03L266.39 284.03L273.13 284.03L279.88 284.03L286.62 284.03L293.37 284.03L300.12 284.03L306.86 284.03L313.61 284.03L320.35 284.03" stroke="#000000" stroke-width="0.62" fill="none" stroke-linejoin="round"/><circle cx="57.29" cy="216.44" r="2.55" fill="#000000"/><circle cx="64.04" cy="226.15" r="2.55" fill="#000000"/><circle cx="70.78" cy="235.05" r="2.55" fill="#000000"/><circle cx="77.53" cy="241.80" r="2.55" fill="#000000"/><circle cx="84.28" cy="245.41" r="2.55" fill="#000000"/><circle cx="91.02" cy="251.34" r="2.55" fill="#000000"/><circle cx="97.77" cy="254.83" r="2.55" fill="#000000"/><circle cx="104.51" cy="257.74" r="2.55" fill="#000000"/><circle cx="111.25" cy="261.99" r="2.55" fill="#000000"/><circle cx="118.00" cy="265.13" r="2.55" fill="#000000"/><circle cx="124.75" cy="266.17" r="2.55" fill="#000000"/><circle cx="131.49" cy="269.14" r="2.55" fill="#000000"/><circle cx="138.24" cy="270.89" r="2.55" fill="#000000"/><circle cx="144.98" cy="272.63" r="2.55" fill="#000000"/><circle cx="151.72" cy="274.49" r="2.55" fill="#000000"/><circle cx="158.47" cy="274.90" r="2.55" fill="#000000"/><circle cx="165.22" cy="276.18" r="2.55" fill="#000000"/><circle cx="171.96" cy="277.34" r="2.55" fill="#000000"/><circle cx="178.70" cy="278.33" r="2.55" fill="#000000"/><circle cx="185.45" cy="279.26" r="2.55" fill="#000000"/><circle cx="192.19" cy="279.90" r="2.55" fill="#000000"/><circle cx="198.94" cy="281.87" r="2.55" fill="#000000"/><circle cx="205.69" cy="282.57" r="2.55" fill="#000000"/><circle cx="212.43" cy="283.00" r="2.55" fill="#000000"/><circle cx="219.18" cy="283.00" r="2.55" fill="#000000"/><circle cx="225.92" cy="283.60" r="2.55" fill="#000000"/><circle cx="232.67" cy="283.86" r="2.55" fill="#000000"/><circle cx="239.41" cy="284.03" r="2.55" fill="#000000"/><circle cx="246.15" cy="284.03" r="2.55" fill="#000000"/><circle cx="252.90" cy="284.03" r="2.55" fill="#000000"/><circle cx="259.64" cy="284.03" r="2.55" fill="#000000"/><circle cx="266.39" cy="284.03" r="2.55" fill="#000000"/><circle cx="273.13" cy="284.03" r="2.55" fill="#000000"/><circle cx="279.88" cy="284.03" r="2.55" fill="#000000"/><circle cx="286.62" cy="284.03" r="2.55" fill="#000000"/><circle cx="293.37" cy="284.03" r="2.55" fill="#000000"/><circle cx="300.12" cy="284.03" r="2.55" fill="#000000"/><circle cx="306.86" cy="284.03" r="2.55" fill="#000000"/><circle cx="313.61" cy="284.03" r="2.55" fill="#000000"/><circle cx="320.35" cy="284.03" r="2.55" fill="#000000"/><path d="M57.29 210.04L64.04 219.17L70.78 228.48L77.53 235.05L84.28 239.36L91.02 245.52L97.77 249.13L104.51 252.68L111.25 256.98L118.00 259.48L124.75 261.58L131.49 263.73L138.24 265.77L144.98 268.04L151.72 270.19L158.47 270.89L165.22 272.87L171.96 274.20L178.70 275.19L185.45 276.65L192.19 277.34L198.94 278.74L205.69 279.26L212.43 279.90L219.18 280.20L225.92 281.01L232.67 281.41L239.41 281.81L246.15 282.21L252.90 282.61L259.64 283.00L266.39 283.40L273.13 283.56L279.88 283.56L286.62 283.56L293.37 283.56L300.12 283.56L306.86 283.56L313.61 283.56L320.35 283.56" stroke="#ff4d00" stroke-width="0.62" fill="none" stroke-linejoin="round"/><polygon points="57.29,207.39 54.93,211.22 59.66,211.22" stroke="#ff4d00" stroke-width="0.78" fill="none"/><polygon points="64.04,216.52 61.68,220.35 66.40,220.35" stroke="#ff4d00" stroke-width="0.78" fill="none"/><polygon points="70.78,225.83 68.42,229.66 73.15,229.66" stroke="#ff4d00" stroke-width="0.78" fill="none"/><polygon points="77.53,232.41 75.17,236.23 79.89,236.23" stroke="#ff4d00" stroke-width="0.78" fill="none"/><polygon points="84.28,236.71 81.91,240.54 86.64,240.54" stroke="#ff4d00" stroke-width="0.78" fill="none"/><polygon points="91.02,242.88 88.66,246.70 93.38,246.70" stroke="#ff4d00" stroke-width="0.78" fill="none"/><polygon points="97.77,246.48 95.40,250.31 100.13,250.31" stroke="#ff4d00" stroke-width="0.78" fill="none"/><polygon points="104.51,250.03 102.15,253.86 106.87,253.86" stroke="#ff4d00" stroke-width="0.78" fill="none"/><polygon points="111.25,254.34 108.89,258.16 113.62,258.16" stroke="#ff4d00" stroke-width="0.78" fill="none"/><polygon points="118.00,256.84 115.64,260.67 120.36,260.67" stroke="#ff4d00" stroke-width="0.78" fill="none"/><polygon points="124.75,258.93 122.38,262.76 127.11,262.76" stroke="#ff4d00" stroke-width="0.78" fill="none"/><polygon points="131.49,261.09 129.13,264.91 133.85,264.91" stroke="#ff4d00" stroke-width="0.78" fill="none"/><polygon points="138.24,263.12 135.87,266.95 140.60,266.95" stroke="#ff4d00" stroke-width="0.78" fill="none"/><polygon points="144.98,265.39 142.62,269.22 147.34,269.22" stroke="#ff4d00" stroke-width="0.78" fill="none"/><polygon points="151.72,267.54 149.36,271.37 154.09,271.37" stroke="#ff4d00" stroke-width="0.78" fill="none"/><polygon points="158.47,268.24 156.11,272.07 160.83,272.07" stroke="#ff4d00" stroke-width="0.78" fill="none"/><polygon points="165.22,270.22 162.85,274.05 167.58,274.05" stroke="#ff4d00" stroke-width="0.78" fill="none"/><polygon points="171.96,271.56 169.60,275.38 174.32,275.38" stroke="#ff4d00" stroke-width="0.78" fill="none"/><polygon points="178.70,272.55 176.34,276.37 181.07,276.37" stroke="#ff4d00" stroke-width="0.78" fill="none"/><polygon points="185.45,274.00 183.09,277.83 187.81,277.83" stroke="#ff4d00" stroke-width="0.78" fill="none"/><polygon points="192.19,274.70 189.83,278.53 194.56,278.53" stroke="#ff4d00" stroke-width="0.78" fill="none"/><polygon points="198.94,276.09 196.58,279.92 201.30,279.92" stroke="#ff4d00" stroke-width="0.78" fill="none"/><polygon points="205.69,276.62 203.32,280.45 208.05,280.45" stroke="#ff4d00" stroke-width="0.78" fill="none"/><polygon points="212.43,277.26 210.07,281.09 214.79,281.09" stroke="#ff4d00" stroke-width="0.78" fill="none"/><polygon points="219.18,277.55 216.81,281.38 221.54,281.38" stroke="#ff4d00" stroke-width="0.78" fill="none"/><polygon points="225.92,278.36 223.56,282.19 228.28,282.19" stroke="#ff4d00" stroke-width="0.78" fill="none"/><polygon points="232.67,278.76 230.30,282.59 235.03,282.59" stroke="#ff4d00" stroke-width="0.78" fill="none"/><polygon points="239.41,279.16 237.05,282.99 241.77,282.99" stroke="#ff4d00" stroke-width="0.78" fill="none"/><polygon points="246.15,279.56 243.79,283.39 248.52,283.39" stroke="#ff4d00" stroke-width="0.78" fill="none"/><polygon points="252.90,279.96 250.54,283.79 255.26,283.79" stroke="#ff4d00" stroke-width="0.78" fill="none"/><polygon points="259.64,280.36 257.28,284.19 262.01,284.19" stroke="#ff4d00" stroke-width="0.78" fill="none"/><polygon points="266.39,280.76 264.03,284.58 268.75,284.58" stroke="#ff4d00" stroke-width="0.78" fill="none"/><polygon points="273.13,280.92 270.77,284.74 275.50,284.74" stroke="#ff4d00" stroke-width="0.78" fill="none"/><polygon points="279.88,280.92 277.52,284.74 282.24,284.74" stroke="#ff4d00" stroke-width="0.78" fill="none"/><polygon points="286.62,280.92 284.26,284.74 288.99,284.74" stroke="#ff4d00" stroke-width="0.78" fill="none"/><polygon points="293.37,280.92 291.01,284.74 295.73,284.74" stroke="#ff4d00" stroke-width="0.78" fill="none"/><polygon points="300.12,280.92 297.75,284.74 302.48,284.74" stroke="#ff4d00" stroke-width="0.78" fill="none"/><polygon points="306.86,280.92 304.50,284.74 309.22,284.74" stroke="#ff4d00" stroke-width="0.78" fill="none"/><polygon points="313.61,280.92 311.24,284.74 315.97,284.74" stroke="#ff4d00" stroke-width="0.78" fill="none"/><polygon points="320.35,280.92 317.99,284.74 322.71,284.74" stroke="#ff4d00" stroke-width="0.78" fill="none"/><path d="M57.29 202.01L64.04 212.36L70.78 221.55L77.53 228.65L84.28 233.66L91.02 239.36L97.77 242.96L104.51 246.51L111.25 251.34L118.00 254.42L124.75 256.58L131.49 259.02L138.24 261.58L144.98 263.44L151.72 266.17L158.47 266.58L165.22 268.79L171.96 270.19L178.70 271.70L185.45 272.87L192.19 273.74L198.94 275.19L205.69 275.89L212.43 276.94L219.18 277.34L225.92 277.75L232.67 278.39L239.41 278.97L246.15 279.56L252.90 280.14L259.64 280.43L266.39 281.01L273.13 281.76L279.88 282.13L286.62 282.51L293.37 282.88L300.12 283.25L306.86 283.25L313.61 283.25L320.35 283.25" stroke="#808080" stroke-width="0.62" fill="none" stroke-linejoin="round"/><polygon points="57.29,199.36 54.93,203.19 59.66,203.19" fill="#808080"/><polygon points="64.04,209.72 61.68,213.54 66.40,213.54" fill="#808080"/><polygon points="70.78,218.91 68.42,222.74 73.15,222.74" fill="#808080"/><polygon points="77.53,226.01 75.17,229.83 79.89,229.83" fill="#808080"/><polygon points="84.28,231.01 81.91,234.84 86.64,234.84" fill="#808080"/><polygon points="91.02,236.71 88.66,240.54 93.38,240.54" fill="#808080"/><polygon points="97.77,240.32 95.40,244.14 100.13,244.14" fill="#808080"/><polygon points="104.51,243.87 102.15,247.69 106.87,247.69" fill="#808080"/><polygon points="111.25,248.69 108.89,252.52 113.62,252.52" fill="#808080"/><polygon points="118.00,251.78 115.64,255.60 120.36,255.60" fill="#808080"/><polygon points="124.75,253.93 122.38,257.76 127.11,257.76" fill="#808080"/><polygon points="131.49,256.37 129.13,260.20 133.85,260.20" fill="#808080"/><polygon points="138.24,258.93 135.87,262.76 140.60,262.76" fill="#808080"/><polygon points="144.98,260.79 142.62,264.62 147.34,264.62" fill="#808080"/><polygon points="151.72,263.53 149.36,267.36 154.09,267.36" fill="#808080"/><polygon points="158.47,263.94 156.11,267.76 160.83,267.76" fill="#808080"/><polygon points="165.22,266.15 162.85,269.97 167.58,269.97" fill="#808080"/><polygon points="171.96,267.54 169.60,271.37 174.32,271.37" fill="#808080"/><polygon points="178.70,269.06 176.34,272.88 181.07,272.88" fill="#808080"/><polygon points="185.45,270.22 183.09,274.05 187.81,274.05" fill="#808080"/><polygon points="192.19,271.09 189.83,274.92 194.56,274.92" fill="#808080"/><polygon points="198.94,272.55 196.58,276.37 201.30,276.37" fill="#808080"/><polygon points="205.69,273.24 203.32,277.07 208.05,277.07" fill="#808080"/><polygon points="212.43,274.29 210.07,278.12 214.79,278.12" fill="#808080"/><polygon points="219.18,274.70 216.81,278.53 221.54,278.53" fill="#808080"/><polygon points="225.92,275.11 223.56,278.93 228.28,278.93" fill="#808080"/><polygon points="232.67,275.75 230.30,279.57 235.03,279.57" fill="#808080"/><polygon points="239.41,276.33 237.05,280.15 241.77,280.15" fill="#808080"/><polygon points="246.15,276.91 243.79,280.74 248.52,280.74" fill="#808080"/><polygon points="252.90,277.49 250.54,281.32 255.26,281.32" fill="#808080"/><polygon points="259.64,277.78 257.28,281.61 262.01,281.61" fill="#808080"/><polygon points="266.39,278.36 264.03,282.19 268.75,282.19" fill="#808080"/><polygon points="273.13,279.11 270.77,282.94 275.50,282.94" fill="#808080"/><polygon points="279.88,279.49 277.52,283.31 282.24,283.31" fill="#808080"/><polygon points="286.62,279.86 284.26,283.69 288.99,283.69" fill="#808080"/><polygon points="293.37,280.23 291.01,284.06 295.73,284.06" fill="#808080"/><polygon points="300.12,280.61 297.75,284.43 302.48,284.43" fill="#808080"/><polygon points="306.86,280.61 304.50,284.43 309.22,284.43" fill="#808080"/><polygon points="313.61,280.61 311.24,284.43 315.97,284.43" fill="#808080"/><polygon points="320.35,280.61 317.99,284.43 322.71,284.43" fill="#808080"/><path d="M57.29 190.84L64.04 201.02L70.78 212.36L77.53 219.63L84.28 224.00L91.02 230.75L97.77 235.52L104.51 240.87L111.25 245.52L118.00 249.42L124.75 250.76L131.49 253.78L138.24 256.17L144.98 258.73L151.72 262.74L158.47 262.74L165.22 265.13L171.96 266.58L178.70 268.79L185.45 269.72L192.19 270.19L198.94 272.87L205.69 273.33L212.43 274.20L219.18 274.49L225.92 274.78L232.67 275.60L239.41 276.65L246.15 277.34L252.90 278.10L259.64 278.51L266.39 279.26L273.13 280.20L279.88 281.01L286.62 281.59L293.37 282.35L300.12 282.75L306.86 282.75L313.61 282.75L320.35 282.75" stroke="#ff0000" stroke-width="0.62" fill="none" stroke-linejoin="round"/><polygon points="57.29,193.48 54.93,189.66 59.66,189.66" stroke="#ff0000" stroke-width="0.78" fill="none"/><polygon points="64.04,203.66 61.68,199.84 66.40,199.84" stroke="#ff0000" stroke-width="0.78" fill="none"/><polygon points="70.78,215.01 68.42,211.18 73.15,211.18" stroke="#ff0000" stroke-width="0.78" fill="none"/><polygon points="77.53,222.28 75.17,218.45 79.89,218.45" stroke="#ff0000" stroke-width="0.78" fill="none"/><polygon points="84.28,226.64 81.91,222.82 86.64,222.82" stroke="#ff0000" stroke-width="0.78" fill="none"/><polygon points="91.02,233.39 88.66,229.57 93.38,229.57" stroke="#ff0000" stroke-width="0.78" fill="none"/><polygon points="97.77,238.16 95.40,234.34 100.13,234.34" stroke="#ff0000" stroke-width="0.78" fill="none"/><polygon points="104.51,243.51 102.15,239.69 106.87,239.69" stroke="#ff0000" stroke-width="0.78" fill="none"/><polygon points="111.25,248.17 108.89,244.34 113.62,244.34" stroke="#ff0000" stroke-width="0.78" fill="none"/><polygon points="118.00,252.07 115.64,248.24 120.36,248.24" stroke="#ff0000" stroke-width="0.78" fill="none"/><polygon points="124.75,253.40 122.38,249.58 127.11,249.58" stroke="#ff0000" stroke-width="0.78" fill="none"/><polygon points="131.49,256.43 129.13,252.60 133.85,252.60" stroke="#ff0000" stroke-width="0.78" fill="none"/><polygon points="138.24,258.81 135.87,254.99 140.60,254.99" stroke="#ff0000" stroke-width="0.78" fill="none"/><polygon points="144.98,261.37 142.62,257.55 147.34,257.55" stroke="#ff0000" stroke-width="0.78" fill="none"/><polygon points="151.72,265.39 149.36,261.56 154.09,261.56" stroke="#ff0000" stroke-width="0.78" fill="none"/><polygon points="158.47,265.39 156.11,261.56 160.83,261.56" stroke="#ff0000" stroke-width="0.78" fill="none"/><polygon points="165.22,267.77 162.85,263.95 167.58,263.95" stroke="#ff0000" stroke-width="0.78" fill="none"/><polygon points="171.96,269.23 169.60,265.40 174.32,265.40" stroke="#ff0000" stroke-width="0.78" fill="none"/><polygon points="178.70,271.44 176.34,267.61 181.07,267.61" stroke="#ff0000" stroke-width="0.78" fill="none"/><polygon points="185.45,272.37 183.09,268.54 187.81,268.54" stroke="#ff0000" stroke-width="0.78" fill="none"/><polygon points="192.19,272.83 189.83,269.01 194.56,269.01" stroke="#ff0000" stroke-width="0.78" fill="none"/><polygon points="198.94,275.51 196.58,271.68 201.30,271.68" stroke="#ff0000" stroke-width="0.78" fill="none"/><polygon points="205.69,275.98 203.32,272.15 208.05,272.15" stroke="#ff0000" stroke-width="0.78" fill="none"/><polygon points="212.43,276.85 210.07,273.02 214.79,273.02" stroke="#ff0000" stroke-width="0.78" fill="none"/><polygon points="219.18,277.14 216.81,273.31 221.54,273.31" stroke="#ff0000" stroke-width="0.78" fill="none"/><polygon points="225.92,277.43 223.56,273.60 228.28,273.60" stroke="#ff0000" stroke-width="0.78" fill="none"/><polygon points="232.67,278.25 230.30,274.42 235.03,274.42" stroke="#ff0000" stroke-width="0.78" fill="none"/><polygon points="239.41,279.29 237.05,275.47 241.77,275.47" stroke="#ff0000" stroke-width="0.78" fill="none"/><polygon points="246.15,279.99 243.79,276.16 248.52,276.16" stroke="#ff0000" stroke-width="0.78" fill="none"/><polygon points="252.90,280.75 250.54,276.92 255.26,276.92" stroke="#ff0000" stroke-width="0.78" fill="none"/><polygon points="259.64,281.15 257.28,277.33 262.01,277.33" stroke="#ff0000" stroke-width="0.78" fill="none"/><polygon points="266.39,281.91 264.03,278.08 268.75,278.08" stroke="#ff0000" stroke-width="0.78" fill="none"/><polygon points="273.13,282.84 270.77,279.01 275.50,279.01" stroke="#ff0000" stroke-width="0.78" fill="none"/><polygon points="279.88,283.66 277.52,279.83 282.24,279.83" stroke="#ff0000" stroke-width="0.78" fill="none"/><polygon points="286.62,284.24 284.26,280.41 288.99,280.41" stroke="#ff0000" stroke-width="0.78" fill="none"/><polygon points="293.37,284.99 291.01,281.17 295.73,281.17" stroke="#ff0000" stroke-width="0.78" fill="none"/><polygon points="300.12,285.40 297.75,281.57 302.48,281.57" stroke="#ff0000" stroke-width="0.78" fill="none"/><polygon points="306.86,285.40 304.50,281.57 309.22,281.57" stroke="#ff0000" stroke-width="0.78" fill="none"/><polygon points="313.61,285.40 311.24,281.57 315.97,281.57" stroke="#ff0000" stroke-width="0.78" fill="none"/><polygon points="320.35,285.40 317.99,281.57 322.71,281.57" stroke="#ff0000" stroke-width="0.78" fill="none"/><path d="M57.29 168.15L64.04 181.53L70.78 196.07L77.53 203.87L84.28 210.33L91.02 218.88L97.77 224.35L104.51 229.93L111.25 234.47L118.00 239.36L124.75 242.96L131.49 245.93L138.24 248.14L144.98 251.51L151.72 255.82L158.47 256.98L165.22 258.32L171.96 261.23L178.70 262.98L185.45 264.43L192.19 265.59L198.94 268.04L205.69 268.79L212.43 270.19L219.18 270.54L225.92 271.29L232.67 272.28L239.41 273.33L246.15 274.49L252.90 275.19L259.64 275.89L266.39 276.36L273.13 277.34L279.88 278.10L286.62 278.74L293.37 279.26L300.12 281.01L306.86 281.36L313.61 281.36L320.35 281.59" stroke="#00ff00" stroke-width="0.62" fill="none" stroke-linejoin="round"/><polygon points="57.29,170.80 54.93,166.97 59.66,166.97" fill="#00ff00"/><polygon points="64.04,184.18 61.68,180.35 66.40,180.35" fill="#00ff00"/><polygon points="70.78,198.72 68.42,194.89 73.15,194.89" fill="#00ff00"/><polygon points="77.53,206.52 75.17,202.69 79.89,202.69" fill="#00ff00"/><polygon points="84.28,212.97 81.91,209.15 86.64,209.15" fill="#00ff00"/><polygon points="91.02,221.52 88.66,217.70 93.38,217.70" fill="#00ff00"/><polygon points="97.77,226.99 95.40,223.17 100.13,223.17" fill="#00ff00"/><polygon points="104.51,232.58 102.15,228.75 106.87,228.75" fill="#00ff00"/><polygon points="111.25,237.12 108.89,233.29 113.62,233.29" fill="#00ff00"/><polygon points="118.00,242.00 115.64,238.17 120.36,238.17" fill="#00ff00"/><polygon points="124.75,245.61 122.38,241.78 127.11,241.78" fill="#00ff00"/><polygon points="131.49,248.58 129.13,244.75 133.85,244.75" fill="#00ff00"/><polygon points="138.24,250.79 135.87,246.96 140.60,246.96" fill="#00ff00"/><polygon points="144.98,254.16 142.62,250.33 147.34,250.33" fill="#00ff00"/><polygon points="151.72,258.47 149.36,254.64 154.09,254.64" fill="#00ff00"/><polygon points="158.47,259.63 156.11,255.80 160.83,255.80" fill="#00ff00"/><polygon points="165.22,260.97 162.85,257.14 167.58,257.14" fill="#00ff00"/><polygon points="171.96,263.88 169.60,260.05 174.32,260.05" fill="#00ff00"/><polygon points="178.70,265.62 176.34,261.79 181.07,261.79" fill="#00ff00"/><polygon points="185.45,267.08 183.09,263.25 187.81,263.25" fill="#00ff00"/><polygon points="192.19,268.24 189.83,264.41 194.56,264.41" fill="#00ff00"/><polygon points="198.94,270.68 196.58,266.86 201.30,266.86" fill="#00ff00"/><polygon points="205.69,271.44 203.32,267.61 208.05,267.61" fill="#00ff00"/><polygon points="212.43,272.83 210.07,269.01 214.79,269.01" fill="#00ff00"/><polygon points="219.18,273.18 216.81,269.36 221.54,269.36" fill="#00ff00"/><polygon points="225.92,273.94 223.56,270.11 228.28,270.11" fill="#00ff00"/><polygon points="232.67,274.93 230.30,271.10 235.03,271.10" fill="#00ff00"/><polygon points="239.41,275.98 237.05,272.15 241.77,272.15" fill="#00ff00"/><polygon points="246.15,277.14 243.79,273.31 248.52,273.31" fill="#00ff00"/><polygon points="252.90,277.84 250.54,274.01 255.26,274.01" fill="#00ff00"/><polygon points="259.64,278.54 257.28,274.71 262.01,274.71" fill="#00ff00"/><polygon points="266.39,279.00 264.03,275.17 268.75,275.17" fill="#00ff00"/><polygon points="273.13,279.99 270.77,276.16 275.50,276.16" fill="#00ff00"/><polygon points="279.88,280.75 277.52,276.92 282.24,276.92" fill="#00ff00"/><polygon points="286.62,281.39 284.26,277.56 288.99,277.56" fill="#00ff00"/><polygon points="293.37,281.91 291.01,278.08 295.73,278.08" fill="#00ff00"/><polygon points="300.12,283.66 297.75,279.83 302.48,279.83" fill="#00ff00"/><polygon points="306.86,284.00 304.50,280.18 309.22,280.18" fill="#00ff00"/><polygon points="313.61,284.00 311.24,280.18 315.97,280.18" fill="#00ff00"/><polygon points="320.35,284.24 317.99,280.41 322.71,280.41" fill="#00ff00"/><path d="M97.77 179.32L104.51 179.32L111.25 201.89L118.00 214.69L124.75 222.14L131.49 225.86L138.24 230.98L144.98 235.81L151.72 242.21L158.47 245.52L165.22 249.42L171.96 251.34L178.70 254.42L185.45 255.82L192.19 257.97L198.94 261.58L205.69 262.74L212.43 263.73L219.18 265.59L225.92 266.29L232.67 267.28L239.41 268.33L246.15 270.19L252.90 271.70L259.64 271.88L266.39 272.87L273.13 273.33L279.88 274.49L286.62 275.19L293.37 275.48L300.12 276.94L306.86 277.34L313.61 277.34L320.35 277.75" stroke="#0000ff" stroke-width="0.62" fill="none" stroke-linejoin="round"/><polygon points="97.77,176.92 100.17,179.32 97.77,181.72 95.36,179.32" stroke="#0000ff" stroke-width="0.78" fill="none"/><polygon points="104.51,176.92 106.91,179.32 104.51,181.72 102.11,179.32" stroke="#0000ff" stroke-width="0.78" fill="none"/><polygon points="111.25,199.49 113.66,201.89 111.25,204.29 108.85,201.89" stroke="#0000ff" stroke-width="0.78" fill="none"/><polygon points="118.00,212.29 120.40,214.69 118.00,217.09 115.60,214.69" stroke="#0000ff" stroke-width="0.78" fill="none"/><polygon points="124.75,219.74 127.15,222.14 124.75,224.54 122.34,222.14" stroke="#0000ff" stroke-width="0.78" fill="none"/><polygon points="131.49,223.46 133.89,225.86 131.49,228.26 129.09,225.86" stroke="#0000ff" stroke-width="0.78" fill="none"/><polygon points="138.24,228.58 140.64,230.98 138.24,233.38 135.84,230.98" stroke="#0000ff" stroke-width="0.78" fill="none"/><polygon points="144.98,233.41 147.38,235.81 144.98,238.21 142.58,235.81" stroke="#0000ff" stroke-width="0.78" fill="none"/><polygon points="151.72,239.81 154.12,242.21 151.72,244.61 149.32,242.21" stroke="#0000ff" stroke-width="0.78" fill="none"/><polygon points="158.47,243.12 160.87,245.52 158.47,247.92 156.07,245.52" stroke="#0000ff" stroke-width="0.78" fill="none"/><polygon points="165.22,247.02 167.62,249.42 165.22,251.82 162.81,249.42" stroke="#0000ff" stroke-width="0.78" fill="none"/><polygon points="171.96,248.94 174.36,251.34 171.96,253.74 169.56,251.34" stroke="#0000ff" stroke-width="0.78" fill="none"/><polygon points="178.70,252.02 181.10,254.42 178.70,256.82 176.30,254.42" stroke="#0000ff" stroke-width="0.78" fill="none"/><polygon points="185.45,253.42 187.85,255.82 185.45,258.22 183.05,255.82" stroke="#0000ff" stroke-width="0.78" fill="none"/><polygon points="192.19,255.57 194.59,257.97 192.19,260.37 189.79,257.97" stroke="#0000ff" stroke-width="0.78" fill="none"/><polygon points="198.94,259.18 201.34,261.58 198.94,263.98 196.54,261.58" stroke="#0000ff" stroke-width="0.78" fill="none"/><polygon points="205.69,260.34 208.09,262.74 205.69,265.14 203.28,262.74" stroke="#0000ff" stroke-width="0.78" fill="none"/><polygon points="212.43,261.33 214.83,263.73 212.43,266.13 210.03,263.73" stroke="#0000ff" stroke-width="0.78" fill="none"/><polygon points="219.18,263.19 221.58,265.59 219.18,267.99 216.78,265.59" stroke="#0000ff" stroke-width="0.78" fill="none"/><polygon points="225.92,263.89 228.32,266.29 225.92,268.69 223.52,266.29" stroke="#0000ff" stroke-width="0.78" fill="none"/><polygon points="232.67,264.88 235.07,267.28 232.67,269.68 230.27,267.28" stroke="#0000ff" stroke-width="0.78" fill="none"/><polygon points="239.41,265.93 241.81,268.33 239.41,270.73 237.01,268.33" stroke="#0000ff" stroke-width="0.78" fill="none"/><polygon points="246.15,267.79 248.55,270.19 246.15,272.59 243.75,270.19" stroke="#0000ff" stroke-width="0.78" fill="none"/><polygon points="252.90,269.30 255.30,271.70 252.90,274.10 250.50,271.70" stroke="#0000ff" stroke-width="0.78" fill="none"/><polygon points="259.64,269.48 262.04,271.88 259.64,274.28 257.25,271.88" stroke="#0000ff" stroke-width="0.78" fill="none"/><polygon points="266.39,270.47 268.79,272.87 266.39,275.26 263.99,272.87" stroke="#0000ff" stroke-width="0.78" fill="none"/><polygon points="273.13,270.93 275.53,273.33 273.13,275.73 270.74,273.33" stroke="#0000ff" stroke-width="0.78" fill="none"/><polygon points="279.88,272.09 282.28,274.49 279.88,276.89 277.48,274.49" stroke="#0000ff" stroke-width="0.78" fill="none"/><polygon points="286.62,272.79 289.02,275.19 286.62,277.59 284.23,275.19" stroke="#0000ff" stroke-width="0.78" fill="none"/><polygon points="293.37,273.08 295.77,275.48 293.37,277.88 290.97,275.48" stroke="#0000ff" stroke-width="0.78" fill="none"/><polygon points="300.12,274.54 302.51,276.94 300.12,279.34 297.72,276.94" stroke="#0000ff" stroke-width="0.78" fill="none"/><polygon points="306.86,274.94 309.26,277.34 306.86,279.74 304.46,277.34" stroke="#0000ff" stroke-width="0.78" fill="none"/><polygon points="313.61,274.94 316.00,277.34 313.61,279.74 311.21,277.34" stroke="#0000ff" stroke-width="0.78" fill="none"/><polygon points="320.35,275.35 322.75,277.75 320.35,280.15 317.95,277.75" stroke="#0000ff" stroke-width="0.78" fill="none"/><path d="M178.70 185.31L185.45 214.40L192.19 237.96L198.94 242.61L205.69 247.97L212.43 250.76L219.18 250.76L225.92 256.98L232.67 259.48L239.41 260.65L246.15 262.74L252.90 264.90L259.64 264.90L266.39 266.29L273.13 268.33L279.88 269.43L286.62 270.60L293.37 271.70L300.12 273.33L306.86 273.74L313.61 273.33L320.35 273.74" stroke="#ff00ff" stroke-width="0.62" fill="none" stroke-linejoin="round"/><polygon points="178.70,182.91 181.10,185.31 178.70,187.71 176.30,185.31" fill="#ff00ff"/><polygon points="185.45,212.00 187.85,214.40 185.45,216.80 183.05,214.40" fill="#ff00ff"/><polygon points="192.19,235.56 194.59,237.96 192.19,240.36 189.79,237.96" fill="#ff00ff"/><polygon points="198.94,240.21 201.34,242.61 198.94,245.01 196.54,242.61" fill="#ff00ff"/><polygon points="205.69,245.57 208.09,247.97 205.69,250.37 203.28,247.97" fill="#ff00ff"/><polygon points="212.43,248.36 214.83,250.76 212.43,253.16 210.03,250.76" fill="#ff00ff"/><polygon points="219.18,248.36 221.58,250.76 219.18,253.16 216.78,250.76" fill="#ff00ff"/><polygon points="225.92,254.58 228.32,256.98 225.92,259.38 223.52,256.98" fill="#ff00ff"/><polygon points="232.67,257.08 235.07,259.48 232.67,261.88 230.27,259.48" fill="#ff00ff"/><polygon points="239.41,258.25 241.81,260.65 239.41,263.05 237.01,260.65" fill="#ff00ff"/><polygon points="246.15,260.34 248.55,262.74 246.15,265.14 243.75,262.74" fill="#ff00ff"/><polygon points="252.90,262.50 255.30,264.90 252.90,267.30 250.50,264.90" fill="#ff00ff"/><polygon points="259.64,262.50 262.04,264.90 259.64,267.30 257.25,264.90" fill="#ff00ff"/><polygon points="266.39,263.89 268.79,266.29 266.39,268.69 263.99,266.29" fill="#ff00ff"/><polygon points="273.13,265.93 275.53,268.33 273.13,270.73 270.74,268.33" fill="#ff00ff"/><polygon points="279.88,267.03 282.28,269.43 279.88,271.83 277.48,269.43" fill="#ff00ff"/><polygon points="286.62,268.20 289.02,270.60 286.62,273.00 284.23,270.60" fill="#ff00ff"/><polygon points="293.37,269.30 295.77,271.70 293.37,274.10 290.97,271.70" fill="#ff00ff"/><polygon points="300.12,270.93 302.51,273.33 300.12,275.73 297.72,273.33" fill="#ff00ff"/><polygon points="306.86,271.34 309.26,273.74 306.86,276.14 304.46,273.74" fill="#ff00ff"/><polygon points="313.61,270.93 316.00,273.33 313.61,275.73 311.21,273.33" fill="#ff00ff"/><polygon points="320.35,271.34 322.75,273.74 320.35,276.14 317.95,273.74" fill="#ff00ff"/><path d="M259.64 220.80L266.39 218.76L273.13 244.65L279.88 251.34L286.62 255.53L293.37 259.14L300.12 263.44L306.86 264.43L313.61 264.14L320.35 265.88" stroke="#00ffff" stroke-width="0.62" fill="none" stroke-linejoin="round"/><polygon points="259.64,218.30 262.02,220.03 261.11,222.82 258.18,222.82 257.27,220.03" stroke="#00ffff" stroke-width="0.78" fill="none"/><polygon points="266.39,216.26 268.77,217.99 267.86,220.78 264.92,220.78 264.01,217.99" stroke="#00ffff" stroke-width="0.78" fill="none"/><polygon points="273.13,242.15 275.51,243.88 274.60,246.67 271.67,246.67 270.76,243.88" stroke="#00ffff" stroke-width="0.78" fill="none"/><polygon points="279.88,248.84 282.26,250.57 281.35,253.36 278.41,253.36 277.50,250.57" stroke="#00ffff" stroke-width="0.78" fill="none"/><polygon points="286.62,253.03 289.00,254.76 288.09,257.55 285.16,257.55 284.25,254.76" stroke="#00ffff" stroke-width="0.78" fill="none"/><polygon points="293.37,256.64 295.75,258.36 294.84,261.16 291.90,261.16 290.99,258.36" stroke="#00ffff" stroke-width="0.78" fill="none"/><polygon points="300.12,260.94 302.49,262.67 301.58,265.46 298.65,265.46 297.74,262.67" stroke="#00ffff" stroke-width="0.78" fill="none"/><polygon points="306.86,261.93 309.24,263.66 308.33,266.45 305.39,266.45 304.48,263.66" stroke="#00ffff" stroke-width="0.78" fill="none"/><polygon points="313.61,261.64 315.98,263.37 315.07,266.16 312.14,266.16 311.23,263.37" stroke="#00ffff" stroke-width="0.78" fill="none"/><polygon points="320.35,263.38 322.73,265.11 321.82,267.91 318.88,267.91 317.97,265.11" stroke="#00ffff" stroke-width="0.78" fill="none"/></g><g><path d="M400.60 284.60v-4.6M400.60 168.19v4.6M434.36 284.60v-4.6M434.36 168.19v4.6M468.12 284.60v-4.6M468.12 168.19v4.6M501.88 284.60v-4.6M501.88 168.19v4.6M535.64 284.60v-4.6M535.64 168.19v4.6M569.40 284.60v-4.6M569.40 168.19v4.6M603.16 284.60v-4.6M603.16 168.19v4.6M636.92 284.60v-4.6M636.92 168.19v4.6M670.68 284.60v-4.6M670.68 168.19v4.6M393.95 284.60h4.6M683.95 284.60h-4.6M393.95 271.67h4.6M683.95 271.67h-4.6M393.95 258.73h4.6M683.95 258.73h-4.6M393.95 245.80h4.6M683.95 245.80h-4.6M393.95 232.86h4.6M683.95 232.86h-4.6M393.95 219.93h4.6M683.95 219.93h-4.6M393.95 207.00h4.6M683.95 207.00h-4.6M393.95 194.06h4.6M683.95 194.06h-4.6M393.95 181.13h4.6M683.95 181.13h-4.6M393.95 168.19h4.6M683.95 168.19h-4.6" stroke="#000" stroke-width="0.85" fill="none"/><rect x="393.95" y="168.19" width="290.00" height="116.41" fill="none" stroke="#000" stroke-width="1.05"/><text transform="translate(402.00 298.30) rotate(0.05)" font-size="9.6" text-anchor="middle">0</text><text transform="translate(435.76 298.30) rotate(0.05)" font-size="9.6" text-anchor="middle">0.05</text><text transform="translate(469.52 298.30) rotate(0.05)" font-size="9.6" text-anchor="middle">0.1</text><text transform="translate(503.28 298.30) rotate(0.05)" font-size="9.6" text-anchor="middle">0.15</text><text transform="translate(537.04 298.30) rotate(0.05)" font-size="9.6" text-anchor="middle">0.2</text><text transform="translate(570.80 298.30) rotate(0.05)" font-size="9.6" text-anchor="middle">0.25</text><text transform="translate(604.56 298.30) rotate(0.05)" font-size="9.6" text-anchor="middle">0.3</text><text transform="translate(638.32 298.30) rotate(0.05)" font-size="9.6" text-anchor="middle">0.35</text><text transform="translate(672.08 298.30) rotate(0.05)" font-size="9.6" text-anchor="middle">0.4</text><text transform="translate(388.15 288.05) rotate(0.05)" font-size="9.6" text-anchor="end">0</text><text transform="translate(388.15 275.12) rotate(0.05)" font-size="9.6" text-anchor="end">2</text><text transform="translate(388.15 262.18) rotate(0.05)" font-size="9.6" text-anchor="end">4</text><text transform="translate(388.15 249.25) rotate(0.05)" font-size="9.6" text-anchor="end">6</text><text transform="translate(388.15 236.31) rotate(0.05)" font-size="9.6" text-anchor="end">8</text><text transform="translate(388.15 223.38) rotate(0.05)" font-size="9.6" text-anchor="end">10</text><text transform="translate(388.15 210.45) rotate(0.05)" font-size="9.6" text-anchor="end">12</text><text transform="translate(388.15 197.51) rotate(0.05)" font-size="9.6" text-anchor="end">14</text><text transform="translate(388.15 184.58) rotate(0.05)" font-size="9.6" text-anchor="end">16</text><text transform="translate(388.15 171.64) rotate(0.05)" font-size="9.6" text-anchor="end">18</text><text transform="translate(538.45 312.50) rotate(0.05)" font-size="9.7" text-anchor="middle">Proportion of peers initially subverted</text><text transform="translate(363.55 226.50) rotate(-89.95)" font-size="9.7" text-anchor="middle">Time to foothold ratio (years)</text><text transform="translate(539.05 157.49) rotate(0.05)" font-size="9.7" text-anchor="middle">Churn Factor 4%</text><path d="M407.35 254.53L414.10 261.71L420.86 267.46L427.61 271.67L434.36 274.25L441.11 278.13L447.86 280.33L454.62 282.42L461.37 283.52L468.12 283.94L474.87 284.60L481.62 284.60L488.38 284.60L495.13 284.60L501.88 284.60L508.63 284.60L515.38 284.60L522.14 284.60L528.89 284.60L535.64 284.60L542.39 284.60L549.14 284.60L555.90 284.60L562.65 284.60L569.40 284.60L576.15 284.60L582.90 284.60L589.66 284.60L596.41 284.60L603.16 284.60L609.91 284.60L616.66 284.60L623.42 284.60L630.17 284.60L636.92 284.60L643.67 284.60L650.42 284.60L657.18 284.60L663.93 284.60L670.68 284.60" stroke="#ff0000" stroke-width="0.62" fill="none" stroke-linejoin="round"/><path d="M405.10 254.53H409.60M407.35 252.28V256.78" stroke="#ff0000" stroke-width="0.62" fill="none"/><path d="M411.85 261.71H416.35M414.10 259.46V263.96" stroke="#ff0000" stroke-width="0.62" fill="none"/><path d="M418.61 267.46H423.11M420.86 265.21V269.71" stroke="#ff0000" stroke-width="0.62" fill="none"/><path d="M425.36 271.67H429.86M427.61 269.42V273.92" stroke="#ff0000" stroke-width="0.62" fill="none"/><path d="M432.11 274.25H436.61M434.36 272.00V276.50" stroke="#ff0000" stroke-width="0.62" fill="none"/><path d="M438.86 278.13H443.36M441.11 275.88V280.38" stroke="#ff0000" stroke-width="0.62" fill="none"/><path d="M445.61 280.33H450.11M447.86 278.08V282.58" stroke="#ff0000" stroke-width="0.62" fill="none"/><path d="M452.37 282.42H456.87M454.62 280.17V284.67" stroke="#ff0000" stroke-width="0.62" fill="none"/><path d="M459.12 283.52H463.62M461.37 281.27V285.77" stroke="#ff0000" stroke-width="0.62" fill="none"/><path d="M465.87 283.94H470.37M468.12 281.69V286.19" stroke="#ff0000" stroke-width="0.62" fill="none"/><path d="M472.62 284.60H477.12M474.87 282.35V286.85" stroke="#ff0000" stroke-width="0.62" fill="none"/><path d="M479.37 284.60H483.87M481.62 282.35V286.85" stroke="#ff0000" stroke-width="0.62" fill="none"/><path d="M486.13 284.60H490.63M488.38 282.35V286.85" stroke="#ff0000" stroke-width="0.62" fill="none"/><path d="M492.88 284.60H497.38M495.13 282.35V286.85" stroke="#ff0000" stroke-width="0.62" fill="none"/><path d="M499.63 284.60H504.13M501.88 282.35V286.85" stroke="#ff0000" stroke-width="0.62" fill="none"/><path d="M506.38 284.60H510.88M508.63 282.35V286.85" stroke="#ff0000" stroke-width="0.62" fill="none"/><path d="M513.13 284.60H517.63M515.38 282.35V286.85" stroke="#ff0000" stroke-width="0.62" fill="none"/><path d="M519.89 284.60H524.39M522.14 282.35V286.85" stroke="#ff0000" stroke-width="0.62" fill="none"/><path d="M526.64 284.60H531.14M528.89 282.35V286.85" stroke="#ff0000" stroke-width="0.62" fill="none"/><path d="M533.39 284.60H537.89M535.64 282.35V286.85" stroke="#ff0000" stroke-width="0.62" fill="none"/><path d="M540.14 284.60H544.64M542.39 282.35V286.85" stroke="#ff0000" stroke-width="0.62" fill="none"/><path d="M546.89 284.60H551.39M549.14 282.35V286.85" stroke="#ff0000" stroke-width="0.62" fill="none"/><path d="M553.65 284.60H558.15M555.90 282.35V286.85" stroke="#ff0000" stroke-width="0.62" fill="none"/><path d="M560.40 284.60H564.90M562.65 282.35V286.85" stroke="#ff0000" stroke-width="0.62" fill="none"/><path d="M567.15 284.60H571.65M569.40 282.35V286.85" stroke="#ff0000" stroke-width="0.62" fill="none"/><path d="M573.90 284.60H578.40M576.15 282.35V286.85" stroke="#ff0000" stroke-width="0.62" fill="none"/><path d="M580.65 284.60H585.15M582.90 282.35V286.85" stroke="#ff0000" stroke-width="0.62" fill="none"/><path d="M587.41 284.60H591.91M589.66 282.35V286.85" stroke="#ff0000" stroke-width="0.62" fill="none"/><path d="M594.16 284.60H598.66M596.41 282.35V286.85" stroke="#ff0000" stroke-width="0.62" fill="none"/><path d="M600.91 284.60H605.41M603.16 282.35V286.85" stroke="#ff0000" stroke-width="0.62" fill="none"/><path d="M607.66 284.60H612.16M609.91 282.35V286.85" stroke="#ff0000" stroke-width="0.62" fill="none"/><path d="M614.41 284.60H618.91M616.66 282.35V286.85" stroke="#ff0000" stroke-width="0.62" fill="none"/><path d="M621.17 284.60H625.67M623.42 282.35V286.85" stroke="#ff0000" stroke-width="0.62" fill="none"/><path d="M627.92 284.60H632.42M630.17 282.35V286.85" stroke="#ff0000" stroke-width="0.62" fill="none"/><path d="M634.67 284.60H639.17M636.92 282.35V286.85" stroke="#ff0000" stroke-width="0.62" fill="none"/><path d="M641.42 284.60H645.92M643.67 282.35V286.85" stroke="#ff0000" stroke-width="0.62" fill="none"/><path d="M648.17 284.60H652.67M650.42 282.35V286.85" stroke="#ff0000" stroke-width="0.62" fill="none"/><path d="M654.93 284.60H659.43M657.18 282.35V286.85" stroke="#ff0000" stroke-width="0.62" fill="none"/><path d="M661.68 284.60H666.18M663.93 282.35V286.85" stroke="#ff0000" stroke-width="0.62" fill="none"/><path d="M668.43 284.60H672.93M670.68 282.35V286.85" stroke="#ff0000" stroke-width="0.62" fill="none"/><path d="M407.35 250.00L414.10 257.12L420.86 262.87L427.61 267.14L434.36 269.73L441.11 274.25L447.86 276.00L454.62 278.13L461.37 279.62L468.12 281.14L474.87 282.08L481.62 283.52L488.38 283.94L495.13 284.60L501.88 284.60L508.63 284.60L515.38 284.60L522.14 284.60L528.89 284.60L535.64 284.60L542.39 284.60L549.14 284.60L555.90 284.60L562.65 284.60L569.40 284.60L576.15 284.60L582.90 284.60L589.66 284.60L596.41 284.60L603.16 284.60L609.91 284.60L616.66 284.60L623.42 284.60L630.17 284.60L636.92 284.60L643.67 284.60L650.42 284.60L657.18 284.60L663.93 284.60L670.68 284.60" stroke="#00ff00" stroke-width="0.62" fill="none" stroke-linejoin="round"/><path d="M405.10 247.75L409.60 252.25M405.10 252.25L409.60 247.75" stroke="#00ff00" stroke-width="0.62" fill="none"/><path d="M411.85 254.87L416.35 259.37M411.85 259.37L416.35 254.87" stroke="#00ff00" stroke-width="0.62" fill="none"/><path d="M418.61 260.62L423.11 265.12M418.61 265.12L423.11 260.62" stroke="#00ff00" stroke-width="0.62" fill="none"/><path d="M425.36 264.89L429.86 269.39M425.36 269.39L429.86 264.89" stroke="#00ff00" stroke-width="0.62" fill="none"/><path d="M432.11 267.48L436.61 271.98M432.11 271.98L436.61 267.48" stroke="#00ff00" stroke-width="0.62" fill="none"/><path d="M438.86 272.00L443.36 276.50M438.86 276.50L443.36 272.00" stroke="#00ff00" stroke-width="0.62" fill="none"/><path d="M445.61 273.75L450.11 278.25M445.61 278.25L450.11 273.75" stroke="#00ff00" stroke-width="0.62" fill="none"/><path d="M452.37 275.88L456.87 280.38M452.37 280.38L456.87 275.88" stroke="#00ff00" stroke-width="0.62" fill="none"/><path d="M459.12 277.37L463.62 281.87M459.12 281.87L463.62 277.37" stroke="#00ff00" stroke-width="0.62" fill="none"/><path d="M465.87 278.89L470.37 283.39M465.87 283.39L470.37 278.89" stroke="#00ff00" stroke-width="0.62" fill="none"/><path d="M472.62 279.83L477.12 284.33M472.62 284.33L477.12 279.83" stroke="#00ff00" stroke-width="0.62" fill="none"/><path d="M479.37 281.27L483.87 285.77M479.37 285.77L483.87 281.27" stroke="#00ff00" stroke-width="0.62" fill="none"/><path d="M486.13 281.69L490.63 286.19M486.13 286.19L490.63 281.69" stroke="#00ff00" stroke-width="0.62" fill="none"/><path d="M492.88 282.35L497.38 286.85M492.88 286.85L497.38 282.35" stroke="#00ff00" stroke-width="0.62" fill="none"/><path d="M499.63 282.35L504.13 286.85M499.63 286.85L504.13 282.35" stroke="#00ff00" stroke-width="0.62" fill="none"/><path d="M506.38 282.35L510.88 286.85M506.38 286.85L510.88 282.35" stroke="#00ff00" stroke-width="0.62" fill="none"/><path d="M513.13 282.35L517.63 286.85M513.13 286.85L517.63 282.35" stroke="#00ff00" stroke-width="0.62" fill="none"/><path d="M519.89 282.35L524.39 286.85M519.89 286.85L524.39 282.35" stroke="#00ff00" stroke-width="0.62" fill="none"/><path d="M526.64 282.35L531.14 286.85M526.64 286.85L531.14 282.35" stroke="#00ff00" stroke-width="0.62" fill="none"/><path d="M533.39 282.35L537.89 286.85M533.39 286.85L537.89 282.35" stroke="#00ff00" stroke-width="0.62" fill="none"/><path d="M540.14 282.35L544.64 286.85M540.14 286.85L544.64 282.35" stroke="#00ff00" stroke-width="0.62" fill="none"/><path d="M546.89 282.35L551.39 286.85M546.89 286.85L551.39 282.35" stroke="#00ff00" stroke-width="0.62" fill="none"/><path d="M553.65 282.35L558.15 286.85M553.65 286.85L558.15 282.35" stroke="#00ff00" stroke-width="0.62" fill="none"/><path d="M560.40 282.35L564.90 286.85M560.40 286.85L564.90 282.35" stroke="#00ff00" stroke-width="0.62" fill="none"/><path d="M567.15 282.35L571.65 286.85M567.15 286.85L571.65 282.35" stroke="#00ff00" stroke-width="0.62" fill="none"/><path d="M573.90 282.35L578.40 286.85M573.90 286.85L578.40 282.35" stroke="#00ff00" stroke-width="0.62" fill="none"/><path d="M580.65 282.35L585.15 286.85M580.65 286.85L585.15 282.35" stroke="#00ff00" stroke-width="0.62" fill="none"/><path d="M587.41 282.35L591.91 286.85M587.41 286.85L591.91 282.35" stroke="#00ff00" stroke-width="0.62" fill="none"/><path d="M594.16 282.35L598.66 286.85M594.16 286.85L598.66 282.35" stroke="#00ff00" stroke-width="0.62" fill="none"/><path d="M600.91 282.35L605.41 286.85M600.91 286.85L605.41 282.35" stroke="#00ff00" stroke-width="0.62" fill="none"/><path d="M607.66 282.35L612.16 286.85M607.66 286.85L612.16 282.35" stroke="#00ff00" stroke-width="0.62" fill="none"/><path d="M614.41 282.35L618.91 286.85M614.41 286.85L618.91 282.35" stroke="#00ff00" stroke-width="0.62" fill="none"/><path d="M621.17 282.35L625.67 286.85M621.17 286.85L625.67 282.35" stroke="#00ff00" stroke-width="0.62" fill="none"/><path d="M627.92 282.35L632.42 286.85M627.92 286.85L632.42 282.35" stroke="#00ff00" stroke-width="0.62" fill="none"/><path d="M634.67 282.35L639.17 286.85M634.67 286.85L639.17 282.35" stroke="#00ff00" stroke-width="0.62" fill="none"/><path d="M641.42 282.35L645.92 286.85M641.42 286.85L645.92 282.35" stroke="#00ff00" stroke-width="0.62" fill="none"/><path d="M648.17 282.35L652.67 286.85M648.17 286.85L652.67 282.35" stroke="#00ff00" stroke-width="0.62" fill="none"/><path d="M654.93 282.35L659.43 286.85M654.93 286.85L659.43 282.35" stroke="#00ff00" stroke-width="0.62" fill="none"/><path d="M661.68 282.35L666.18 286.85M661.68 286.85L666.18 282.35" stroke="#00ff00" stroke-width="0.62" fill="none"/><path d="M668.43 282.35L672.93 286.85M668.43 286.85L672.93 282.35" stroke="#00ff00" stroke-width="0.62" fill="none"/><path d="M407.35 245.54L414.10 253.11L420.86 258.86L427.61 262.87L434.36 265.98L441.11 270.37L447.86 272.44L454.62 274.58L461.37 276.32L468.12 277.87L474.87 278.91L481.62 280.33L488.38 281.65L495.13 282.42L501.88 283.26L508.63 283.94L515.38 284.60L522.14 284.60L528.89 284.60L535.64 284.60L542.39 284.60L549.14 284.60L555.90 284.60L562.65 284.60L569.40 284.60L576.15 284.60L582.90 284.60L589.66 284.60L596.41 284.60L603.16 284.60L609.91 284.60L616.66 284.60L623.42 284.60L630.17 284.60L636.92 284.60L643.67 284.60L650.42 284.60L657.18 284.60L663.93 284.60L670.68 284.60" stroke="#0000ff" stroke-width="0.62" fill="none" stroke-linejoin="round"/><path d="M405.10 245.54H409.60M407.35 243.29V247.79" stroke="#0000ff" stroke-width="0.62" fill="none"/><path d="M405.10 243.29L409.60 247.79M405.10 247.79L409.60 243.29" stroke="#0000ff" stroke-width="0.62" fill="none"/><path d="M411.85 253.11H416.35M414.10 250.86V255.36" stroke="#0000ff" stroke-width="0.62" fill="none"/><path d="M411.85 250.86L416.35 255.36M411.85 255.36L416.35 250.86" stroke="#0000ff" stroke-width="0.62" fill="none"/><path d="M418.61 258.86H423.11M420.86 256.61V261.11" stroke="#0000ff" stroke-width="0.62" fill="none"/><path d="M418.61 256.61L423.11 261.11M418.61 261.11L423.11 256.61" stroke="#0000ff" stroke-width="0.62" fill="none"/><path d="M425.36 262.87H429.86M427.61 260.62V265.12" stroke="#0000ff" stroke-width="0.62" fill="none"/><path d="M425.36 260.62L429.86 265.12M425.36 265.12L429.86 260.62" stroke="#0000ff" stroke-width="0.62" fill="none"/><path d="M432.11 265.98H436.61M434.36 263.73V268.23" stroke="#0000ff" stroke-width="0.62" fill="none"/><path d="M432.11 263.73L436.61 268.23M432.11 268.23L436.61 263.73" stroke="#0000ff" stroke-width="0.62" fill="none"/><path d="M438.86 270.37H443.36M441.11 268.12V272.62" stroke="#0000ff" stroke-width="0.62" fill="none"/><path d="M438.86 268.12L443.36 272.62M438.86 272.62L443.36 268.12" stroke="#0000ff" stroke-width="0.62" fill="none"/><path d="M445.61 272.44H450.11M447.86 270.19V274.69" stroke="#0000ff" stroke-width="0.62" fill="none"/><path d="M445.61 270.19L450.11 274.69M445.61 274.69L450.11 270.19" stroke="#0000ff" stroke-width="0.62" fill="none"/><path d="M452.37 274.58H456.87M454.62 272.33V276.83" stroke="#0000ff" stroke-width="0.62" fill="none"/><path d="M452.37 272.33L456.87 276.83M452.37 276.83L456.87 272.33" stroke="#0000ff" stroke-width="0.62" fill="none"/><path d="M459.12 276.32H463.62M461.37 274.07V278.57" stroke="#0000ff" stroke-width="0.62" fill="none"/><path d="M459.12 274.07L463.62 278.57M459.12 278.57L463.62 274.07" stroke="#0000ff" stroke-width="0.62" fill="none"/><path d="M465.87 277.87H470.37M468.12 275.62V280.12" stroke="#0000ff" stroke-width="0.62" fill="none"/><path d="M465.87 275.62L470.37 280.12M465.87 280.12L470.37 275.62" stroke="#0000ff" stroke-width="0.62" fill="none"/><path d="M472.62 278.91H477.12M474.87 276.66V281.16" stroke="#0000ff" stroke-width="0.62" fill="none"/><path d="M472.62 276.66L477.12 281.16M472.62 281.16L477.12 276.66" stroke="#0000ff" stroke-width="0.62" fill="none"/><path d="M479.37 280.33H483.87M481.62 278.08V282.58" stroke="#0000ff" stroke-width="0.62" fill="none"/><path d="M479.37 278.08L483.87 282.58M479.37 282.58L483.87 278.08" stroke="#0000ff" stroke-width="0.62" fill="none"/><path d="M486.13 281.65H490.63M488.38 279.40V283.90" stroke="#0000ff" stroke-width="0.62" fill="none"/><path d="M486.13 279.40L490.63 283.90M486.13 283.90L490.63 279.40" stroke="#0000ff" stroke-width="0.62" fill="none"/><path d="M492.88 282.42H497.38M495.13 280.17V284.67" stroke="#0000ff" stroke-width="0.62" fill="none"/><path d="M492.88 280.17L497.38 284.67M492.88 284.67L497.38 280.17" stroke="#0000ff" stroke-width="0.62" fill="none"/><path d="M499.63 283.26H504.13M501.88 281.01V285.51" stroke="#0000ff" stroke-width="0.62" fill="none"/><path d="M499.63 281.01L504.13 285.51M499.63 285.51L504.13 281.01" stroke="#0000ff" stroke-width="0.62" fill="none"/><path d="M506.38 283.94H510.88M508.63 281.69V286.19" stroke="#0000ff" stroke-width="0.62" fill="none"/><path d="M506.38 281.69L510.88 286.19M506.38 286.19L510.88 281.69" stroke="#0000ff" stroke-width="0.62" fill="none"/><path d="M513.13 284.60H517.63M515.38 282.35V286.85" stroke="#0000ff" stroke-width="0.62" fill="none"/><path d="M513.13 282.35L517.63 286.85M513.13 286.85L517.63 282.35" stroke="#0000ff" stroke-width="0.62" fill="none"/><path d="M519.89 284.60H524.39M522.14 282.35V286.85" stroke="#0000ff" stroke-width="0.62" fill="none"/><path d="M519.89 282.35L524.39 286.85M519.89 286.85L524.39 282.35" stroke="#0000ff" stroke-width="0.62" fill="none"/><path d="M526.64 284.60H531.14M528.89 282.35V286.85" stroke="#0000ff" stroke-width="0.62" fill="none"/><path d="M526.64 282.35L531.14 286.85M526.64 286.85L531.14 282.35" stroke="#0000ff" stroke-width="0.62" fill="none"/><path d="M533.39 284.60H537.89M535.64 282.35V286.85" stroke="#0000ff" stroke-width="0.62" fill="none"/><path d="M533.39 282.35L537.89 286.85M533.39 286.85L537.89 282.35" stroke="#0000ff" stroke-width="0.62" fill="none"/><path d="M540.14 284.60H544.64M542.39 282.35V286.85" stroke="#0000ff" stroke-width="0.62" fill="none"/><path d="M540.14 282.35L544.64 286.85M540.14 286.85L544.64 282.35" stroke="#0000ff" stroke-width="0.62" fill="none"/><path d="M546.89 284.60H551.39M549.14 282.35V286.85" stroke="#0000ff" stroke-width="0.62" fill="none"/><path d="M546.89 282.35L551.39 286.85M546.89 286.85L551.39 282.35" stroke="#0000ff" stroke-width="0.62" fill="none"/><path d="M553.65 284.60H558.15M555.90 282.35V286.85" stroke="#0000ff" stroke-width="0.62" fill="none"/><path d="M553.65 282.35L558.15 286.85M553.65 286.85L558.15 282.35" stroke="#0000ff" stroke-width="0.62" fill="none"/><path d="M560.40 284.60H564.90M562.65 282.35V286.85" stroke="#0000ff" stroke-width="0.62" fill="none"/><path d="M560.40 282.35L564.90 286.85M560.40 286.85L564.90 282.35" stroke="#0000ff" stroke-width="0.62" fill="none"/><path d="M567.15 284.60H571.65M569.40 282.35V286.85" stroke="#0000ff" stroke-width="0.62" fill="none"/><path d="M567.15 282.35L571.65 286.85M567.15 286.85L571.65 282.35" stroke="#0000ff" stroke-width="0.62" fill="none"/><path d="M573.90 284.60H578.40M576.15 282.35V286.85" stroke="#0000ff" stroke-width="0.62" fill="none"/><path d="M573.90 282.35L578.40 286.85M573.90 286.85L578.40 282.35" stroke="#0000ff" stroke-width="0.62" fill="none"/><path d="M580.65 284.60H585.15M582.90 282.35V286.85" stroke="#0000ff" stroke-width="0.62" fill="none"/><path d="M580.65 282.35L585.15 286.85M580.65 286.85L585.15 282.35" stroke="#0000ff" stroke-width="0.62" fill="none"/><path d="M587.41 284.60H591.91M589.66 282.35V286.85" stroke="#0000ff" stroke-width="0.62" fill="none"/><path d="M587.41 282.35L591.91 286.85M587.41 286.85L591.91 282.35" stroke="#0000ff" stroke-width="0.62" fill="none"/><path d="M594.16 284.60H598.66M596.41 282.35V286.85" stroke="#0000ff" stroke-width="0.62" fill="none"/><path d="M594.16 282.35L598.66 286.85M594.16 286.85L598.66 282.35" stroke="#0000ff" stroke-width="0.62" fill="none"/><path d="M600.91 284.60H605.41M603.16 282.35V286.85" stroke="#0000ff" stroke-width="0.62" fill="none"/><path d="M600.91 282.35L605.41 286.85M600.91 286.85L605.41 282.35" stroke="#0000ff" stroke-width="0.62" fill="none"/><path d="M607.66 284.60H612.16M609.91 282.35V286.85" stroke="#0000ff" stroke-width="0.62" fill="none"/><path d="M607.66 282.35L612.16 286.85M607.66 286.85L612.16 282.35" stroke="#0000ff" stroke-width="0.62" fill="none"/><path d="M614.41 284.60H618.91M616.66 282.35V286.85" stroke="#0000ff" stroke-width="0.62" fill="none"/><path d="M614.41 282.35L618.91 286.85M614.41 286.85L618.91 282.35" stroke="#0000ff" stroke-width="0.62" fill="none"/><path d="M621.17 284.60H625.67M623.42 282.35V286.85" stroke="#0000ff" stroke-width="0.62" fill="none"/><path d="M621.17 282.35L625.67 286.85M621.17 286.85L625.67 282.35" stroke="#0000ff" stroke-width="0.62" fill="none"/><path d="M627.92 284.60H632.42M630.17 282.35V286.85" stroke="#0000ff" stroke-width="0.62" fill="none"/><path d="M627.92 282.35L632.42 286.85M627.92 286.85L632.42 282.35" stroke="#0000ff" stroke-width="0.62" fill="none"/><path d="M634.67 284.60H639.17M636.92 282.35V286.85" stroke="#0000ff" stroke-width="0.62" fill="none"/><path d="M634.67 282.35L639.17 286.85M634.67 286.85L639.17 282.35" stroke="#0000ff" stroke-width="0.62" fill="none"/><path d="M641.42 284.60H645.92M643.67 282.35V286.85" stroke="#0000ff" stroke-width="0.62" fill="none"/><path d="M641.42 282.35L645.92 286.85M641.42 286.85L645.92 282.35" stroke="#0000ff" stroke-width="0.62" fill="none"/><path d="M648.17 284.60H652.67M650.42 282.35V286.85" stroke="#0000ff" stroke-width="0.62" fill="none"/><path d="M648.17 282.35L652.67 286.85M648.17 286.85L652.67 282.35" stroke="#0000ff" stroke-width="0.62" fill="none"/><path d="M654.93 284.60H659.43M657.18 282.35V286.85" stroke="#0000ff" stroke-width="0.62" fill="none"/><path d="M654.93 282.35L659.43 286.85M654.93 286.85L659.43 282.35" stroke="#0000ff" stroke-width="0.62" fill="none"/><path d="M661.68 284.60H666.18M663.93 282.35V286.85" stroke="#0000ff" stroke-width="0.62" fill="none"/><path d="M661.68 282.35L666.18 286.85M661.68 286.85L666.18 282.35" stroke="#0000ff" stroke-width="0.62" fill="none"/><path d="M668.43 284.60H672.93M670.68 282.35V286.85" stroke="#0000ff" stroke-width="0.62" fill="none"/><path d="M668.43 282.35L672.93 286.85M668.43 286.85L672.93 282.35" stroke="#0000ff" stroke-width="0.62" fill="none"/><path d="M407.35 241.92L414.10 249.55L420.86 255.24L427.61 259.57L434.36 262.87L441.11 266.69L447.86 269.27L454.62 271.41L461.37 273.86L468.12 275.55L474.87 276.45L481.62 278.13L488.38 279.17L495.13 280.07L501.88 280.72L508.63 281.57L515.38 282.42L522.14 283.01L528.89 283.69L535.64 284.28L542.39 284.28L549.14 284.28L555.90 284.28L562.65 284.28L569.40 284.28L576.15 284.28L582.90 284.28L589.66 284.28L596.41 284.28L603.16 284.28L609.91 284.28L616.66 284.28L623.42 284.28L630.17 284.28L636.92 284.28L643.67 284.28L650.42 284.28L657.18 284.28L663.93 284.28L670.68 284.28" stroke="#ff00ff" stroke-width="0.62" fill="none" stroke-linejoin="round"/><rect x="405.30" y="239.87" width="4.10" height="4.10" stroke="#ff00ff" stroke-width="0.78" fill="none"/><rect x="412.05" y="247.50" width="4.10" height="4.10" stroke="#ff00ff" stroke-width="0.78" fill="none"/><rect x="418.81" y="253.19" width="4.10" height="4.10" stroke="#ff00ff" stroke-width="0.78" fill="none"/><rect x="425.56" y="257.52" width="4.10" height="4.10" stroke="#ff00ff" stroke-width="0.78" fill="none"/><rect x="432.31" y="260.82" width="4.10" height="4.10" stroke="#ff00ff" stroke-width="0.78" fill="none"/><rect x="439.06" y="264.64" width="4.10" height="4.10" stroke="#ff00ff" stroke-width="0.78" fill="none"/><rect x="445.81" y="267.22" width="4.10" height="4.10" stroke="#ff00ff" stroke-width="0.78" fill="none"/><rect x="452.57" y="269.36" width="4.10" height="4.10" stroke="#ff00ff" stroke-width="0.78" fill="none"/><rect x="459.32" y="271.81" width="4.10" height="4.10" stroke="#ff00ff" stroke-width="0.78" fill="none"/><rect x="466.07" y="273.50" width="4.10" height="4.10" stroke="#ff00ff" stroke-width="0.78" fill="none"/><rect x="472.82" y="274.40" width="4.10" height="4.10" stroke="#ff00ff" stroke-width="0.78" fill="none"/><rect x="479.57" y="276.08" width="4.10" height="4.10" stroke="#ff00ff" stroke-width="0.78" fill="none"/><rect x="486.33" y="277.12" width="4.10" height="4.10" stroke="#ff00ff" stroke-width="0.78" fill="none"/><rect x="493.08" y="278.02" width="4.10" height="4.10" stroke="#ff00ff" stroke-width="0.78" fill="none"/><rect x="499.83" y="278.67" width="4.10" height="4.10" stroke="#ff00ff" stroke-width="0.78" fill="none"/><rect x="506.58" y="279.52" width="4.10" height="4.10" stroke="#ff00ff" stroke-width="0.78" fill="none"/><rect x="513.33" y="280.37" width="4.10" height="4.10" stroke="#ff00ff" stroke-width="0.78" fill="none"/><rect x="520.09" y="280.96" width="4.10" height="4.10" stroke="#ff00ff" stroke-width="0.78" fill="none"/><rect x="526.84" y="281.64" width="4.10" height="4.10" stroke="#ff00ff" stroke-width="0.78" fill="none"/><rect x="533.59" y="282.23" width="4.10" height="4.10" stroke="#ff00ff" stroke-width="0.78" fill="none"/><rect x="540.34" y="282.23" width="4.10" height="4.10" stroke="#ff00ff" stroke-width="0.78" fill="none"/><rect x="547.09" y="282.23" width="4.10" height="4.10" stroke="#ff00ff" stroke-width="0.78" fill="none"/><rect x="553.85" y="282.23" width="4.10" height="4.10" stroke="#ff00ff" stroke-width="0.78" fill="none"/><rect x="560.60" y="282.23" width="4.10" height="4.10" stroke="#ff00ff" stroke-width="0.78" fill="none"/><rect x="567.35" y="282.23" width="4.10" height="4.10" stroke="#ff00ff" stroke-width="0.78" fill="none"/><rect x="574.10" y="282.23" width="4.10" height="4.10" stroke="#ff00ff" stroke-width="0.78" fill="none"/><rect x="580.85" y="282.23" width="4.10" height="4.10" stroke="#ff00ff" stroke-width="0.78" fill="none"/><rect x="587.61" y="282.23" width="4.10" height="4.10" stroke="#ff00ff" stroke-width="0.78" fill="none"/><rect x="594.36" y="282.23" width="4.10" height="4.10" stroke="#ff00ff" stroke-width="0.78" fill="none"/><rect x="601.11" y="282.23" width="4.10" height="4.10" stroke="#ff00ff" stroke-width="0.78" fill="none"/><rect x="607.86" y="282.23" width="4.10" height="4.10" stroke="#ff00ff" stroke-width="0.78" fill="none"/><rect x="614.61" y="282.23" width="4.10" height="4.10" stroke="#ff00ff" stroke-width="0.78" fill="none"/><rect x="621.37" y="282.23" width="4.10" height="4.10" stroke="#ff00ff" stroke-width="0.78" fill="none"/><rect x="628.12" y="282.23" width="4.10" height="4.10" stroke="#ff00ff" stroke-width="0.78" fill="none"/><rect x="634.87" y="282.23" width="4.10" height="4.10" stroke="#ff00ff" stroke-width="0.78" fill="none"/><rect x="641.62" y="282.23" width="4.10" height="4.10" stroke="#ff00ff" stroke-width="0.78" fill="none"/><rect x="648.37" y="282.23" width="4.10" height="4.10" stroke="#ff00ff" stroke-width="0.78" fill="none"/><rect x="655.13" y="282.23" width="4.10" height="4.10" stroke="#ff00ff" stroke-width="0.78" fill="none"/><rect x="661.88" y="282.23" width="4.10" height="4.10" stroke="#ff00ff" stroke-width="0.78" fill="none"/><rect x="668.63" y="282.23" width="4.10" height="4.10" stroke="#ff00ff" stroke-width="0.78" fill="none"/><path d="M407.35 238.04L414.10 245.99L420.86 251.42L427.61 255.50L434.36 258.86L441.11 263.13L447.86 265.72L454.62 268.17L461.37 270.57L468.12 272.44L474.87 273.41L481.62 275.03L488.38 276.45L495.13 277.49L501.88 278.13L508.63 279.10L515.38 279.94L522.14 280.72L528.89 281.57L535.64 282.42L542.39 283.01L549.14 283.26L555.90 283.69L562.65 284.11L569.40 284.11L576.15 284.11L582.90 284.11L589.66 284.11L596.41 284.11L603.16 284.11L609.91 284.11L616.66 284.11L623.42 284.11L630.17 284.11L636.92 284.11L643.67 284.11L650.42 284.11L657.18 284.11L663.93 284.11L670.68 284.11" stroke="#00ffff" stroke-width="0.62" fill="none" stroke-linejoin="round"/><rect x="405.20" y="235.89" width="4.30" height="4.30" fill="#00ffff"/><rect x="411.95" y="243.84" width="4.30" height="4.30" fill="#00ffff"/><rect x="418.71" y="249.27" width="4.30" height="4.30" fill="#00ffff"/><rect x="425.46" y="253.35" width="4.30" height="4.30" fill="#00ffff"/><rect x="432.21" y="256.71" width="4.30" height="4.30" fill="#00ffff"/><rect x="438.96" y="260.98" width="4.30" height="4.30" fill="#00ffff"/><rect x="445.71" y="263.57" width="4.30" height="4.30" fill="#00ffff"/><rect x="452.47" y="266.02" width="4.30" height="4.30" fill="#00ffff"/><rect x="459.22" y="268.42" width="4.30" height="4.30" fill="#00ffff"/><rect x="465.97" y="270.29" width="4.30" height="4.30" fill="#00ffff"/><rect x="472.72" y="271.26" width="4.30" height="4.30" fill="#00ffff"/><rect x="479.47" y="272.88" width="4.30" height="4.30" fill="#00ffff"/><rect x="486.23" y="274.30" width="4.30" height="4.30" fill="#00ffff"/><rect x="492.98" y="275.34" width="4.30" height="4.30" fill="#00ffff"/><rect x="499.73" y="275.98" width="4.30" height="4.30" fill="#00ffff"/><rect x="506.48" y="276.95" width="4.30" height="4.30" fill="#00ffff"/><rect x="513.23" y="277.79" width="4.30" height="4.30" fill="#00ffff"/><rect x="519.99" y="278.57" width="4.30" height="4.30" fill="#00ffff"/><rect x="526.74" y="279.42" width="4.30" height="4.30" fill="#00ffff"/><rect x="533.49" y="280.27" width="4.30" height="4.30" fill="#00ffff"/><rect x="540.24" y="280.86" width="4.30" height="4.30" fill="#00ffff"/><rect x="546.99" y="281.11" width="4.30" height="4.30" fill="#00ffff"/><rect x="553.75" y="281.54" width="4.30" height="4.30" fill="#00ffff"/><rect x="560.50" y="281.96" width="4.30" height="4.30" fill="#00ffff"/><rect x="567.25" y="281.96" width="4.30" height="4.30" fill="#00ffff"/><rect x="574.00" y="281.96" width="4.30" height="4.30" fill="#00ffff"/><rect x="580.75" y="281.96" width="4.30" height="4.30" fill="#00ffff"/><rect x="587.51" y="281.96" width="4.30" height="4.30" fill="#00ffff"/><rect x="594.26" y="281.96" width="4.30" height="4.30" fill="#00ffff"/><rect x="601.01" y="281.96" width="4.30" height="4.30" fill="#00ffff"/><rect x="607.76" y="281.96" width="4.30" height="4.30" fill="#00ffff"/><rect x="614.51" y="281.96" width="4.30" height="4.30" fill="#00ffff"/><rect x="621.27" y="281.96" width="4.30" height="4.30" fill="#00ffff"/><rect x="628.02" y="281.96" width="4.30" height="4.30" fill="#00ffff"/><rect x="634.77" y="281.96" width="4.30" height="4.30" fill="#00ffff"/><rect x="641.52" y="281.96" width="4.30" height="4.30" fill="#00ffff"/><rect x="648.27" y="281.96" width="4.30" height="4.30" fill="#00ffff"/><rect x="655.03" y="281.96" width="4.30" height="4.30" fill="#00ffff"/><rect x="661.78" y="281.96" width="4.30" height="4.30" fill="#00ffff"/><rect x="668.53" y="281.96" width="4.30" height="4.30" fill="#00ffff"/><path d="M407.35 234.16L414.10 242.37L420.86 248.38L427.61 252.72L434.36 255.69L441.11 260.03L447.86 262.42L454.62 265.00L461.37 267.46L468.12 268.89L474.87 270.57L481.62 271.67L488.38 273.41L495.13 274.58L501.88 275.29L508.63 276.71L515.38 277.87L522.14 278.59L528.89 279.30L535.64 280.59L542.39 281.78L549.14 282.26L555.90 282.83L562.65 283.31L569.40 283.31L576.15 283.70L582.90 284.08L589.66 284.08L596.41 284.08L603.16 284.08L609.91 284.08L616.66 284.08L623.42 284.08L630.17 284.08L636.92 284.08L643.67 284.08L650.42 284.08L657.18 284.08L663.93 284.08L670.68 284.08" stroke="#000000" stroke-width="0.62" fill="none" stroke-linejoin="round"/><circle cx="407.35" cy="234.16" r="2.55" fill="#000000"/><circle cx="414.10" cy="242.37" r="2.55" fill="#000000"/><circle cx="420.86" cy="248.38" r="2.55" fill="#000000"/><circle cx="427.61" cy="252.72" r="2.55" fill="#000000"/><circle cx="434.36" cy="255.69" r="2.55" fill="#000000"/><circle cx="441.11" cy="260.03" r="2.55" fill="#000000"/><circle cx="447.86" cy="262.42" r="2.55" fill="#000000"/><circle cx="454.62" cy="265.00" r="2.55" fill="#000000"/><circle cx="461.37" cy="267.46" r="2.55" fill="#000000"/><circle cx="468.12" cy="268.89" r="2.55" fill="#000000"/><circle cx="474.87" cy="270.57" r="2.55" fill="#000000"/><circle cx="481.62" cy="271.67" r="2.55" fill="#000000"/><circle cx="488.38" cy="273.41" r="2.55" fill="#000000"/><circle cx="495.13" cy="274.58" r="2.55" fill="#000000"/><circle cx="501.88" cy="275.29" r="2.55" fill="#000000"/><circle cx="508.63" cy="276.71" r="2.55" fill="#000000"/><circle cx="515.38" cy="277.87" r="2.55" fill="#000000"/><circle cx="522.14" cy="278.59" r="2.55" fill="#000000"/><circle cx="528.89" cy="279.30" r="2.55" fill="#000000"/><circle cx="535.64" cy="280.59" r="2.55" fill="#000000"/><circle cx="542.39" cy="281.78" r="2.55" fill="#000000"/><circle cx="549.14" cy="282.26" r="2.55" fill="#000000"/><circle cx="555.90" cy="282.83" r="2.55" fill="#000000"/><circle cx="562.65" cy="283.31" r="2.55" fill="#000000"/><circle cx="569.40" cy="283.31" r="2.55" fill="#000000"/><circle cx="576.15" cy="283.70" r="2.55" fill="#000000"/><circle cx="582.90" cy="284.08" r="2.55" fill="#000000"/><circle cx="589.66" cy="284.08" r="2.55" fill="#000000"/><circle cx="596.41" cy="284.08" r="2.55" fill="#000000"/><circle cx="603.16" cy="284.08" r="2.55" fill="#000000"/><circle cx="609.91" cy="284.08" r="2.55" fill="#000000"/><circle cx="616.66" cy="284.08" r="2.55" fill="#000000"/><circle cx="623.42" cy="284.08" r="2.55" fill="#000000"/><circle cx="630.17" cy="284.08" r="2.55" fill="#000000"/><circle cx="636.92" cy="284.08" r="2.55" fill="#000000"/><circle cx="643.67" cy="284.08" r="2.55" fill="#000000"/><circle cx="650.42" cy="284.08" r="2.55" fill="#000000"/><circle cx="657.18" cy="284.08" r="2.55" fill="#000000"/><circle cx="663.93" cy="284.08" r="2.55" fill="#000000"/><circle cx="670.68" cy="284.08" r="2.55" fill="#000000"/><path d="M407.35 230.15L414.10 238.81L420.86 244.83L427.61 249.29L434.36 252.72L441.11 256.79L447.86 258.86L454.62 261.71L461.37 264.29L468.12 265.72L474.87 267.46L481.62 268.56L488.38 270.37L495.13 271.28L501.88 272.31L508.63 273.86L515.38 274.77L522.14 276.00L528.89 276.84L535.64 277.87L542.39 278.46L549.14 279.30L555.90 279.94L562.65 280.72L569.40 281.43L576.15 282.14L582.90 282.49L589.66 282.85L596.41 283.11L603.16 283.38L609.91 283.65L616.66 283.65L623.42 283.65L630.17 283.65L636.92 283.65L643.67 283.65L650.42 283.65L657.18 283.65L663.93 283.65L670.68 283.65" stroke="#ff4d00" stroke-width="0.62" fill="none" stroke-linejoin="round"/><polygon points="407.35,227.50 404.99,231.33 409.71,231.33" stroke="#ff4d00" stroke-width="0.78" fill="none"/><polygon points="414.10,236.17 411.74,239.99 416.47,239.99" stroke="#ff4d00" stroke-width="0.78" fill="none"/><polygon points="420.86,242.18 418.49,246.01 423.22,246.01" stroke="#ff4d00" stroke-width="0.78" fill="none"/><polygon points="427.61,246.64 425.25,250.47 429.97,250.47" stroke="#ff4d00" stroke-width="0.78" fill="none"/><polygon points="434.36,250.07 432.00,253.90 436.72,253.90" stroke="#ff4d00" stroke-width="0.78" fill="none"/><polygon points="441.11,254.15 438.75,257.97 443.47,257.97" stroke="#ff4d00" stroke-width="0.78" fill="none"/><polygon points="447.86,256.22 445.50,260.04 450.23,260.04" stroke="#ff4d00" stroke-width="0.78" fill="none"/><polygon points="454.62,259.06 452.25,262.89 456.98,262.89" stroke="#ff4d00" stroke-width="0.78" fill="none"/><polygon points="461.37,261.65 459.01,265.47 463.73,265.47" stroke="#ff4d00" stroke-width="0.78" fill="none"/><polygon points="468.12,263.07 465.76,266.90 470.48,266.90" stroke="#ff4d00" stroke-width="0.78" fill="none"/><polygon points="474.87,264.82 472.51,268.64 477.23,268.64" stroke="#ff4d00" stroke-width="0.78" fill="none"/><polygon points="481.62,265.92 479.26,269.74 483.99,269.74" stroke="#ff4d00" stroke-width="0.78" fill="none"/><polygon points="488.38,267.73 486.01,271.55 490.74,271.55" stroke="#ff4d00" stroke-width="0.78" fill="none"/><polygon points="495.13,268.63 492.77,272.46 497.49,272.46" stroke="#ff4d00" stroke-width="0.78" fill="none"/><polygon points="501.88,269.67 499.52,273.49 504.24,273.49" stroke="#ff4d00" stroke-width="0.78" fill="none"/><polygon points="508.63,271.22 506.27,275.05 510.99,275.05" stroke="#ff4d00" stroke-width="0.78" fill="none"/><polygon points="515.38,272.12 513.02,275.95 517.75,275.95" stroke="#ff4d00" stroke-width="0.78" fill="none"/><polygon points="522.14,273.35 519.77,277.18 524.50,277.18" stroke="#ff4d00" stroke-width="0.78" fill="none"/><polygon points="528.89,274.19 526.53,278.02 531.25,278.02" stroke="#ff4d00" stroke-width="0.78" fill="none"/><polygon points="535.64,275.23 533.28,279.06 538.00,279.06" stroke="#ff4d00" stroke-width="0.78" fill="none"/><polygon points="542.39,275.81 540.03,279.64 544.75,279.64" stroke="#ff4d00" stroke-width="0.78" fill="none"/><polygon points="549.14,276.65 546.78,280.48 551.51,280.48" stroke="#ff4d00" stroke-width="0.78" fill="none"/><polygon points="555.90,277.30 553.53,281.13 558.26,281.13" stroke="#ff4d00" stroke-width="0.78" fill="none"/><polygon points="562.65,278.07 560.29,281.90 565.01,281.90" stroke="#ff4d00" stroke-width="0.78" fill="none"/><polygon points="569.40,278.78 567.04,282.61 571.76,282.61" stroke="#ff4d00" stroke-width="0.78" fill="none"/><polygon points="576.15,279.49 573.79,283.32 578.51,283.32" stroke="#ff4d00" stroke-width="0.78" fill="none"/><polygon points="582.90,279.85 580.54,283.67 585.27,283.67" stroke="#ff4d00" stroke-width="0.78" fill="none"/><polygon points="589.66,280.20 587.29,284.03 592.02,284.03" stroke="#ff4d00" stroke-width="0.78" fill="none"/><polygon points="596.41,280.47 594.05,284.30 598.77,284.30" stroke="#ff4d00" stroke-width="0.78" fill="none"/><polygon points="603.16,280.73 600.80,284.56 605.52,284.56" stroke="#ff4d00" stroke-width="0.78" fill="none"/><polygon points="609.91,281.00 607.55,284.83 612.27,284.83" stroke="#ff4d00" stroke-width="0.78" fill="none"/><polygon points="616.66,281.00 614.30,284.83 619.03,284.83" stroke="#ff4d00" stroke-width="0.78" fill="none"/><polygon points="623.42,281.00 621.05,284.83 625.78,284.83" stroke="#ff4d00" stroke-width="0.78" fill="none"/><polygon points="630.17,281.00 627.81,284.83 632.53,284.83" stroke="#ff4d00" stroke-width="0.78" fill="none"/><polygon points="636.92,281.00 634.56,284.83 639.28,284.83" stroke="#ff4d00" stroke-width="0.78" fill="none"/><polygon points="643.67,281.00 641.31,284.83 646.03,284.83" stroke="#ff4d00" stroke-width="0.78" fill="none"/><polygon points="650.42,281.00 648.06,284.83 652.79,284.83" stroke="#ff4d00" stroke-width="0.78" fill="none"/><polygon points="657.18,281.00 654.81,284.83 659.54,284.83" stroke="#ff4d00" stroke-width="0.78" fill="none"/><polygon points="663.93,281.00 661.57,284.83 666.29,284.83" stroke="#ff4d00" stroke-width="0.78" fill="none"/><polygon points="670.68,281.00 668.32,284.83 673.04,284.83" stroke="#ff4d00" stroke-width="0.78" fill="none"/><path d="M407.35 226.66L414.10 235.26L420.86 241.40L427.61 245.99L434.36 249.55L441.11 253.11L447.86 255.69L454.62 258.54L461.37 261.32L468.12 262.74L474.87 264.29L481.62 265.65L488.38 267.14L495.13 268.89L501.88 269.86L508.63 271.28L515.38 272.18L522.14 273.61L528.89 274.38L535.64 275.55L542.39 276.19L549.14 277.03L555.90 277.74L562.65 278.59L569.40 279.10L576.15 279.62L582.90 280.07L589.66 280.53L596.41 280.97L603.16 281.55L609.91 281.97L616.66 282.38L623.42 282.72L630.17 282.96L636.92 283.21L643.67 283.21L650.42 283.21L657.18 283.21L663.93 283.21L670.68 283.21" stroke="#808080" stroke-width="0.62" fill="none" stroke-linejoin="round"/><polygon points="407.35,224.01 404.99,227.84 409.71,227.84" fill="#808080"/><polygon points="414.10,232.61 411.74,236.44 416.47,236.44" fill="#808080"/><polygon points="420.86,238.75 418.49,242.58 423.22,242.58" fill="#808080"/><polygon points="427.61,243.35 425.25,247.17 429.97,247.17" fill="#808080"/><polygon points="434.36,246.90 432.00,250.73 436.72,250.73" fill="#808080"/><polygon points="441.11,250.46 438.75,254.29 443.47,254.29" fill="#808080"/><polygon points="447.86,253.05 445.50,256.87 450.23,256.87" fill="#808080"/><polygon points="454.62,255.89 452.25,259.72 456.98,259.72" fill="#808080"/><polygon points="461.37,258.67 459.01,262.50 463.73,262.50" fill="#808080"/><polygon points="468.12,260.10 465.76,263.92 470.48,263.92" fill="#808080"/><polygon points="474.87,261.65 472.51,265.47 477.23,265.47" fill="#808080"/><polygon points="481.62,263.01 479.26,266.83 483.99,266.83" fill="#808080"/><polygon points="488.38,264.49 486.01,268.32 490.74,268.32" fill="#808080"/><polygon points="495.13,266.24 492.77,270.07 497.49,270.07" fill="#808080"/><polygon points="501.88,267.21 499.52,271.04 504.24,271.04" fill="#808080"/><polygon points="508.63,268.63 506.27,272.46 510.99,272.46" fill="#808080"/><polygon points="515.38,269.54 513.02,273.36 517.75,273.36" fill="#808080"/><polygon points="522.14,270.96 519.77,274.79 524.50,274.79" fill="#808080"/><polygon points="528.89,271.74 526.53,275.56 531.25,275.56" fill="#808080"/><polygon points="535.64,272.90 533.28,276.73 538.00,276.73" fill="#808080"/><polygon points="542.39,273.55 540.03,277.37 544.75,277.37" fill="#808080"/><polygon points="549.14,274.39 546.78,278.21 551.51,278.21" fill="#808080"/><polygon points="555.90,275.10 553.53,278.93 558.26,278.93" fill="#808080"/><polygon points="562.65,275.94 560.29,279.77 565.01,279.77" fill="#808080"/><polygon points="569.40,276.46 567.04,280.28 571.76,280.28" fill="#808080"/><polygon points="576.15,276.97 573.79,280.80 578.51,280.80" fill="#808080"/><polygon points="582.90,277.43 580.54,281.25 585.27,281.25" fill="#808080"/><polygon points="589.66,277.88 587.29,281.71 592.02,281.71" fill="#808080"/><polygon points="596.41,278.32 594.05,282.15 598.77,282.15" fill="#808080"/><polygon points="603.16,278.91 600.80,282.73 605.52,282.73" fill="#808080"/><polygon points="609.91,279.32 607.55,283.15 612.27,283.15" fill="#808080"/><polygon points="616.66,279.74 614.30,283.56 619.03,283.56" fill="#808080"/><polygon points="623.42,280.07 621.05,283.90 625.78,283.90" fill="#808080"/><polygon points="630.17,280.32 627.81,284.15 632.53,284.15" fill="#808080"/><polygon points="636.92,280.57 634.56,284.40 639.28,284.40" fill="#808080"/><polygon points="643.67,280.57 641.31,284.40 646.03,284.40" fill="#808080"/><polygon points="650.42,280.57 648.06,284.40 652.79,284.40" fill="#808080"/><polygon points="657.18,280.57 654.81,284.40 659.54,284.40" fill="#808080"/><polygon points="663.93,280.57 661.57,284.40 666.29,284.40" fill="#808080"/><polygon points="670.68,280.57 668.32,284.40 673.04,284.40" fill="#808080"/><path d="M407.35 223.36L414.10 231.64L420.86 238.04L427.61 242.37L434.36 245.99L441.11 249.55L447.86 252.72L454.62 254.98L461.37 257.70L468.12 259.12L474.87 261.00L481.62 262.29L488.38 263.91L495.13 265.98L501.88 267.14L508.63 268.56L515.38 269.60L522.14 271.02L528.89 271.99L535.64 273.15L542.39 273.86L549.14 274.58L555.90 275.55L562.65 276.32L569.40 277.03L576.15 277.49L582.90 278.00L589.66 278.59L596.41 279.04L603.16 279.62L609.91 280.07L616.66 280.59L623.42 281.04L630.17 281.43L636.92 281.82L643.67 282.14L650.42 282.47L657.18 282.66L663.93 282.66L670.68 282.66" stroke="#ff0000" stroke-width="0.62" fill="none" stroke-linejoin="round"/><polygon points="407.35,226.00 404.99,222.18 409.71,222.18" stroke="#ff0000" stroke-width="0.78" fill="none"/><polygon points="414.10,234.28 411.74,230.45 416.47,230.45" stroke="#ff0000" stroke-width="0.78" fill="none"/><polygon points="420.86,240.68 418.49,236.86 423.22,236.86" stroke="#ff0000" stroke-width="0.78" fill="none"/><polygon points="427.61,245.02 425.25,241.19 429.97,241.19" stroke="#ff0000" stroke-width="0.78" fill="none"/><polygon points="434.36,248.64 432.00,244.81 436.72,244.81" stroke="#ff0000" stroke-width="0.78" fill="none"/><polygon points="441.11,252.19 438.75,248.37 443.47,248.37" stroke="#ff0000" stroke-width="0.78" fill="none"/><polygon points="447.86,255.36 445.50,251.54 450.23,251.54" stroke="#ff0000" stroke-width="0.78" fill="none"/><polygon points="454.62,257.63 452.25,253.80 456.98,253.80" stroke="#ff0000" stroke-width="0.78" fill="none"/><polygon points="461.37,260.34 459.01,256.52 463.73,256.52" stroke="#ff0000" stroke-width="0.78" fill="none"/><polygon points="468.12,261.77 465.76,257.94 470.48,257.94" stroke="#ff0000" stroke-width="0.78" fill="none"/><polygon points="474.87,263.64 472.51,259.81 477.23,259.81" stroke="#ff0000" stroke-width="0.78" fill="none"/><polygon points="481.62,264.93 479.26,261.11 483.99,261.11" stroke="#ff0000" stroke-width="0.78" fill="none"/><polygon points="488.38,266.55 486.01,262.72 490.74,262.72" stroke="#ff0000" stroke-width="0.78" fill="none"/><polygon points="495.13,268.62 492.77,264.79 497.49,264.79" stroke="#ff0000" stroke-width="0.78" fill="none"/><polygon points="501.88,269.79 499.52,265.96 504.24,265.96" stroke="#ff0000" stroke-width="0.78" fill="none"/><polygon points="508.63,271.21 506.27,267.38 510.99,267.38" stroke="#ff0000" stroke-width="0.78" fill="none"/><polygon points="515.38,272.24 513.02,268.42 517.75,268.42" stroke="#ff0000" stroke-width="0.78" fill="none"/><polygon points="522.14,273.67 519.77,269.84 524.50,269.84" stroke="#ff0000" stroke-width="0.78" fill="none"/><polygon points="528.89,274.64 526.53,270.81 531.25,270.81" stroke="#ff0000" stroke-width="0.78" fill="none"/><polygon points="535.64,275.80 533.28,271.97 538.00,271.97" stroke="#ff0000" stroke-width="0.78" fill="none"/><polygon points="542.39,276.51 540.03,272.68 544.75,272.68" stroke="#ff0000" stroke-width="0.78" fill="none"/><polygon points="549.14,277.22 546.78,273.39 551.51,273.39" stroke="#ff0000" stroke-width="0.78" fill="none"/><polygon points="555.90,278.19 553.53,274.36 558.26,274.36" stroke="#ff0000" stroke-width="0.78" fill="none"/><polygon points="562.65,278.97 560.29,275.14 565.01,275.14" stroke="#ff0000" stroke-width="0.78" fill="none"/><polygon points="569.40,279.68 567.04,275.85 571.76,275.85" stroke="#ff0000" stroke-width="0.78" fill="none"/><polygon points="576.15,280.13 573.79,276.31 578.51,276.31" stroke="#ff0000" stroke-width="0.78" fill="none"/><polygon points="582.90,280.65 580.54,276.82 585.27,276.82" stroke="#ff0000" stroke-width="0.78" fill="none"/><polygon points="589.66,281.23 587.29,277.40 592.02,277.40" stroke="#ff0000" stroke-width="0.78" fill="none"/><polygon points="596.41,281.68 594.05,277.86 598.77,277.86" stroke="#ff0000" stroke-width="0.78" fill="none"/><polygon points="603.16,282.27 600.80,278.44 605.52,278.44" stroke="#ff0000" stroke-width="0.78" fill="none"/><polygon points="609.91,282.72 607.55,278.89 612.27,278.89" stroke="#ff0000" stroke-width="0.78" fill="none"/><polygon points="616.66,283.24 614.30,279.41 619.03,279.41" stroke="#ff0000" stroke-width="0.78" fill="none"/><polygon points="623.42,283.69 621.05,279.86 625.78,279.86" stroke="#ff0000" stroke-width="0.78" fill="none"/><polygon points="630.17,284.08 627.81,280.25 632.53,280.25" stroke="#ff0000" stroke-width="0.78" fill="none"/><polygon points="636.92,284.47 634.56,280.64 639.28,280.64" stroke="#ff0000" stroke-width="0.78" fill="none"/><polygon points="643.67,284.79 641.31,280.96 646.03,280.96" stroke="#ff0000" stroke-width="0.78" fill="none"/><polygon points="650.42,285.11 648.06,281.28 652.79,281.28" stroke="#ff0000" stroke-width="0.78" fill="none"/><polygon points="657.18,285.31 654.81,281.48 659.54,281.48" stroke="#ff0000" stroke-width="0.78" fill="none"/><polygon points="663.93,285.31 661.57,281.48 666.29,281.48" stroke="#ff0000" stroke-width="0.78" fill="none"/><polygon points="670.68,285.31 668.32,281.48 673.04,281.48" stroke="#ff0000" stroke-width="0.78" fill="none"/><path d="M407.35 218.64L414.10 227.50L420.86 233.83L427.61 238.04L434.36 242.11L441.11 245.54L447.86 248.13L454.62 250.97L461.37 253.82L468.12 255.24L474.87 257.44L481.62 258.28L488.38 260.15L495.13 262.42L501.88 263.58L508.63 265.26L515.38 266.30L522.14 267.46L528.89 268.89L535.64 269.86L542.39 270.70L549.14 271.67L555.90 272.44L562.65 273.15L569.40 273.86L576.15 274.58L582.90 275.16L589.66 275.74L596.41 276.19L603.16 277.03L609.91 277.49L616.66 278.13L623.42 278.59L630.17 279.17L636.92 279.56L643.67 280.07L650.42 280.72L657.18 281.37L663.93 281.56L670.68 281.75" stroke="#00ff00" stroke-width="0.62" fill="none" stroke-linejoin="round"/><polygon points="407.35,221.28 404.99,217.46 409.71,217.46" fill="#00ff00"/><polygon points="414.10,230.14 411.74,226.32 416.47,226.32" fill="#00ff00"/><polygon points="420.86,236.48 418.49,232.65 423.22,232.65" fill="#00ff00"/><polygon points="427.61,240.68 425.25,236.86 429.97,236.86" fill="#00ff00"/><polygon points="434.36,244.76 432.00,240.93 436.72,240.93" fill="#00ff00"/><polygon points="441.11,248.19 438.75,244.36 443.47,244.36" fill="#00ff00"/><polygon points="447.86,250.77 445.50,246.94 450.23,246.94" fill="#00ff00"/><polygon points="454.62,253.62 452.25,249.79 456.98,249.79" fill="#00ff00"/><polygon points="461.37,256.46 459.01,252.64 463.73,252.64" fill="#00ff00"/><polygon points="468.12,257.89 465.76,254.06 470.48,254.06" fill="#00ff00"/><polygon points="474.87,260.08 472.51,256.26 477.23,256.26" fill="#00ff00"/><polygon points="481.62,260.93 479.26,257.10 483.99,257.10" fill="#00ff00"/><polygon points="488.38,262.80 486.01,258.97 490.74,258.97" fill="#00ff00"/><polygon points="495.13,265.06 492.77,261.24 497.49,261.24" fill="#00ff00"/><polygon points="501.88,266.23 499.52,262.40 504.24,262.40" fill="#00ff00"/><polygon points="508.63,267.91 506.27,264.08 510.99,264.08" fill="#00ff00"/><polygon points="515.38,268.94 513.02,265.12 517.75,265.12" fill="#00ff00"/><polygon points="522.14,270.11 519.77,266.28 524.50,266.28" fill="#00ff00"/><polygon points="528.89,271.53 526.53,267.70 531.25,267.70" fill="#00ff00"/><polygon points="535.64,272.50 533.28,268.67 538.00,268.67" fill="#00ff00"/><polygon points="542.39,273.34 540.03,269.51 544.75,269.51" fill="#00ff00"/><polygon points="549.14,274.31 546.78,270.48 551.51,270.48" fill="#00ff00"/><polygon points="555.90,275.09 553.53,271.26 558.26,271.26" fill="#00ff00"/><polygon points="562.65,275.80 560.29,271.97 565.01,271.97" fill="#00ff00"/><polygon points="569.40,276.51 567.04,272.68 571.76,272.68" fill="#00ff00"/><polygon points="576.15,277.22 573.79,273.39 578.51,273.39" fill="#00ff00"/><polygon points="582.90,277.80 580.54,273.98 585.27,273.98" fill="#00ff00"/><polygon points="589.66,278.39 587.29,274.56 592.02,274.56" fill="#00ff00"/><polygon points="596.41,278.84 594.05,275.01 598.77,275.01" fill="#00ff00"/><polygon points="603.16,279.68 600.80,275.85 605.52,275.85" fill="#00ff00"/><polygon points="609.91,280.13 607.55,276.31 612.27,276.31" fill="#00ff00"/><polygon points="616.66,280.78 614.30,276.95 619.03,276.95" fill="#00ff00"/><polygon points="623.42,281.23 621.05,277.40 625.78,277.40" fill="#00ff00"/><polygon points="630.17,281.81 627.81,277.99 632.53,277.99" fill="#00ff00"/><polygon points="636.92,282.20 634.56,278.37 639.28,278.37" fill="#00ff00"/><polygon points="643.67,282.72 641.31,278.89 646.03,278.89" fill="#00ff00"/><polygon points="650.42,283.37 648.06,279.54 652.79,279.54" fill="#00ff00"/><polygon points="657.18,284.01 654.81,280.19 659.54,280.19" fill="#00ff00"/><polygon points="663.93,284.21 661.57,280.38 666.29,280.38" fill="#00ff00"/><polygon points="670.68,284.40 668.32,280.57 673.04,280.57" fill="#00ff00"/><path d="M407.35 212.95L414.10 222.32L420.86 228.08L427.61 232.67L434.36 236.74L441.11 240.24L447.86 243.21L454.62 245.99L461.37 249.29L468.12 250.52L474.87 252.39L481.62 254.21L488.38 256.02L495.13 258.09L501.88 259.12L508.63 260.67L515.38 262.16L522.14 263.58L528.89 264.88L535.64 265.98L542.39 266.69L549.14 267.85L555.90 268.89L562.65 269.60L569.40 270.37L576.15 271.02L582.90 271.99L589.66 272.70L596.41 273.61L603.16 274.25L609.91 274.58L616.66 275.03L623.42 275.55L630.17 276.32L636.92 276.71L643.67 277.03L650.42 277.87L657.18 278.46L663.93 278.91L670.68 279.17" stroke="#0000ff" stroke-width="0.62" fill="none" stroke-linejoin="round"/><polygon points="407.35,210.55 409.75,212.95 407.35,215.35 404.95,212.95" stroke="#0000ff" stroke-width="0.78" fill="none"/><polygon points="414.10,219.92 416.50,222.32 414.10,224.72 411.70,222.32" stroke="#0000ff" stroke-width="0.78" fill="none"/><polygon points="420.86,225.68 423.26,228.08 420.86,230.48 418.46,228.08" stroke="#0000ff" stroke-width="0.78" fill="none"/><polygon points="427.61,230.27 430.01,232.67 427.61,235.07 425.21,232.67" stroke="#0000ff" stroke-width="0.78" fill="none"/><polygon points="434.36,234.34 436.76,236.74 434.36,239.14 431.96,236.74" stroke="#0000ff" stroke-width="0.78" fill="none"/><polygon points="441.11,237.84 443.51,240.24 441.11,242.64 438.71,240.24" stroke="#0000ff" stroke-width="0.78" fill="none"/><polygon points="447.86,240.81 450.26,243.21 447.86,245.61 445.46,243.21" stroke="#0000ff" stroke-width="0.78" fill="none"/><polygon points="454.62,243.59 457.02,245.99 454.62,248.39 452.22,245.99" stroke="#0000ff" stroke-width="0.78" fill="none"/><polygon points="461.37,246.89 463.77,249.29 461.37,251.69 458.97,249.29" stroke="#0000ff" stroke-width="0.78" fill="none"/><polygon points="468.12,248.12 470.52,250.52 468.12,252.92 465.72,250.52" stroke="#0000ff" stroke-width="0.78" fill="none"/><polygon points="474.87,249.99 477.27,252.39 474.87,254.79 472.47,252.39" stroke="#0000ff" stroke-width="0.78" fill="none"/><polygon points="481.62,251.81 484.02,254.21 481.62,256.61 479.22,254.21" stroke="#0000ff" stroke-width="0.78" fill="none"/><polygon points="488.38,253.62 490.78,256.02 488.38,258.42 485.98,256.02" stroke="#0000ff" stroke-width="0.78" fill="none"/><polygon points="495.13,255.69 497.53,258.09 495.13,260.49 492.73,258.09" stroke="#0000ff" stroke-width="0.78" fill="none"/><polygon points="501.88,256.72 504.28,259.12 501.88,261.52 499.48,259.12" stroke="#0000ff" stroke-width="0.78" fill="none"/><polygon points="508.63,258.27 511.03,260.67 508.63,263.07 506.23,260.67" stroke="#0000ff" stroke-width="0.78" fill="none"/><polygon points="515.38,259.76 517.78,262.16 515.38,264.56 512.98,262.16" stroke="#0000ff" stroke-width="0.78" fill="none"/><polygon points="522.14,261.18 524.54,263.58 522.14,265.98 519.74,263.58" stroke="#0000ff" stroke-width="0.78" fill="none"/><polygon points="528.89,262.48 531.29,264.88 528.89,267.28 526.49,264.88" stroke="#0000ff" stroke-width="0.78" fill="none"/><polygon points="535.64,263.58 538.04,265.98 535.64,268.38 533.24,265.98" stroke="#0000ff" stroke-width="0.78" fill="none"/><polygon points="542.39,264.29 544.79,266.69 542.39,269.09 539.99,266.69" stroke="#0000ff" stroke-width="0.78" fill="none"/><polygon points="549.14,265.45 551.54,267.85 549.14,270.25 546.74,267.85" stroke="#0000ff" stroke-width="0.78" fill="none"/><polygon points="555.90,266.49 558.30,268.89 555.90,271.29 553.50,268.89" stroke="#0000ff" stroke-width="0.78" fill="none"/><polygon points="562.65,267.20 565.05,269.60 562.65,272.00 560.25,269.60" stroke="#0000ff" stroke-width="0.78" fill="none"/><polygon points="569.40,267.97 571.80,270.37 569.40,272.77 567.00,270.37" stroke="#0000ff" stroke-width="0.78" fill="none"/><polygon points="576.15,268.62 578.55,271.02 576.15,273.42 573.75,271.02" stroke="#0000ff" stroke-width="0.78" fill="none"/><polygon points="582.90,269.59 585.30,271.99 582.90,274.39 580.50,271.99" stroke="#0000ff" stroke-width="0.78" fill="none"/><polygon points="589.66,270.30 592.06,272.70 589.66,275.10 587.26,272.70" stroke="#0000ff" stroke-width="0.78" fill="none"/><polygon points="596.41,271.21 598.81,273.61 596.41,276.01 594.01,273.61" stroke="#0000ff" stroke-width="0.78" fill="none"/><polygon points="603.16,271.85 605.56,274.25 603.16,276.65 600.76,274.25" stroke="#0000ff" stroke-width="0.78" fill="none"/><polygon points="609.91,272.18 612.31,274.58 609.91,276.98 607.51,274.58" stroke="#0000ff" stroke-width="0.78" fill="none"/><polygon points="616.66,272.63 619.06,275.03 616.66,277.43 614.26,275.03" stroke="#0000ff" stroke-width="0.78" fill="none"/><polygon points="623.42,273.15 625.82,275.55 623.42,277.95 621.02,275.55" stroke="#0000ff" stroke-width="0.78" fill="none"/><polygon points="630.17,273.92 632.57,276.32 630.17,278.72 627.77,276.32" stroke="#0000ff" stroke-width="0.78" fill="none"/><polygon points="636.92,274.31 639.32,276.71 636.92,279.11 634.52,276.71" stroke="#0000ff" stroke-width="0.78" fill="none"/><polygon points="643.67,274.63 646.07,277.03 643.67,279.43 641.27,277.03" stroke="#0000ff" stroke-width="0.78" fill="none"/><polygon points="650.42,275.47 652.82,277.87 650.42,280.27 648.02,277.87" stroke="#0000ff" stroke-width="0.78" fill="none"/><polygon points="657.18,276.06 659.58,278.46 657.18,280.86 654.78,278.46" stroke="#0000ff" stroke-width="0.78" fill="none"/><polygon points="663.93,276.51 666.33,278.91 663.93,281.31 661.53,278.91" stroke="#0000ff" stroke-width="0.78" fill="none"/><polygon points="670.68,276.77 673.08,279.17 670.68,281.57 668.28,279.17" stroke="#0000ff" stroke-width="0.78" fill="none"/><path d="M407.35 203.96L414.10 214.76L420.86 220.77L427.61 225.62L434.36 229.63L441.11 233.83L447.86 235.64L454.62 239.53L461.37 242.69L468.12 243.86L474.87 246.70L481.62 248.84L488.38 250.71L495.13 253.43L501.88 254.21L508.63 255.24L515.38 257.44L522.14 258.54L528.89 260.28L535.64 261.97L542.39 262.74L549.14 263.58L555.90 264.88L562.65 265.72L569.40 266.30L576.15 267.46L582.90 268.43L589.66 269.27L596.41 269.98L603.16 270.57L609.91 271.02L616.66 271.67L623.42 272.44L630.17 273.15L636.92 273.41L643.67 273.86L650.42 274.58L657.18 275.29L663.93 275.55L670.68 275.55" stroke="#ff00ff" stroke-width="0.62" fill="none" stroke-linejoin="round"/><polygon points="407.35,201.56 409.75,203.96 407.35,206.36 404.95,203.96" fill="#ff00ff"/><polygon points="414.10,212.36 416.50,214.76 414.10,217.16 411.70,214.76" fill="#ff00ff"/><polygon points="420.86,218.37 423.26,220.77 420.86,223.17 418.46,220.77" fill="#ff00ff"/><polygon points="427.61,223.22 430.01,225.62 427.61,228.02 425.21,225.62" fill="#ff00ff"/><polygon points="434.36,227.23 436.76,229.63 434.36,232.03 431.96,229.63" fill="#ff00ff"/><polygon points="441.11,231.43 443.51,233.83 441.11,236.23 438.71,233.83" fill="#ff00ff"/><polygon points="447.86,233.24 450.26,235.64 447.86,238.04 445.46,235.64" fill="#ff00ff"/><polygon points="454.62,237.13 457.02,239.53 454.62,241.93 452.22,239.53" fill="#ff00ff"/><polygon points="461.37,240.29 463.77,242.69 461.37,245.09 458.97,242.69" fill="#ff00ff"/><polygon points="468.12,241.46 470.52,243.86 468.12,246.26 465.72,243.86" fill="#ff00ff"/><polygon points="474.87,244.30 477.27,246.70 474.87,249.10 472.47,246.70" fill="#ff00ff"/><polygon points="481.62,246.44 484.02,248.84 481.62,251.24 479.22,248.84" fill="#ff00ff"/><polygon points="488.38,248.31 490.78,250.71 488.38,253.11 485.98,250.71" fill="#ff00ff"/><polygon points="495.13,251.03 497.53,253.43 495.13,255.83 492.73,253.43" fill="#ff00ff"/><polygon points="501.88,251.81 504.28,254.21 501.88,256.61 499.48,254.21" fill="#ff00ff"/><polygon points="508.63,252.84 511.03,255.24 508.63,257.64 506.23,255.24" fill="#ff00ff"/><polygon points="515.38,255.04 517.78,257.44 515.38,259.84 512.98,257.44" fill="#ff00ff"/><polygon points="522.14,256.14 524.54,258.54 522.14,260.94 519.74,258.54" fill="#ff00ff"/><polygon points="528.89,257.88 531.29,260.28 528.89,262.68 526.49,260.28" fill="#ff00ff"/><polygon points="535.64,259.57 538.04,261.97 535.64,264.37 533.24,261.97" fill="#ff00ff"/><polygon points="542.39,260.34 544.79,262.74 542.39,265.14 539.99,262.74" fill="#ff00ff"/><polygon points="549.14,261.18 551.54,263.58 549.14,265.98 546.74,263.58" fill="#ff00ff"/><polygon points="555.90,262.48 558.30,264.88 555.90,267.28 553.50,264.88" fill="#ff00ff"/><polygon points="562.65,263.32 565.05,265.72 562.65,268.12 560.25,265.72" fill="#ff00ff"/><polygon points="569.40,263.90 571.80,266.30 569.40,268.70 567.00,266.30" fill="#ff00ff"/><polygon points="576.15,265.06 578.55,267.46 576.15,269.86 573.75,267.46" fill="#ff00ff"/><polygon points="582.90,266.03 585.30,268.43 582.90,270.83 580.50,268.43" fill="#ff00ff"/><polygon points="589.66,266.87 592.06,269.27 589.66,271.67 587.26,269.27" fill="#ff00ff"/><polygon points="596.41,267.58 598.81,269.98 596.41,272.38 594.01,269.98" fill="#ff00ff"/><polygon points="603.16,268.17 605.56,270.57 603.16,272.97 600.76,270.57" fill="#ff00ff"/><polygon points="609.91,268.62 612.31,271.02 609.91,273.42 607.51,271.02" fill="#ff00ff"/><polygon points="616.66,269.27 619.06,271.67 616.66,274.07 614.26,271.67" fill="#ff00ff"/><polygon points="623.42,270.04 625.82,272.44 623.42,274.84 621.02,272.44" fill="#ff00ff"/><polygon points="630.17,270.75 632.57,273.15 630.17,275.55 627.77,273.15" fill="#ff00ff"/><polygon points="636.92,271.01 639.32,273.41 636.92,275.81 634.52,273.41" fill="#ff00ff"/><polygon points="643.67,271.46 646.07,273.86 643.67,276.26 641.27,273.86" fill="#ff00ff"/><polygon points="650.42,272.18 652.82,274.58 650.42,276.98 648.02,274.58" fill="#ff00ff"/><polygon points="657.18,272.89 659.58,275.29 657.18,277.69 654.78,275.29" fill="#ff00ff"/><polygon points="663.93,273.15 666.33,275.55 663.93,277.95 661.53,275.55" fill="#ff00ff"/><polygon points="670.68,273.15 673.08,275.55 670.68,277.95 668.28,275.55" fill="#ff00ff"/><path d="M407.35 177.89L414.10 194.71L420.86 196.78L427.61 205.38L434.36 213.98L441.11 218.64L447.86 218.96L454.62 226.14L461.37 230.02L468.12 229.50L474.87 235.26L481.62 238.68L488.38 240.62L495.13 243.41L501.88 244.83L508.63 247.09L515.38 247.80L522.14 250.52L528.89 252.01L535.64 253.82L542.39 254.98L549.14 256.79L555.90 258.09L562.65 259.12L569.40 260.28L576.15 262.16L582.90 263.13L589.66 264.16L596.41 265.00L603.16 265.72L609.91 266.69L616.66 267.46L623.42 268.17L630.17 268.89L636.92 269.60L643.67 269.98L650.42 270.70L657.18 271.28L663.93 271.67L670.68 271.99" stroke="#00ffff" stroke-width="0.62" fill="none" stroke-linejoin="round"/><polygon points="407.35,175.39 409.73,177.12 408.82,179.92 405.88,179.92 404.97,177.12" stroke="#00ffff" stroke-width="0.78" fill="none"/><polygon points="414.10,192.21 416.48,193.94 415.57,196.73 412.63,196.73 411.73,193.94" stroke="#00ffff" stroke-width="0.78" fill="none"/><polygon points="420.86,194.28 423.23,196.01 422.33,198.80 419.39,198.80 418.48,196.01" stroke="#00ffff" stroke-width="0.78" fill="none"/><polygon points="427.61,202.88 429.99,204.61 429.08,207.40 426.14,207.40 425.23,204.61" stroke="#00ffff" stroke-width="0.78" fill="none"/><polygon points="434.36,211.48 436.74,213.21 435.83,216.00 432.89,216.00 431.98,213.21" stroke="#00ffff" stroke-width="0.78" fill="none"/><polygon points="441.11,216.14 443.49,217.86 442.58,220.66 439.64,220.66 438.73,217.86" stroke="#00ffff" stroke-width="0.78" fill="none"/><polygon points="447.86,216.46 450.24,218.19 449.33,220.98 446.39,220.98 445.49,218.19" stroke="#00ffff" stroke-width="0.78" fill="none"/><polygon points="454.62,223.64 456.99,225.37 456.09,228.16 453.15,228.16 452.24,225.37" stroke="#00ffff" stroke-width="0.78" fill="none"/><polygon points="461.37,227.52 463.75,229.25 462.84,232.04 459.90,232.04 458.99,229.25" stroke="#00ffff" stroke-width="0.78" fill="none"/><polygon points="468.12,227.00 470.50,228.73 469.59,231.52 466.65,231.52 465.74,228.73" stroke="#00ffff" stroke-width="0.78" fill="none"/><polygon points="474.87,232.76 477.25,234.48 476.34,237.28 473.40,237.28 472.49,234.48" stroke="#00ffff" stroke-width="0.78" fill="none"/><polygon points="481.62,236.18 484.00,237.91 483.09,240.71 480.15,240.71 479.25,237.91" stroke="#00ffff" stroke-width="0.78" fill="none"/><polygon points="488.38,238.12 490.75,239.85 489.85,242.65 486.91,242.65 486.00,239.85" stroke="#00ffff" stroke-width="0.78" fill="none"/><polygon points="495.13,240.91 497.51,242.63 496.60,245.43 493.66,245.43 492.75,242.63" stroke="#00ffff" stroke-width="0.78" fill="none"/><polygon points="501.88,242.33 504.26,244.06 503.35,246.85 500.41,246.85 499.50,244.06" stroke="#00ffff" stroke-width="0.78" fill="none"/><polygon points="508.63,244.59 511.01,246.32 510.10,249.11 507.16,249.11 506.25,246.32" stroke="#00ffff" stroke-width="0.78" fill="none"/><polygon points="515.38,245.30 517.76,247.03 516.85,249.83 513.91,249.83 513.01,247.03" stroke="#00ffff" stroke-width="0.78" fill="none"/><polygon points="522.14,248.02 524.51,249.75 523.61,252.54 520.67,252.54 519.76,249.75" stroke="#00ffff" stroke-width="0.78" fill="none"/><polygon points="528.89,249.51 531.27,251.23 530.36,254.03 527.42,254.03 526.51,251.23" stroke="#00ffff" stroke-width="0.78" fill="none"/><polygon points="535.64,251.32 538.02,253.04 537.11,255.84 534.17,255.84 533.26,253.04" stroke="#00ffff" stroke-width="0.78" fill="none"/><polygon points="542.39,252.48 544.77,254.21 543.86,257.00 540.92,257.00 540.01,254.21" stroke="#00ffff" stroke-width="0.78" fill="none"/><polygon points="549.14,254.29 551.52,256.02 550.61,258.81 547.67,258.81 546.77,256.02" stroke="#00ffff" stroke-width="0.78" fill="none"/><polygon points="555.90,255.59 558.27,257.31 557.37,260.11 554.43,260.11 553.52,257.31" stroke="#00ffff" stroke-width="0.78" fill="none"/><polygon points="562.65,256.62 565.03,258.35 564.12,261.14 561.18,261.14 560.27,258.35" stroke="#00ffff" stroke-width="0.78" fill="none"/><polygon points="569.40,257.78 571.78,259.51 570.87,262.31 567.93,262.31 567.02,259.51" stroke="#00ffff" stroke-width="0.78" fill="none"/><polygon points="576.15,259.66 578.53,261.39 577.62,264.18 574.68,264.18 573.77,261.39" stroke="#00ffff" stroke-width="0.78" fill="none"/><polygon points="582.90,260.63 585.28,262.36 584.37,265.15 581.43,265.15 580.53,262.36" stroke="#00ffff" stroke-width="0.78" fill="none"/><polygon points="589.66,261.66 592.03,263.39 591.13,266.19 588.19,266.19 587.28,263.39" stroke="#00ffff" stroke-width="0.78" fill="none"/><polygon points="596.41,262.50 598.79,264.23 597.88,267.03 594.94,267.03 594.03,264.23" stroke="#00ffff" stroke-width="0.78" fill="none"/><polygon points="603.16,263.22 605.54,264.94 604.63,267.74 601.69,267.74 600.78,264.94" stroke="#00ffff" stroke-width="0.78" fill="none"/><polygon points="609.91,264.19 612.29,265.91 611.38,268.71 608.44,268.71 607.53,265.91" stroke="#00ffff" stroke-width="0.78" fill="none"/><polygon points="616.66,264.96 619.04,266.69 618.13,269.48 615.19,269.48 614.29,266.69" stroke="#00ffff" stroke-width="0.78" fill="none"/><polygon points="623.42,265.67 625.79,267.40 624.89,270.20 621.95,270.20 621.04,267.40" stroke="#00ffff" stroke-width="0.78" fill="none"/><polygon points="630.17,266.39 632.55,268.11 631.64,270.91 628.70,270.91 627.79,268.11" stroke="#00ffff" stroke-width="0.78" fill="none"/><polygon points="636.92,267.10 639.30,268.82 638.39,271.62 635.45,271.62 634.54,268.82" stroke="#00ffff" stroke-width="0.78" fill="none"/><polygon points="643.67,267.48 646.05,269.21 645.14,272.01 642.20,272.01 641.29,269.21" stroke="#00ffff" stroke-width="0.78" fill="none"/><polygon points="650.42,268.20 652.80,269.92 651.89,272.72 648.95,272.72 648.05,269.92" stroke="#00ffff" stroke-width="0.78" fill="none"/><polygon points="657.18,268.78 659.55,270.51 658.65,273.30 655.71,273.30 654.80,270.51" stroke="#00ffff" stroke-width="0.78" fill="none"/><polygon points="663.93,269.17 666.31,270.89 665.40,273.69 662.46,273.69 661.55,270.89" stroke="#00ffff" stroke-width="0.78" fill="none"/><polygon points="670.68,269.49 673.06,271.22 672.15,274.01 669.21,274.01 668.30,271.22" stroke="#00ffff" stroke-width="0.78" fill="none"/><path d="M542.39 192.12L549.14 222.19L555.90 223.81L562.65 230.47L569.40 239.33L576.15 244.25L582.90 247.80L589.66 248.38L596.41 250.97L603.16 253.56L609.91 255.24L616.66 258.41L623.42 258.41L630.17 262.16L636.92 262.42L643.67 263.13L650.42 264.29L657.18 266.30L663.93 266.30L670.68 266.30" stroke="#000000" stroke-width="0.62" fill="none" stroke-linejoin="round"/><circle cx="542.39" cy="192.12" r="2.29" stroke="#000000" stroke-width="1.05" fill="none"/><path d="M542.39 192.12V189.83" stroke="#000000" stroke-width="0.7"/><circle cx="549.14" cy="222.19" r="2.29" stroke="#000000" stroke-width="1.05" fill="none"/><path d="M549.14 222.19V219.90" stroke="#000000" stroke-width="0.7"/><circle cx="555.90" cy="223.81" r="2.29" stroke="#000000" stroke-width="1.05" fill="none"/><path d="M555.90 223.81V221.52" stroke="#000000" stroke-width="0.7"/><circle cx="562.65" cy="230.47" r="2.29" stroke="#000000" stroke-width="1.05" fill="none"/><path d="M562.65 230.47V228.18" stroke="#000000" stroke-width="0.7"/><circle cx="569.40" cy="239.33" r="2.29" stroke="#000000" stroke-width="1.05" fill="none"/><path d="M569.40 239.33V237.04" stroke="#000000" stroke-width="0.7"/><circle cx="576.15" cy="244.25" r="2.29" stroke="#000000" stroke-width="1.05" fill="none"/><path d="M576.15 244.25V241.95" stroke="#000000" stroke-width="0.7"/><circle cx="582.90" cy="247.80" r="2.29" stroke="#000000" stroke-width="1.05" fill="none"/><path d="M582.90 247.80V245.51" stroke="#000000" stroke-width="0.7"/><circle cx="589.66" cy="248.38" r="2.29" stroke="#000000" stroke-width="1.05" fill="none"/><path d="M589.66 248.38V246.09" stroke="#000000" stroke-width="0.7"/><circle cx="596.41" cy="250.97" r="2.29" stroke="#000000" stroke-width="1.05" fill="none"/><path d="M596.41 250.97V248.68" stroke="#000000" stroke-width="0.7"/><circle cx="603.16" cy="253.56" r="2.29" stroke="#000000" stroke-width="1.05" fill="none"/><path d="M603.16 253.56V251.26" stroke="#000000" stroke-width="0.7"/><circle cx="609.91" cy="255.24" r="2.29" stroke="#000000" stroke-width="1.05" fill="none"/><path d="M609.91 255.24V252.94" stroke="#000000" stroke-width="0.7"/><circle cx="616.66" cy="258.41" r="2.29" stroke="#000000" stroke-width="1.05" fill="none"/><path d="M616.66 258.41V256.11" stroke="#000000" stroke-width="0.7"/><circle cx="623.42" cy="258.41" r="2.29" stroke="#000000" stroke-width="1.05" fill="none"/><path d="M623.42 258.41V256.11" stroke="#000000" stroke-width="0.7"/><circle cx="630.17" cy="262.16" r="2.29" stroke="#000000" stroke-width="1.05" fill="none"/><path d="M630.17 262.16V259.86" stroke="#000000" stroke-width="0.7"/><circle cx="636.92" cy="262.42" r="2.29" stroke="#000000" stroke-width="1.05" fill="none"/><path d="M636.92 262.42V260.12" stroke="#000000" stroke-width="0.7"/><circle cx="643.67" cy="263.13" r="2.29" stroke="#000000" stroke-width="1.05" fill="none"/><path d="M643.67 263.13V260.83" stroke="#000000" stroke-width="0.7"/><circle cx="650.42" cy="264.29" r="2.29" stroke="#000000" stroke-width="1.05" fill="none"/><path d="M650.42 264.29V262.00" stroke="#000000" stroke-width="0.7"/><circle cx="657.18" cy="266.30" r="2.29" stroke="#000000" stroke-width="1.05" fill="none"/><path d="M657.18 266.30V264.00" stroke="#000000" stroke-width="0.7"/><circle cx="663.93" cy="266.30" r="2.29" stroke="#000000" stroke-width="1.05" fill="none"/><path d="M663.93 266.30V264.00" stroke="#000000" stroke-width="0.7"/><circle cx="670.68" cy="266.30" r="2.29" stroke="#000000" stroke-width="1.05" fill="none"/><path d="M670.68 266.30V264.00" stroke="#000000" stroke-width="0.7"/></g><g><path d="M225.40 459.80v-4.6M225.40 343.11v4.6M259.15 459.80v-4.6M259.15 343.11v4.6M292.90 459.80v-4.6M292.90 343.11v4.6M326.65 459.80v-4.6M326.65 343.11v4.6M360.40 459.80v-4.6M360.40 343.11v4.6M394.15 459.80v-4.6M394.15 343.11v4.6M427.90 459.80v-4.6M427.90 343.11v4.6M461.65 459.80v-4.6M461.65 343.11v4.6M495.40 459.80v-4.6M495.40 343.11v4.6M219.05 459.80h4.6M508.75 459.80h-4.6M219.05 446.83h4.6M508.75 446.83h-4.6M219.05 433.87h4.6M508.75 433.87h-4.6M219.05 420.90h4.6M508.75 420.90h-4.6M219.05 407.94h4.6M508.75 407.94h-4.6M219.05 394.97h4.6M508.75 394.97h-4.6M219.05 382.00h4.6M508.75 382.00h-4.6M219.05 369.04h4.6M508.75 369.04h-4.6M219.05 356.07h4.6M508.75 356.07h-4.6M219.05 343.11h4.6M508.75 343.11h-4.6" stroke="#000" stroke-width="0.85" fill="none"/><rect x="219.05" y="343.11" width="289.70" height="116.69" fill="none" stroke="#000" stroke-width="1.05"/><text transform="translate(226.80 473.50) rotate(0.05)" font-size="9.6" text-anchor="middle">0</text><text transform="translate(260.55 473.50) rotate(0.05)" font-size="9.6" text-anchor="middle">0.05</text><text transform="translate(294.30 473.50) rotate(0.05)" font-size="9.6" text-anchor="middle">0.1</text><text transform="translate(328.05 473.50) rotate(0.05)" font-size="9.6" text-anchor="middle">0.15</text><text transform="translate(361.80 473.50) rotate(0.05)" font-size="9.6" text-anchor="middle">0.2</text><text transform="translate(395.55 473.50) rotate(0.05)" font-size="9.6" text-anchor="middle">0.25</text><text transform="translate(429.30 473.50) rotate(0.05)" font-size="9.6" text-anchor="middle">0.3</text><text transform="translate(463.05 473.50) rotate(0.05)" font-size="9.6" text-anchor="middle">0.35</text><text transform="translate(496.80 473.50) rotate(0.05)" font-size="9.6" text-anchor="middle">0.4</text><text transform="translate(213.25 463.25) rotate(0.05)" font-size="9.6" text-anchor="end">0</text><text transform="translate(213.25 450.28) rotate(0.05)" font-size="9.6" text-anchor="end">2</text><text transform="translate(213.25 437.32) rotate(0.05)" font-size="9.6" text-anchor="end">4</text><text transform="translate(213.25 424.35) rotate(0.05)" font-size="9.6" text-anchor="end">6</text><text transform="translate(213.25 411.39) rotate(0.05)" font-size="9.6" text-anchor="end">8</text><text transform="translate(213.25 398.42) rotate(0.05)" font-size="9.6" text-anchor="end">10</text><text transform="translate(213.25 385.45) rotate(0.05)" font-size="9.6" text-anchor="end">12</text><text transform="translate(213.25 372.49) rotate(0.05)" font-size="9.6" text-anchor="end">14</text><text transform="translate(213.25 359.52) rotate(0.05)" font-size="9.6" text-anchor="end">16</text><text transform="translate(213.25 346.56) rotate(0.05)" font-size="9.6" text-anchor="end">18</text><text transform="translate(363.40 487.70) rotate(0.05)" font-size="9.7" text-anchor="middle">Proportion of peers initially subverted</text><text transform="translate(188.65 401.55) rotate(-89.95)" font-size="9.7" text-anchor="middle">Time to foothold ratio (years)</text><text transform="translate(364.00 332.41) rotate(0.05)" font-size="9.7" text-anchor="middle">Churn Factor 2%</text><path d="M232.15 434.91L238.90 441.78L245.65 445.34L252.40 448.20L259.15 452.15L265.90 454.16L272.65 455.65L279.40 456.93L286.15 457.95L292.90 458.72L299.65 459.31L306.40 459.80L313.15 459.80L319.90 459.61L326.65 459.68L333.40 459.73L340.15 459.80L346.90 459.80L353.65 459.80L360.40 459.80L367.15 459.80L373.90 459.80L380.65 459.80L387.40 459.80L394.15 459.80L400.90 459.80L407.65 459.80L414.40 459.80L421.15 459.80L427.90 459.80L434.65 459.80L441.40 459.80L448.15 459.80L454.90 459.80L461.65 459.80L468.40 459.80L475.15 459.80L481.90 459.80L488.65 459.80L495.40 459.80" stroke="#ff0000" stroke-width="0.62" fill="none" stroke-linejoin="round"/><path d="M229.90 434.91H234.40M232.15 432.66V437.16" stroke="#ff0000" stroke-width="0.62" fill="none"/><path d="M236.65 441.78H241.15M238.90 439.53V444.03" stroke="#ff0000" stroke-width="0.62" fill="none"/><path d="M243.40 445.34H247.90M245.65 443.09V447.59" stroke="#ff0000" stroke-width="0.62" fill="none"/><path d="M250.15 448.20H254.65M252.40 445.95V450.45" stroke="#ff0000" stroke-width="0.62" fill="none"/><path d="M256.90 452.15H261.40M259.15 449.90V454.40" stroke="#ff0000" stroke-width="0.62" fill="none"/><path d="M263.65 454.16H268.15M265.90 451.91V456.41" stroke="#ff0000" stroke-width="0.62" fill="none"/><path d="M270.40 455.65H274.90M272.65 453.40V457.90" stroke="#ff0000" stroke-width="0.62" fill="none"/><path d="M277.15 456.93H281.65M279.40 454.68V459.18" stroke="#ff0000" stroke-width="0.62" fill="none"/><path d="M283.90 457.95H288.40M286.15 455.70V460.20" stroke="#ff0000" stroke-width="0.62" fill="none"/><path d="M290.65 458.72H295.15M292.90 456.47V460.97" stroke="#ff0000" stroke-width="0.62" fill="none"/><path d="M297.40 459.31H301.90M299.65 457.06V461.56" stroke="#ff0000" stroke-width="0.62" fill="none"/><path d="M304.15 459.80H308.65M306.40 457.55V462.05" stroke="#ff0000" stroke-width="0.62" fill="none"/><path d="M310.90 459.80H315.40M313.15 457.55V462.05" stroke="#ff0000" stroke-width="0.62" fill="none"/><path d="M317.65 459.61H322.15M319.90 457.36V461.86" stroke="#ff0000" stroke-width="0.62" fill="none"/><path d="M324.40 459.68H328.90M326.65 457.43V461.93" stroke="#ff0000" stroke-width="0.62" fill="none"/><path d="M331.15 459.73H335.65M333.40 457.48V461.98" stroke="#ff0000" stroke-width="0.62" fill="none"/><path d="M337.90 459.80H342.40M340.15 457.55V462.05" stroke="#ff0000" stroke-width="0.62" fill="none"/><path d="M344.65 459.80H349.15M346.90 457.55V462.05" stroke="#ff0000" stroke-width="0.62" fill="none"/><path d="M351.40 459.80H355.90M353.65 457.55V462.05" stroke="#ff0000" stroke-width="0.62" fill="none"/><path d="M358.15 459.80H362.65M360.40 457.55V462.05" stroke="#ff0000" stroke-width="0.62" fill="none"/><path d="M364.90 459.80H369.40M367.15 457.55V462.05" stroke="#ff0000" stroke-width="0.62" fill="none"/><path d="M371.65 459.80H376.15M373.90 457.55V462.05" stroke="#ff0000" stroke-width="0.62" fill="none"/><path d="M378.40 459.80H382.90M380.65 457.55V462.05" stroke="#ff0000" stroke-width="0.62" fill="none"/><path d="M385.15 459.80H389.65M387.40 457.55V462.05" stroke="#ff0000" stroke-width="0.62" fill="none"/><path d="M391.90 459.80H396.40M394.15 457.55V462.05" stroke="#ff0000" stroke-width="0.62" fill="none"/><path d="M398.65 459.80H403.15M400.90 457.55V462.05" stroke="#ff0000" stroke-width="0.62" fill="none"/><path d="M405.40 459.80H409.90M407.65 457.55V462.05" stroke="#ff0000" stroke-width="0.62" fill="none"/><path d="M412.15 459.80H416.65M414.40 457.55V462.05" stroke="#ff0000" stroke-width="0.62" fill="none"/><path d="M418.90 459.80H423.40M421.15 457.55V462.05" stroke="#ff0000" stroke-width="0.62" fill="none"/><path d="M425.65 459.80H430.15M427.90 457.55V462.05" stroke="#ff0000" stroke-width="0.62" fill="none"/><path d="M432.40 459.80H436.90M434.65 457.55V462.05" stroke="#ff0000" stroke-width="0.62" fill="none"/><path d="M439.15 459.80H443.65M441.40 457.55V462.05" stroke="#ff0000" stroke-width="0.62" fill="none"/><path d="M445.90 459.80H450.40M448.15 457.55V462.05" stroke="#ff0000" stroke-width="0.62" fill="none"/><path d="M452.65 459.80H457.15M454.90 457.55V462.05" stroke="#ff0000" stroke-width="0.62" fill="none"/><path d="M459.40 459.80H463.90M461.65 457.55V462.05" stroke="#ff0000" stroke-width="0.62" fill="none"/><path d="M466.15 459.80H470.65M468.40 457.55V462.05" stroke="#ff0000" stroke-width="0.62" fill="none"/><path d="M472.90 459.80H477.40M475.15 457.55V462.05" stroke="#ff0000" stroke-width="0.62" fill="none"/><path d="M479.65 459.80H484.15M481.90 457.55V462.05" stroke="#ff0000" stroke-width="0.62" fill="none"/><path d="M486.40 459.80H490.90M488.65 457.55V462.05" stroke="#ff0000" stroke-width="0.62" fill="none"/><path d="M493.15 459.80H497.65M495.40 457.55V462.05" stroke="#ff0000" stroke-width="0.62" fill="none"/><path d="M232.15 431.34L238.90 438.94L245.65 443.46L252.40 446.17L259.15 449.43L265.90 451.42L272.65 453.21L279.40 454.42L286.15 456.57L292.90 456.76L299.65 457.36L306.40 457.74L313.15 457.95L319.90 458.25L326.65 458.60L333.40 458.84L340.15 458.99L346.90 459.29L353.65 459.47L360.40 459.80L367.15 459.80L373.90 459.80L380.65 459.80L387.40 459.80L394.15 459.80L400.90 459.80L407.65 459.80L414.40 459.80L421.15 459.80L427.90 459.80L434.65 459.80L441.40 459.80L448.15 459.80L454.90 459.80L461.65 459.80L468.40 459.80L475.15 459.80L481.90 459.80L488.65 459.80L495.40 459.80" stroke="#00ff00" stroke-width="0.62" fill="none" stroke-linejoin="round"/><path d="M229.90 429.09L234.40 433.59M229.90 433.59L234.40 429.09" stroke="#00ff00" stroke-width="0.62" fill="none"/><path d="M236.65 436.69L241.15 441.19M236.65 441.19L241.15 436.69" stroke="#00ff00" stroke-width="0.62" fill="none"/><path d="M243.40 441.21L247.90 445.71M243.40 445.71L247.90 441.21" stroke="#00ff00" stroke-width="0.62" fill="none"/><path d="M250.15 443.92L254.65 448.42M250.15 448.42L254.65 443.92" stroke="#00ff00" stroke-width="0.62" fill="none"/><path d="M256.90 447.18L261.40 451.68M256.90 451.68L261.40 447.18" stroke="#00ff00" stroke-width="0.62" fill="none"/><path d="M263.65 449.17L268.15 453.67M263.65 453.67L268.15 449.17" stroke="#00ff00" stroke-width="0.62" fill="none"/><path d="M270.40 450.96L274.90 455.46M270.40 455.46L274.90 450.96" stroke="#00ff00" stroke-width="0.62" fill="none"/><path d="M277.15 452.17L281.65 456.67M277.15 456.67L281.65 452.17" stroke="#00ff00" stroke-width="0.62" fill="none"/><path d="M283.90 454.32L288.40 458.82M283.90 458.82L288.40 454.32" stroke="#00ff00" stroke-width="0.62" fill="none"/><path d="M290.65 454.51L295.15 459.01M290.65 459.01L295.15 454.51" stroke="#00ff00" stroke-width="0.62" fill="none"/><path d="M297.40 455.11L301.90 459.61M297.40 459.61L301.90 455.11" stroke="#00ff00" stroke-width="0.62" fill="none"/><path d="M304.15 455.49L308.65 459.99M304.15 459.99L308.65 455.49" stroke="#00ff00" stroke-width="0.62" fill="none"/><path d="M310.90 455.70L315.40 460.20M310.90 460.20L315.40 455.70" stroke="#00ff00" stroke-width="0.62" fill="none"/><path d="M317.65 456.00L322.15 460.50M317.65 460.50L322.15 456.00" stroke="#00ff00" stroke-width="0.62" fill="none"/><path d="M324.40 456.35L328.90 460.85M324.40 460.85L328.90 456.35" stroke="#00ff00" stroke-width="0.62" fill="none"/><path d="M331.15 456.59L335.65 461.09M331.15 461.09L335.65 456.59" stroke="#00ff00" stroke-width="0.62" fill="none"/><path d="M337.90 456.74L342.40 461.24M337.90 461.24L342.40 456.74" stroke="#00ff00" stroke-width="0.62" fill="none"/><path d="M344.65 457.04L349.15 461.54M344.65 461.54L349.15 457.04" stroke="#00ff00" stroke-width="0.62" fill="none"/><path d="M351.40 457.22L355.90 461.72M351.40 461.72L355.90 457.22" stroke="#00ff00" stroke-width="0.62" fill="none"/><path d="M358.15 457.55L362.65 462.05M358.15 462.05L362.65 457.55" stroke="#00ff00" stroke-width="0.62" fill="none"/><path d="M364.90 457.55L369.40 462.05M364.90 462.05L369.40 457.55" stroke="#00ff00" stroke-width="0.62" fill="none"/><path d="M371.65 457.55L376.15 462.05M371.65 462.05L376.15 457.55" stroke="#00ff00" stroke-width="0.62" fill="none"/><path d="M378.40 457.55L382.90 462.05M378.40 462.05L382.90 457.55" stroke="#00ff00" stroke-width="0.62" fill="none"/><path d="M385.15 457.55L389.65 462.05M385.15 462.05L389.65 457.55" stroke="#00ff00" stroke-width="0.62" fill="none"/><path d="M391.90 457.55L396.40 462.05M391.90 462.05L396.40 457.55" stroke="#00ff00" stroke-width="0.62" fill="none"/><path d="M398.65 457.55L403.15 462.05M398.65 462.05L403.15 457.55" stroke="#00ff00" stroke-width="0.62" fill="none"/><path d="M405.40 457.55L409.90 462.05M405.40 462.05L409.90 457.55" stroke="#00ff00" stroke-width="0.62" fill="none"/><path d="M412.15 457.55L416.65 462.05M412.15 462.05L416.65 457.55" stroke="#00ff00" stroke-width="0.62" fill="none"/><path d="M418.90 457.55L423.40 462.05M418.90 462.05L423.40 457.55" stroke="#00ff00" stroke-width="0.62" fill="none"/><path d="M425.65 457.55L430.15 462.05M425.65 462.05L430.15 457.55" stroke="#00ff00" stroke-width="0.62" fill="none"/><path d="M432.40 457.55L436.90 462.05M432.40 462.05L436.90 457.55" stroke="#00ff00" stroke-width="0.62" fill="none"/><path d="M439.15 457.55L443.65 462.05M439.15 462.05L443.65 457.55" stroke="#00ff00" stroke-width="0.62" fill="none"/><path d="M445.90 457.55L450.40 462.05M445.90 462.05L450.40 457.55" stroke="#00ff00" stroke-width="0.62" fill="none"/><path d="M452.65 457.55L457.15 462.05M452.65 462.05L457.15 457.55" stroke="#00ff00" stroke-width="0.62" fill="none"/><path d="M459.40 457.55L463.90 462.05M459.40 462.05L463.90 457.55" stroke="#00ff00" stroke-width="0.62" fill="none"/><path d="M466.15 457.55L470.65 462.05M466.15 462.05L470.65 457.55" stroke="#00ff00" stroke-width="0.62" fill="none"/><path d="M472.90 457.55L477.40 462.05M472.90 462.05L477.40 457.55" stroke="#00ff00" stroke-width="0.62" fill="none"/><path d="M479.65 457.55L484.15 462.05M479.65 462.05L484.15 457.55" stroke="#00ff00" stroke-width="0.62" fill="none"/><path d="M486.40 457.55L490.90 462.05M486.40 462.05L490.90 457.55" stroke="#00ff00" stroke-width="0.62" fill="none"/><path d="M493.15 457.55L497.65 462.05M493.15 462.05L497.65 457.55" stroke="#00ff00" stroke-width="0.62" fill="none"/><path d="M232.15 427.77L238.90 435.62L245.65 440.28L252.40 443.08L259.15 446.45L265.90 448.68L272.65 450.67L279.40 452.03L286.15 454.26L292.90 454.42L299.65 455.26L306.40 455.81L313.15 456.17L319.90 456.72L326.65 457.38L333.40 457.82L340.15 458.10L346.90 458.65L353.65 458.98L360.40 459.48L367.15 459.51L373.90 459.54L380.65 459.56L387.40 459.58L394.15 459.61L400.90 459.65L407.65 459.67L414.40 459.69L421.15 459.71L427.90 459.80L434.65 459.80L441.40 459.80L448.15 459.80L454.90 459.80L461.65 459.80L468.40 459.80L475.15 459.80L481.90 459.80L488.65 459.80L495.40 459.80" stroke="#0000ff" stroke-width="0.62" fill="none" stroke-linejoin="round"/><path d="M229.90 427.77H234.40M232.15 425.52V430.02" stroke="#0000ff" stroke-width="0.62" fill="none"/><path d="M229.90 425.52L234.40 430.02M229.90 430.02L234.40 425.52" stroke="#0000ff" stroke-width="0.62" fill="none"/><path d="M236.65 435.62H241.15M238.90 433.37V437.87" stroke="#0000ff" stroke-width="0.62" fill="none"/><path d="M236.65 433.37L241.15 437.87M236.65 437.87L241.15 433.37" stroke="#0000ff" stroke-width="0.62" fill="none"/><path d="M243.40 440.28H247.90M245.65 438.03V442.53" stroke="#0000ff" stroke-width="0.62" fill="none"/><path d="M243.40 438.03L247.90 442.53M243.40 442.53L247.90 438.03" stroke="#0000ff" stroke-width="0.62" fill="none"/><path d="M250.15 443.08H254.65M252.40 440.83V445.33" stroke="#0000ff" stroke-width="0.62" fill="none"/><path d="M250.15 440.83L254.65 445.33M250.15 445.33L254.65 440.83" stroke="#0000ff" stroke-width="0.62" fill="none"/><path d="M256.90 446.45H261.40M259.15 444.20V448.70" stroke="#0000ff" stroke-width="0.62" fill="none"/><path d="M256.90 444.20L261.40 448.70M256.90 448.70L261.40 444.20" stroke="#0000ff" stroke-width="0.62" fill="none"/><path d="M263.65 448.68H268.15M265.90 446.43V450.93" stroke="#0000ff" stroke-width="0.62" fill="none"/><path d="M263.65 446.43L268.15 450.93M263.65 450.93L268.15 446.43" stroke="#0000ff" stroke-width="0.62" fill="none"/><path d="M270.40 450.67H274.90M272.65 448.42V452.92" stroke="#0000ff" stroke-width="0.62" fill="none"/><path d="M270.40 448.42L274.90 452.92M270.40 452.92L274.90 448.42" stroke="#0000ff" stroke-width="0.62" fill="none"/><path d="M277.15 452.03H281.65M279.40 449.78V454.28" stroke="#0000ff" stroke-width="0.62" fill="none"/><path d="M277.15 449.78L281.65 454.28M277.15 454.28L281.65 449.78" stroke="#0000ff" stroke-width="0.62" fill="none"/><path d="M283.90 454.26H288.40M286.15 452.01V456.51" stroke="#0000ff" stroke-width="0.62" fill="none"/><path d="M283.90 452.01L288.40 456.51M283.90 456.51L288.40 452.01" stroke="#0000ff" stroke-width="0.62" fill="none"/><path d="M290.65 454.42H295.15M292.90 452.17V456.67" stroke="#0000ff" stroke-width="0.62" fill="none"/><path d="M290.65 452.17L295.15 456.67M290.65 456.67L295.15 452.17" stroke="#0000ff" stroke-width="0.62" fill="none"/><path d="M297.40 455.26H301.90M299.65 453.01V457.51" stroke="#0000ff" stroke-width="0.62" fill="none"/><path d="M297.40 453.01L301.90 457.51M297.40 457.51L301.90 453.01" stroke="#0000ff" stroke-width="0.62" fill="none"/><path d="M304.15 455.81H308.65M306.40 453.56V458.06" stroke="#0000ff" stroke-width="0.62" fill="none"/><path d="M304.15 453.56L308.65 458.06M304.15 458.06L308.65 453.56" stroke="#0000ff" stroke-width="0.62" fill="none"/><path d="M310.90 456.17H315.40M313.15 453.92V458.42" stroke="#0000ff" stroke-width="0.62" fill="none"/><path d="M310.90 453.92L315.40 458.42M310.90 458.42L315.40 453.92" stroke="#0000ff" stroke-width="0.62" fill="none"/><path d="M317.65 456.72H322.15M319.90 454.47V458.97" stroke="#0000ff" stroke-width="0.62" fill="none"/><path d="M317.65 454.47L322.15 458.97M317.65 458.97L322.15 454.47" stroke="#0000ff" stroke-width="0.62" fill="none"/><path d="M324.40 457.38H328.90M326.65 455.13V459.63" stroke="#0000ff" stroke-width="0.62" fill="none"/><path d="M324.40 455.13L328.90 459.63M324.40 459.63L328.90 455.13" stroke="#0000ff" stroke-width="0.62" fill="none"/><path d="M331.15 457.82H335.65M333.40 455.57V460.07" stroke="#0000ff" stroke-width="0.62" fill="none"/><path d="M331.15 455.57L335.65 460.07M331.15 460.07L335.65 455.57" stroke="#0000ff" stroke-width="0.62" fill="none"/><path d="M337.90 458.10H342.40M340.15 455.85V460.35" stroke="#0000ff" stroke-width="0.62" fill="none"/><path d="M337.90 455.85L342.40 460.35M337.90 460.35L342.40 455.85" stroke="#0000ff" stroke-width="0.62" fill="none"/><path d="M344.65 458.65H349.15M346.90 456.40V460.90" stroke="#0000ff" stroke-width="0.62" fill="none"/><path d="M344.65 456.40L349.15 460.90M344.65 460.90L349.15 456.40" stroke="#0000ff" stroke-width="0.62" fill="none"/><path d="M351.40 458.98H355.90M353.65 456.73V461.23" stroke="#0000ff" stroke-width="0.62" fill="none"/><path d="M351.40 456.73L355.90 461.23M351.40 461.23L355.90 456.73" stroke="#0000ff" stroke-width="0.62" fill="none"/><path d="M358.15 459.48H362.65M360.40 457.23V461.73" stroke="#0000ff" stroke-width="0.62" fill="none"/><path d="M358.15 457.23L362.65 461.73M358.15 461.73L362.65 457.23" stroke="#0000ff" stroke-width="0.62" fill="none"/><path d="M364.90 459.51H369.40M367.15 457.26V461.76" stroke="#0000ff" stroke-width="0.62" fill="none"/><path d="M364.90 457.26L369.40 461.76M364.90 461.76L369.40 457.26" stroke="#0000ff" stroke-width="0.62" fill="none"/><path d="M371.65 459.54H376.15M373.90 457.29V461.79" stroke="#0000ff" stroke-width="0.62" fill="none"/><path d="M371.65 457.29L376.15 461.79M371.65 461.79L376.15 457.29" stroke="#0000ff" stroke-width="0.62" fill="none"/><path d="M378.40 459.56H382.90M380.65 457.31V461.81" stroke="#0000ff" stroke-width="0.62" fill="none"/><path d="M378.40 457.31L382.90 461.81M378.40 461.81L382.90 457.31" stroke="#0000ff" stroke-width="0.62" fill="none"/><path d="M385.15 459.58H389.65M387.40 457.33V461.83" stroke="#0000ff" stroke-width="0.62" fill="none"/><path d="M385.15 457.33L389.65 461.83M385.15 461.83L389.65 457.33" stroke="#0000ff" stroke-width="0.62" fill="none"/><path d="M391.90 459.61H396.40M394.15 457.36V461.86" stroke="#0000ff" stroke-width="0.62" fill="none"/><path d="M391.90 457.36L396.40 461.86M391.90 461.86L396.40 457.36" stroke="#0000ff" stroke-width="0.62" fill="none"/><path d="M398.65 459.65H403.15M400.90 457.40V461.90" stroke="#0000ff" stroke-width="0.62" fill="none"/><path d="M398.65 457.40L403.15 461.90M398.65 461.90L403.15 457.40" stroke="#0000ff" stroke-width="0.62" fill="none"/><path d="M405.40 459.67H409.90M407.65 457.42V461.92" stroke="#0000ff" stroke-width="0.62" fill="none"/><path d="M405.40 457.42L409.90 461.92M405.40 461.92L409.90 457.42" stroke="#0000ff" stroke-width="0.62" fill="none"/><path d="M412.15 459.69H416.65M414.40 457.44V461.94" stroke="#0000ff" stroke-width="0.62" fill="none"/><path d="M412.15 457.44L416.65 461.94M412.15 461.94L416.65 457.44" stroke="#0000ff" stroke-width="0.62" fill="none"/><path d="M418.90 459.71H423.40M421.15 457.46V461.96" stroke="#0000ff" stroke-width="0.62" fill="none"/><path d="M418.90 457.46L423.40 461.96M418.90 461.96L423.40 457.46" stroke="#0000ff" stroke-width="0.62" fill="none"/><path d="M425.65 459.80H430.15M427.90 457.55V462.05" stroke="#0000ff" stroke-width="0.62" fill="none"/><path d="M425.65 457.55L430.15 462.05M425.65 462.05L430.15 457.55" stroke="#0000ff" stroke-width="0.62" fill="none"/><path d="M432.40 459.80H436.90M434.65 457.55V462.05" stroke="#0000ff" stroke-width="0.62" fill="none"/><path d="M432.40 457.55L436.90 462.05M432.40 462.05L436.90 457.55" stroke="#0000ff" stroke-width="0.62" fill="none"/><path d="M439.15 459.80H443.65M441.40 457.55V462.05" stroke="#0000ff" stroke-width="0.62" fill="none"/><path d="M439.15 457.55L443.65 462.05M439.15 462.05L443.65 457.55" stroke="#0000ff" stroke-width="0.62" fill="none"/><path d="M445.90 459.80H450.40M448.15 457.55V462.05" stroke="#0000ff" stroke-width="0.62" fill="none"/><path d="M445.90 457.55L450.40 462.05M445.90 462.05L450.40 457.55" stroke="#0000ff" stroke-width="0.62" fill="none"/><path d="M452.65 459.80H457.15M454.90 457.55V462.05" stroke="#0000ff" stroke-width="0.62" fill="none"/><path d="M452.65 457.55L457.15 462.05M452.65 462.05L457.15 457.55" stroke="#0000ff" stroke-width="0.62" fill="none"/><path d="M459.40 459.80H463.90M461.65 457.55V462.05" stroke="#0000ff" stroke-width="0.62" fill="none"/><path d="M459.40 457.55L463.90 462.05M459.40 462.05L463.90 457.55" stroke="#0000ff" stroke-width="0.62" fill="none"/><path d="M466.15 459.80H470.65M468.40 457.55V462.05" stroke="#0000ff" stroke-width="0.62" fill="none"/><path d="M466.15 457.55L470.65 462.05M466.15 462.05L470.65 457.55" stroke="#0000ff" stroke-width="0.62" fill="none"/><path d="M472.90 459.80H477.40M475.15 457.55V462.05" stroke="#0000ff" stroke-width="0.62" fill="none"/><path d="M472.90 457.55L477.40 462.05M472.90 462.05L477.40 457.55" stroke="#0000ff" stroke-width="0.62" fill="none"/><path d="M479.65 459.80H484.15M481.90 457.55V462.05" stroke="#0000ff" stroke-width="0.62" fill="none"/><path d="M479.65 457.55L484.15 462.05M479.65 462.05L484.15 457.55" stroke="#0000ff" stroke-width="0.62" fill="none"/><path d="M486.40 459.80H490.90M488.65 457.55V462.05" stroke="#0000ff" stroke-width="0.62" fill="none"/><path d="M486.40 457.55L490.90 462.05M486.40 462.05L490.90 457.55" stroke="#0000ff" stroke-width="0.62" fill="none"/><path d="M493.15 459.80H497.65M495.40 457.55V462.05" stroke="#0000ff" stroke-width="0.62" fill="none"/><path d="M493.15 457.55L497.65 462.05M493.15 462.05L497.65 457.55" stroke="#0000ff" stroke-width="0.62" fill="none"/><path d="M232.15 425.31L238.90 433.15L245.65 437.82L252.40 440.62L259.15 443.98L265.90 446.23L272.65 448.24L279.40 449.61L286.15 451.86L292.90 452.02L299.65 453.29L306.40 454.12L313.15 454.56L319.90 455.20L326.65 455.97L333.40 456.64L340.15 457.06L346.90 457.89L353.65 458.39L360.40 459.14L367.15 459.18L373.90 459.21L380.65 459.25L387.40 459.27L394.15 459.31L400.90 459.37L407.65 459.39L414.40 459.42L421.15 459.45L427.90 459.48L434.65 459.51L441.40 459.53L448.15 459.56L454.90 459.58L461.65 459.61L468.40 459.63L475.15 459.66L481.90 459.68L488.65 459.71L495.40 459.80" stroke="#ff00ff" stroke-width="0.62" fill="none" stroke-linejoin="round"/><rect x="230.10" y="423.26" width="4.10" height="4.10" stroke="#ff00ff" stroke-width="0.78" fill="none"/><rect x="236.85" y="431.10" width="4.10" height="4.10" stroke="#ff00ff" stroke-width="0.78" fill="none"/><rect x="243.60" y="435.77" width="4.10" height="4.10" stroke="#ff00ff" stroke-width="0.78" fill="none"/><rect x="250.35" y="438.57" width="4.10" height="4.10" stroke="#ff00ff" stroke-width="0.78" fill="none"/><rect x="257.10" y="441.93" width="4.10" height="4.10" stroke="#ff00ff" stroke-width="0.78" fill="none"/><rect x="263.85" y="444.18" width="4.10" height="4.10" stroke="#ff00ff" stroke-width="0.78" fill="none"/><rect x="270.60" y="446.19" width="4.10" height="4.10" stroke="#ff00ff" stroke-width="0.78" fill="none"/><rect x="277.35" y="447.56" width="4.10" height="4.10" stroke="#ff00ff" stroke-width="0.78" fill="none"/><rect x="284.10" y="449.81" width="4.10" height="4.10" stroke="#ff00ff" stroke-width="0.78" fill="none"/><rect x="290.85" y="449.97" width="4.10" height="4.10" stroke="#ff00ff" stroke-width="0.78" fill="none"/><rect x="297.60" y="451.24" width="4.10" height="4.10" stroke="#ff00ff" stroke-width="0.78" fill="none"/><rect x="304.35" y="452.07" width="4.10" height="4.10" stroke="#ff00ff" stroke-width="0.78" fill="none"/><rect x="311.10" y="452.51" width="4.10" height="4.10" stroke="#ff00ff" stroke-width="0.78" fill="none"/><rect x="317.85" y="453.15" width="4.10" height="4.10" stroke="#ff00ff" stroke-width="0.78" fill="none"/><rect x="324.60" y="453.92" width="4.10" height="4.10" stroke="#ff00ff" stroke-width="0.78" fill="none"/><rect x="331.35" y="454.59" width="4.10" height="4.10" stroke="#ff00ff" stroke-width="0.78" fill="none"/><rect x="338.10" y="455.01" width="4.10" height="4.10" stroke="#ff00ff" stroke-width="0.78" fill="none"/><rect x="344.85" y="455.84" width="4.10" height="4.10" stroke="#ff00ff" stroke-width="0.78" fill="none"/><rect x="351.60" y="456.34" width="4.10" height="4.10" stroke="#ff00ff" stroke-width="0.78" fill="none"/><rect x="358.35" y="457.09" width="4.10" height="4.10" stroke="#ff00ff" stroke-width="0.78" fill="none"/><rect x="365.10" y="457.13" width="4.10" height="4.10" stroke="#ff00ff" stroke-width="0.78" fill="none"/><rect x="371.85" y="457.16" width="4.10" height="4.10" stroke="#ff00ff" stroke-width="0.78" fill="none"/><rect x="378.60" y="457.20" width="4.10" height="4.10" stroke="#ff00ff" stroke-width="0.78" fill="none"/><rect x="385.35" y="457.22" width="4.10" height="4.10" stroke="#ff00ff" stroke-width="0.78" fill="none"/><rect x="392.10" y="457.26" width="4.10" height="4.10" stroke="#ff00ff" stroke-width="0.78" fill="none"/><rect x="398.85" y="457.32" width="4.10" height="4.10" stroke="#ff00ff" stroke-width="0.78" fill="none"/><rect x="405.60" y="457.34" width="4.10" height="4.10" stroke="#ff00ff" stroke-width="0.78" fill="none"/><rect x="412.35" y="457.37" width="4.10" height="4.10" stroke="#ff00ff" stroke-width="0.78" fill="none"/><rect x="419.10" y="457.40" width="4.10" height="4.10" stroke="#ff00ff" stroke-width="0.78" fill="none"/><rect x="425.85" y="457.43" width="4.10" height="4.10" stroke="#ff00ff" stroke-width="0.78" fill="none"/><rect x="432.60" y="457.46" width="4.10" height="4.10" stroke="#ff00ff" stroke-width="0.78" fill="none"/><rect x="439.35" y="457.48" width="4.10" height="4.10" stroke="#ff00ff" stroke-width="0.78" fill="none"/><rect x="446.10" y="457.51" width="4.10" height="4.10" stroke="#ff00ff" stroke-width="0.78" fill="none"/><rect x="452.85" y="457.53" width="4.10" height="4.10" stroke="#ff00ff" stroke-width="0.78" fill="none"/><rect x="459.60" y="457.56" width="4.10" height="4.10" stroke="#ff00ff" stroke-width="0.78" fill="none"/><rect x="466.35" y="457.58" width="4.10" height="4.10" stroke="#ff00ff" stroke-width="0.78" fill="none"/><rect x="473.10" y="457.61" width="4.10" height="4.10" stroke="#ff00ff" stroke-width="0.78" fill="none"/><rect x="479.85" y="457.63" width="4.10" height="4.10" stroke="#ff00ff" stroke-width="0.78" fill="none"/><rect x="486.60" y="457.66" width="4.10" height="4.10" stroke="#ff00ff" stroke-width="0.78" fill="none"/><rect x="493.35" y="457.75" width="4.10" height="4.10" stroke="#ff00ff" stroke-width="0.78" fill="none"/><path d="M232.15 422.72L238.90 430.40L245.65 434.97L252.40 437.71L259.15 441.00L265.90 443.36L272.65 445.47L279.40 446.90L286.15 449.26L292.90 449.43L299.65 451.07L306.40 452.14L313.15 452.72L319.90 453.54L326.65 454.53L333.40 455.19L340.15 455.60L346.90 456.59L353.65 457.23L360.40 458.21L367.15 458.35L373.90 458.45L380.65 458.56L387.40 458.62L394.15 458.76L400.90 458.95L407.65 459.01L414.40 459.12L421.15 459.22L427.90 459.31L434.65 459.33L441.40 459.34L448.15 459.37L454.90 459.38L461.65 459.40L468.40 459.41L475.15 459.43L481.90 459.45L488.65 459.46L495.40 459.48" stroke="#00ffff" stroke-width="0.62" fill="none" stroke-linejoin="round"/><rect x="230.00" y="420.57" width="4.30" height="4.30" fill="#00ffff"/><rect x="236.75" y="428.25" width="4.30" height="4.30" fill="#00ffff"/><rect x="243.50" y="432.82" width="4.30" height="4.30" fill="#00ffff"/><rect x="250.25" y="435.56" width="4.30" height="4.30" fill="#00ffff"/><rect x="257.00" y="438.85" width="4.30" height="4.30" fill="#00ffff"/><rect x="263.75" y="441.21" width="4.30" height="4.30" fill="#00ffff"/><rect x="270.50" y="443.32" width="4.30" height="4.30" fill="#00ffff"/><rect x="277.25" y="444.75" width="4.30" height="4.30" fill="#00ffff"/><rect x="284.00" y="447.11" width="4.30" height="4.30" fill="#00ffff"/><rect x="290.75" y="447.28" width="4.30" height="4.30" fill="#00ffff"/><rect x="297.50" y="448.92" width="4.30" height="4.30" fill="#00ffff"/><rect x="304.25" y="449.99" width="4.30" height="4.30" fill="#00ffff"/><rect x="311.00" y="450.57" width="4.30" height="4.30" fill="#00ffff"/><rect x="317.75" y="451.39" width="4.30" height="4.30" fill="#00ffff"/><rect x="324.50" y="452.38" width="4.30" height="4.30" fill="#00ffff"/><rect x="331.25" y="453.04" width="4.30" height="4.30" fill="#00ffff"/><rect x="338.00" y="453.45" width="4.30" height="4.30" fill="#00ffff"/><rect x="344.75" y="454.44" width="4.30" height="4.30" fill="#00ffff"/><rect x="351.50" y="455.08" width="4.30" height="4.30" fill="#00ffff"/><rect x="358.25" y="456.06" width="4.30" height="4.30" fill="#00ffff"/><rect x="365.00" y="456.20" width="4.30" height="4.30" fill="#00ffff"/><rect x="371.75" y="456.30" width="4.30" height="4.30" fill="#00ffff"/><rect x="378.50" y="456.41" width="4.30" height="4.30" fill="#00ffff"/><rect x="385.25" y="456.47" width="4.30" height="4.30" fill="#00ffff"/><rect x="392.00" y="456.61" width="4.30" height="4.30" fill="#00ffff"/><rect x="398.75" y="456.80" width="4.30" height="4.30" fill="#00ffff"/><rect x="405.50" y="456.86" width="4.30" height="4.30" fill="#00ffff"/><rect x="412.25" y="456.97" width="4.30" height="4.30" fill="#00ffff"/><rect x="419.00" y="457.07" width="4.30" height="4.30" fill="#00ffff"/><rect x="425.75" y="457.16" width="4.30" height="4.30" fill="#00ffff"/><rect x="432.50" y="457.18" width="4.30" height="4.30" fill="#00ffff"/><rect x="439.25" y="457.19" width="4.30" height="4.30" fill="#00ffff"/><rect x="446.00" y="457.22" width="4.30" height="4.30" fill="#00ffff"/><rect x="452.75" y="457.23" width="4.30" height="4.30" fill="#00ffff"/><rect x="459.50" y="457.25" width="4.30" height="4.30" fill="#00ffff"/><rect x="466.25" y="457.26" width="4.30" height="4.30" fill="#00ffff"/><rect x="473.00" y="457.28" width="4.30" height="4.30" fill="#00ffff"/><rect x="479.75" y="457.30" width="4.30" height="4.30" fill="#00ffff"/><rect x="486.50" y="457.31" width="4.30" height="4.30" fill="#00ffff"/><rect x="493.25" y="457.33" width="4.30" height="4.30" fill="#00ffff"/><path d="M232.15 419.99L238.90 427.77L245.65 432.44L252.40 435.03L259.15 437.82L265.90 440.48L272.65 442.62L279.40 444.50L286.15 446.64L292.90 446.90L299.65 448.65L306.40 449.75L313.15 450.21L319.90 451.63L326.65 452.67L333.40 453.38L340.15 453.77L346.90 454.81L353.65 455.52L360.40 456.23L367.15 456.95L373.90 457.66L380.65 457.86L387.40 456.96L394.15 457.21L400.90 457.54L407.65 457.64L414.40 457.85L421.15 458.02L427.90 458.18L434.65 458.22L441.40 458.24L448.15 458.29L454.90 458.31L461.65 458.35L468.40 458.37L475.15 458.41L481.90 458.44L488.65 458.47L495.40 458.50" stroke="#000000" stroke-width="0.62" fill="none" stroke-linejoin="round"/><circle cx="232.15" cy="419.99" r="2.55" fill="#000000"/><circle cx="238.90" cy="427.77" r="2.55" fill="#000000"/><circle cx="245.65" cy="432.44" r="2.55" fill="#000000"/><circle cx="252.40" cy="435.03" r="2.55" fill="#000000"/><circle cx="259.15" cy="437.82" r="2.55" fill="#000000"/><circle cx="265.90" cy="440.48" r="2.55" fill="#000000"/><circle cx="272.65" cy="442.62" r="2.55" fill="#000000"/><circle cx="279.40" cy="444.50" r="2.55" fill="#000000"/><circle cx="286.15" cy="446.64" r="2.55" fill="#000000"/><circle cx="292.90" cy="446.90" r="2.55" fill="#000000"/><circle cx="299.65" cy="448.65" r="2.55" fill="#000000"/><circle cx="306.40" cy="449.75" r="2.55" fill="#000000"/><circle cx="313.15" cy="450.21" r="2.55" fill="#000000"/><circle cx="319.90" cy="451.63" r="2.55" fill="#000000"/><circle cx="326.65" cy="452.67" r="2.55" fill="#000000"/><circle cx="333.40" cy="453.38" r="2.55" fill="#000000"/><circle cx="340.15" cy="453.77" r="2.55" fill="#000000"/><circle cx="346.90" cy="454.81" r="2.55" fill="#000000"/><circle cx="353.65" cy="455.52" r="2.55" fill="#000000"/><circle cx="360.40" cy="456.23" r="2.55" fill="#000000"/><circle cx="367.15" cy="456.95" r="2.55" fill="#000000"/><circle cx="373.90" cy="457.66" r="2.55" fill="#000000"/><circle cx="380.65" cy="457.86" r="2.55" fill="#000000"/><circle cx="387.40" cy="456.96" r="2.55" fill="#000000"/><circle cx="394.15" cy="457.21" r="2.55" fill="#000000"/><circle cx="400.90" cy="457.54" r="2.55" fill="#000000"/><circle cx="407.65" cy="457.64" r="2.55" fill="#000000"/><circle cx="414.40" cy="457.85" r="2.55" fill="#000000"/><circle cx="421.15" cy="458.02" r="2.55" fill="#000000"/><circle cx="427.90" cy="458.18" r="2.55" fill="#000000"/><circle cx="434.65" cy="458.22" r="2.55" fill="#000000"/><circle cx="441.40" cy="458.24" r="2.55" fill="#000000"/><circle cx="448.15" cy="458.29" r="2.55" fill="#000000"/><circle cx="454.90" cy="458.31" r="2.55" fill="#000000"/><circle cx="461.65" cy="458.35" r="2.55" fill="#000000"/><circle cx="468.40" cy="458.37" r="2.55" fill="#000000"/><circle cx="475.15" cy="458.41" r="2.55" fill="#000000"/><circle cx="481.90" cy="458.44" r="2.55" fill="#000000"/><circle cx="488.65" cy="458.47" r="2.55" fill="#000000"/><circle cx="495.40" cy="458.50" r="2.55" fill="#000000"/><path d="M232.15 417.85L238.90 424.96L245.65 429.19L252.40 431.73L259.15 434.78L265.90 437.52L272.65 439.96L279.40 441.63L286.15 444.37L292.90 444.56L299.65 446.39L306.40 447.58L313.15 448.22L319.90 449.14L326.65 450.23L333.40 450.96L340.15 451.42L346.90 452.33L353.65 452.88L360.40 453.71L367.15 454.22L373.90 454.58L380.65 454.97L387.40 455.19L394.15 455.68L400.90 456.36L407.65 456.57L414.40 456.99L421.15 457.34L427.90 457.66L434.65 457.76L441.40 457.83L448.15 457.94L454.90 458.00L461.65 458.10L468.40 458.17L475.15 458.27L481.90 458.33L488.65 458.42L495.40 458.50" stroke="#ff4d00" stroke-width="0.62" fill="none" stroke-linejoin="round"/><polygon points="232.15,415.21 229.79,419.04 234.51,419.04" stroke="#ff4d00" stroke-width="0.78" fill="none"/><polygon points="238.90,422.32 236.54,426.14 241.26,426.14" stroke="#ff4d00" stroke-width="0.78" fill="none"/><polygon points="245.65,426.55 243.29,430.37 248.01,430.37" stroke="#ff4d00" stroke-width="0.78" fill="none"/><polygon points="252.40,429.08 250.04,432.91 254.76,432.91" stroke="#ff4d00" stroke-width="0.78" fill="none"/><polygon points="259.15,432.13 256.79,435.96 261.51,435.96" stroke="#ff4d00" stroke-width="0.78" fill="none"/><polygon points="265.90,434.87 263.54,438.70 268.26,438.70" stroke="#ff4d00" stroke-width="0.78" fill="none"/><polygon points="272.65,437.32 270.29,441.15 275.01,441.15" stroke="#ff4d00" stroke-width="0.78" fill="none"/><polygon points="279.40,438.98 277.04,442.81 281.76,442.81" stroke="#ff4d00" stroke-width="0.78" fill="none"/><polygon points="286.15,441.72 283.79,445.55 288.51,445.55" stroke="#ff4d00" stroke-width="0.78" fill="none"/><polygon points="292.90,441.92 290.54,445.75 295.26,445.75" stroke="#ff4d00" stroke-width="0.78" fill="none"/><polygon points="299.65,443.75 297.29,447.57 302.01,447.57" stroke="#ff4d00" stroke-width="0.78" fill="none"/><polygon points="306.40,444.94 304.04,448.76 308.76,448.76" stroke="#ff4d00" stroke-width="0.78" fill="none"/><polygon points="313.15,445.58 310.79,449.40 315.51,449.40" stroke="#ff4d00" stroke-width="0.78" fill="none"/><polygon points="319.90,446.49 317.54,450.32 322.26,450.32" stroke="#ff4d00" stroke-width="0.78" fill="none"/><polygon points="326.65,447.59 324.29,451.41 329.01,451.41" stroke="#ff4d00" stroke-width="0.78" fill="none"/><polygon points="333.40,448.32 331.04,452.14 335.76,452.14" stroke="#ff4d00" stroke-width="0.78" fill="none"/><polygon points="340.15,448.77 337.79,452.60 342.51,452.60" stroke="#ff4d00" stroke-width="0.78" fill="none"/><polygon points="346.90,449.69 344.54,453.52 349.26,453.52" stroke="#ff4d00" stroke-width="0.78" fill="none"/><polygon points="353.65,450.24 351.29,454.06 356.01,454.06" stroke="#ff4d00" stroke-width="0.78" fill="none"/><polygon points="360.40,451.06 358.04,454.89 362.76,454.89" stroke="#ff4d00" stroke-width="0.78" fill="none"/><polygon points="367.15,451.57 364.79,455.40 369.51,455.40" stroke="#ff4d00" stroke-width="0.78" fill="none"/><polygon points="373.90,451.93 371.54,455.76 376.26,455.76" stroke="#ff4d00" stroke-width="0.78" fill="none"/><polygon points="380.65,452.33 378.29,456.15 383.01,456.15" stroke="#ff4d00" stroke-width="0.78" fill="none"/><polygon points="387.40,452.54 385.04,456.37 389.76,456.37" stroke="#ff4d00" stroke-width="0.78" fill="none"/><polygon points="394.15,453.04 391.79,456.86 396.51,456.86" stroke="#ff4d00" stroke-width="0.78" fill="none"/><polygon points="400.90,453.71 398.54,457.54 403.26,457.54" stroke="#ff4d00" stroke-width="0.78" fill="none"/><polygon points="407.65,453.93 405.29,457.75 410.01,457.75" stroke="#ff4d00" stroke-width="0.78" fill="none"/><polygon points="414.40,454.34 412.04,458.17 416.76,458.17" stroke="#ff4d00" stroke-width="0.78" fill="none"/><polygon points="421.15,454.70 418.79,458.53 423.51,458.53" stroke="#ff4d00" stroke-width="0.78" fill="none"/><polygon points="427.90,455.01 425.54,458.84 430.26,458.84" stroke="#ff4d00" stroke-width="0.78" fill="none"/><polygon points="434.65,455.12 432.29,458.94 437.01,458.94" stroke="#ff4d00" stroke-width="0.78" fill="none"/><polygon points="441.40,455.18 439.04,459.01 443.76,459.01" stroke="#ff4d00" stroke-width="0.78" fill="none"/><polygon points="448.15,455.29 445.79,459.12 450.51,459.12" stroke="#ff4d00" stroke-width="0.78" fill="none"/><polygon points="454.90,455.35 452.54,459.18 457.26,459.18" stroke="#ff4d00" stroke-width="0.78" fill="none"/><polygon points="461.65,455.45 459.29,459.28 464.01,459.28" stroke="#ff4d00" stroke-width="0.78" fill="none"/><polygon points="468.40,455.52 466.04,459.35 470.76,459.35" stroke="#ff4d00" stroke-width="0.78" fill="none"/><polygon points="475.15,455.62 472.79,459.45 477.51,459.45" stroke="#ff4d00" stroke-width="0.78" fill="none"/><polygon points="481.90,455.69 479.54,459.52 484.26,459.52" stroke="#ff4d00" stroke-width="0.78" fill="none"/><polygon points="488.65,455.77 486.29,459.60 491.01,459.60" stroke="#ff4d00" stroke-width="0.78" fill="none"/><polygon points="495.40,455.86 493.04,459.68 497.76,459.68" stroke="#ff4d00" stroke-width="0.78" fill="none"/><path d="M232.15 416.04L238.90 422.98L245.65 427.12L252.40 429.60L259.15 432.57L265.90 435.42L272.65 437.97L279.40 439.70L286.15 442.55L292.90 442.75L299.65 444.50L306.40 445.64L313.15 446.25L319.90 447.13L326.65 448.18L333.40 448.88L340.15 449.31L346.90 450.19L353.65 450.71L360.40 451.50L367.15 452.16L373.90 452.61L380.65 453.12L387.40 453.40L394.15 454.03L400.90 454.89L407.65 455.17L414.40 455.70L421.15 456.15L427.90 456.56L434.65 456.78L441.40 456.92L448.15 457.16L454.90 457.28L461.65 457.50L468.40 457.65L475.15 457.87L481.90 458.01L488.65 458.19L495.40 458.37" stroke="#808080" stroke-width="0.62" fill="none" stroke-linejoin="round"/><polygon points="232.15,413.39 229.79,417.22 234.51,417.22" fill="#808080"/><polygon points="238.90,420.34 236.54,424.16 241.26,424.16" fill="#808080"/><polygon points="245.65,424.47 243.29,428.30 248.01,428.30" fill="#808080"/><polygon points="252.40,426.95 250.04,430.78 254.76,430.78" fill="#808080"/><polygon points="259.15,429.93 256.79,433.75 261.51,433.75" fill="#808080"/><polygon points="265.90,432.78 263.54,436.60 268.26,436.60" fill="#808080"/><polygon points="272.65,435.32 270.29,439.15 275.01,439.15" fill="#808080"/><polygon points="279.40,437.05 277.04,440.88 281.76,440.88" fill="#808080"/><polygon points="286.15,439.90 283.79,443.73 288.51,443.73" fill="#808080"/><polygon points="292.90,440.10 290.54,443.93 295.26,443.93" fill="#808080"/><polygon points="299.65,441.85 297.29,445.68 302.01,445.68" fill="#808080"/><polygon points="306.40,442.99 304.04,446.82 308.76,446.82" fill="#808080"/><polygon points="313.15,443.60 310.79,447.43 315.51,447.43" fill="#808080"/><polygon points="319.90,444.48 317.54,448.31 322.26,448.31" fill="#808080"/><polygon points="326.65,445.53 324.29,449.36 329.01,449.36" fill="#808080"/><polygon points="333.40,446.23 331.04,450.06 335.76,450.06" fill="#808080"/><polygon points="340.15,446.67 337.79,450.49 342.51,450.49" fill="#808080"/><polygon points="346.90,447.54 344.54,451.37 349.26,451.37" fill="#808080"/><polygon points="353.65,448.07 351.29,451.90 356.01,451.90" fill="#808080"/><polygon points="360.40,448.86 358.04,452.68 362.76,452.68" fill="#808080"/><polygon points="367.15,449.51 364.79,453.34 369.51,453.34" fill="#808080"/><polygon points="373.90,449.97 371.54,453.80 376.26,453.80" fill="#808080"/><polygon points="380.65,450.47 378.29,454.30 383.01,454.30" fill="#808080"/><polygon points="387.40,450.75 385.04,454.58 389.76,454.58" fill="#808080"/><polygon points="394.15,451.38 391.79,455.21 396.51,455.21" fill="#808080"/><polygon points="400.90,452.24 398.54,456.07 403.26,456.07" fill="#808080"/><polygon points="407.65,452.52 405.29,456.35 410.01,456.35" fill="#808080"/><polygon points="414.40,453.05 412.04,456.88 416.76,456.88" fill="#808080"/><polygon points="421.15,453.51 418.79,457.34 423.51,457.34" fill="#808080"/><polygon points="427.90,453.91 425.54,457.74 430.26,457.74" fill="#808080"/><polygon points="434.65,454.13 432.29,457.96 437.01,457.96" fill="#808080"/><polygon points="441.40,454.28 439.04,458.10 443.76,458.10" fill="#808080"/><polygon points="448.15,454.51 445.79,458.34 450.51,458.34" fill="#808080"/><polygon points="454.90,454.64 452.54,458.47 457.26,458.47" fill="#808080"/><polygon points="461.65,454.86 459.29,458.68 464.01,458.68" fill="#808080"/><polygon points="468.40,455.00 466.04,458.83 470.76,458.83" fill="#808080"/><polygon points="475.15,455.22 472.79,459.05 477.51,459.05" fill="#808080"/><polygon points="481.90,455.36 479.54,459.19 484.26,459.19" fill="#808080"/><polygon points="488.65,455.55 486.29,459.37 491.01,459.37" fill="#808080"/><polygon points="495.40,455.73 493.04,459.55 497.76,459.55" fill="#808080"/><path d="M232.15 413.84L238.90 420.62L245.65 424.65L252.40 427.07L259.15 429.98L265.90 432.88L272.65 435.48L279.40 437.24L286.15 440.14L292.90 440.35L299.65 442.24L306.40 443.47L313.15 444.14L319.90 445.08L326.65 446.22L333.40 446.98L340.15 447.45L346.90 448.40L353.65 448.96L360.40 449.82L367.15 450.52L373.90 451.01L380.65 451.56L387.40 451.86L394.15 452.54L400.90 453.46L407.65 453.76L414.40 454.34L421.15 454.83L427.90 455.26L434.65 455.59L441.40 455.81L448.15 456.16L454.90 456.35L461.65 456.68L468.40 456.90L475.15 457.22L481.90 457.44L488.65 457.71L495.40 457.98" stroke="#ff0000" stroke-width="0.62" fill="none" stroke-linejoin="round"/><polygon points="232.15,416.48 229.79,412.65 234.51,412.65" stroke="#ff0000" stroke-width="0.78" fill="none"/><polygon points="238.90,423.26 236.54,419.43 241.26,419.43" stroke="#ff0000" stroke-width="0.78" fill="none"/><polygon points="245.65,427.30 243.29,423.47 248.01,423.47" stroke="#ff0000" stroke-width="0.78" fill="none"/><polygon points="252.40,429.72 250.04,425.89 254.76,425.89" stroke="#ff0000" stroke-width="0.78" fill="none"/><polygon points="259.15,432.62 256.79,428.80 261.51,428.80" stroke="#ff0000" stroke-width="0.78" fill="none"/><polygon points="265.90,435.53 263.54,431.70 268.26,431.70" stroke="#ff0000" stroke-width="0.78" fill="none"/><polygon points="272.65,438.12 270.29,434.29 275.01,434.29" stroke="#ff0000" stroke-width="0.78" fill="none"/><polygon points="279.40,439.89 277.04,436.06 281.76,436.06" stroke="#ff0000" stroke-width="0.78" fill="none"/><polygon points="286.15,442.79 283.79,438.96 288.51,438.96" stroke="#ff0000" stroke-width="0.78" fill="none"/><polygon points="292.90,443.00 290.54,439.17 295.26,439.17" stroke="#ff0000" stroke-width="0.78" fill="none"/><polygon points="299.65,444.89 297.29,441.06 302.01,441.06" stroke="#ff0000" stroke-width="0.78" fill="none"/><polygon points="306.40,446.12 304.04,442.29 308.76,442.29" stroke="#ff0000" stroke-width="0.78" fill="none"/><polygon points="313.15,446.78 310.79,442.96 315.51,442.96" stroke="#ff0000" stroke-width="0.78" fill="none"/><polygon points="319.90,447.73 317.54,443.90 322.26,443.90" stroke="#ff0000" stroke-width="0.78" fill="none"/><polygon points="326.65,448.87 324.29,445.04 329.01,445.04" stroke="#ff0000" stroke-width="0.78" fill="none"/><polygon points="333.40,449.62 331.04,445.80 335.76,445.80" stroke="#ff0000" stroke-width="0.78" fill="none"/><polygon points="340.15,450.10 337.79,446.27 342.51,446.27" stroke="#ff0000" stroke-width="0.78" fill="none"/><polygon points="346.90,451.04 344.54,447.22 349.26,447.22" stroke="#ff0000" stroke-width="0.78" fill="none"/><polygon points="353.65,451.61 351.29,447.78 356.01,447.78" stroke="#ff0000" stroke-width="0.78" fill="none"/><polygon points="360.40,452.46 358.04,448.63 362.76,448.63" stroke="#ff0000" stroke-width="0.78" fill="none"/><polygon points="367.15,453.17 364.79,449.34 369.51,449.34" stroke="#ff0000" stroke-width="0.78" fill="none"/><polygon points="373.90,453.66 371.54,449.83 376.26,449.83" stroke="#ff0000" stroke-width="0.78" fill="none"/><polygon points="380.65,454.20 378.29,450.38 383.01,450.38" stroke="#ff0000" stroke-width="0.78" fill="none"/><polygon points="387.40,454.50 385.04,450.68 389.76,450.68" stroke="#ff0000" stroke-width="0.78" fill="none"/><polygon points="394.15,455.19 391.79,451.36 396.51,451.36" stroke="#ff0000" stroke-width="0.78" fill="none"/><polygon points="400.90,456.11 398.54,452.28 403.26,452.28" stroke="#ff0000" stroke-width="0.78" fill="none"/><polygon points="407.65,456.41 405.29,452.58 410.01,452.58" stroke="#ff0000" stroke-width="0.78" fill="none"/><polygon points="414.40,456.98 412.04,453.15 416.76,453.15" stroke="#ff0000" stroke-width="0.78" fill="none"/><polygon points="421.15,457.47 418.79,453.64 423.51,453.64" stroke="#ff0000" stroke-width="0.78" fill="none"/><polygon points="427.90,457.91 425.54,454.08 430.26,454.08" stroke="#ff0000" stroke-width="0.78" fill="none"/><polygon points="434.65,458.23 432.29,454.41 437.01,454.41" stroke="#ff0000" stroke-width="0.78" fill="none"/><polygon points="441.40,458.45 439.04,454.63 443.76,454.63" stroke="#ff0000" stroke-width="0.78" fill="none"/><polygon points="448.15,458.81 445.79,454.98 450.51,454.98" stroke="#ff0000" stroke-width="0.78" fill="none"/><polygon points="454.90,459.00 452.54,455.17 457.26,455.17" stroke="#ff0000" stroke-width="0.78" fill="none"/><polygon points="461.65,459.32 459.29,455.50 464.01,455.50" stroke="#ff0000" stroke-width="0.78" fill="none"/><polygon points="468.40,459.54 466.04,455.71 470.76,455.71" stroke="#ff0000" stroke-width="0.78" fill="none"/><polygon points="475.15,459.87 472.79,456.04 477.51,456.04" stroke="#ff0000" stroke-width="0.78" fill="none"/><polygon points="481.90,460.09 479.54,456.26 484.26,456.26" stroke="#ff0000" stroke-width="0.78" fill="none"/><polygon points="488.65,460.36 486.29,456.53 491.01,456.53" stroke="#ff0000" stroke-width="0.78" fill="none"/><polygon points="495.40,460.63 493.04,456.80 497.76,456.80" stroke="#ff0000" stroke-width="0.78" fill="none"/><path d="M232.15 411.31L238.90 418.17L245.65 422.25L252.40 424.70L259.15 427.64L265.90 430.49L272.65 433.04L279.40 434.77L286.15 437.62L292.90 437.82L299.65 439.75L306.40 441.01L313.15 441.69L319.90 442.65L326.65 443.81L333.40 444.58L340.15 445.07L346.90 446.03L353.65 446.61L360.40 447.48L367.15 448.30L373.90 448.87L380.65 449.49L387.40 449.84L394.15 450.63L400.90 451.70L407.65 452.04L414.40 452.70L421.15 453.27L427.90 453.77L434.65 454.15L441.40 454.41L448.15 454.82L454.90 455.04L461.65 455.42L468.40 455.68L475.15 456.06L481.90 456.31L488.65 456.63L495.40 456.95" stroke="#00ff00" stroke-width="0.62" fill="none" stroke-linejoin="round"/><polygon points="232.15,413.95 229.79,410.13 234.51,410.13" fill="#00ff00"/><polygon points="238.90,420.81 236.54,416.99 241.26,416.99" fill="#00ff00"/><polygon points="245.65,424.90 243.29,421.07 248.01,421.07" fill="#00ff00"/><polygon points="252.40,427.35 250.04,423.52 254.76,423.52" fill="#00ff00"/><polygon points="259.15,430.29 256.79,426.46 261.51,426.46" fill="#00ff00"/><polygon points="265.90,433.14 263.54,429.31 268.26,429.31" fill="#00ff00"/><polygon points="272.65,435.68 270.29,431.86 275.01,431.86" fill="#00ff00"/><polygon points="279.40,437.42 277.04,433.59 281.76,433.59" fill="#00ff00"/><polygon points="286.15,440.27 283.79,436.44 288.51,436.44" fill="#00ff00"/><polygon points="292.90,440.47 290.54,436.64 295.26,436.64" fill="#00ff00"/><polygon points="299.65,442.40 297.29,438.57 302.01,438.57" fill="#00ff00"/><polygon points="306.40,443.66 304.04,439.83 308.76,439.83" fill="#00ff00"/><polygon points="313.15,444.33 310.79,440.51 315.51,440.51" fill="#00ff00"/><polygon points="319.90,445.30 317.54,441.47 322.26,441.47" fill="#00ff00"/><polygon points="326.65,446.46 324.29,442.63 329.01,442.63" fill="#00ff00"/><polygon points="333.40,447.23 331.04,443.40 335.76,443.40" fill="#00ff00"/><polygon points="340.15,447.71 337.79,443.89 342.51,443.89" fill="#00ff00"/><polygon points="346.90,448.68 344.54,444.85 349.26,444.85" fill="#00ff00"/><polygon points="353.65,449.26 351.29,445.43 356.01,445.43" fill="#00ff00"/><polygon points="360.40,450.13 358.04,446.30 362.76,446.30" fill="#00ff00"/><polygon points="367.15,450.95 364.79,447.12 369.51,447.12" fill="#00ff00"/><polygon points="373.90,451.51 371.54,447.68 376.26,447.68" fill="#00ff00"/><polygon points="380.65,452.14 378.29,448.31 383.01,448.31" fill="#00ff00"/><polygon points="387.40,452.49 385.04,448.66 389.76,448.66" fill="#00ff00"/><polygon points="394.15,453.27 391.79,449.45 396.51,449.45" fill="#00ff00"/><polygon points="400.90,454.34 398.54,450.51 403.26,450.51" fill="#00ff00"/><polygon points="407.65,454.69 405.29,450.86 410.01,450.86" fill="#00ff00"/><polygon points="414.40,455.35 412.04,451.52 416.76,451.52" fill="#00ff00"/><polygon points="421.15,455.91 418.79,452.09 423.51,452.09" fill="#00ff00"/><polygon points="427.90,456.42 425.54,452.59 430.26,452.59" fill="#00ff00"/><polygon points="434.65,456.80 432.29,452.97 437.01,452.97" fill="#00ff00"/><polygon points="441.40,457.05 439.04,453.22 443.76,453.22" fill="#00ff00"/><polygon points="448.15,457.47 445.79,453.64 450.51,453.64" fill="#00ff00"/><polygon points="454.90,457.69 452.54,453.86 457.26,453.86" fill="#00ff00"/><polygon points="461.65,458.07 459.29,454.24 464.01,454.24" fill="#00ff00"/><polygon points="468.40,458.32 466.04,454.50 470.76,454.50" fill="#00ff00"/><polygon points="475.15,458.70 472.79,454.88 477.51,454.88" fill="#00ff00"/><polygon points="481.90,458.96 479.54,455.13 484.26,455.13" fill="#00ff00"/><polygon points="488.65,459.28 486.29,455.45 491.01,455.45" fill="#00ff00"/><polygon points="495.40,459.59 493.04,455.77 497.76,455.77" fill="#00ff00"/><path d="M232.15 408.84L238.90 415.87L245.65 420.05L252.40 422.56L259.15 425.57L265.90 428.49L272.65 431.10L279.40 432.88L286.15 435.80L292.90 436.01L299.65 437.98L306.40 439.26L313.15 439.95L319.90 440.93L326.65 442.12L333.40 442.91L340.15 443.40L346.90 444.38L353.65 444.97L360.40 445.86L367.15 446.66L373.90 447.22L380.65 447.83L387.40 448.17L394.15 448.94L400.90 449.99L407.65 450.33L414.40 450.97L421.15 451.53L427.90 452.02L434.65 452.43L441.40 452.71L448.15 453.15L454.90 453.39L461.65 453.81L468.40 454.08L475.15 454.49L481.90 454.77L488.65 455.11L495.40 455.46" stroke="#0000ff" stroke-width="0.62" fill="none" stroke-linejoin="round"/><polygon points="232.15,406.44 234.55,408.84 232.15,411.24 229.75,408.84" stroke="#0000ff" stroke-width="0.78" fill="none"/><polygon points="238.90,413.47 241.30,415.87 238.90,418.27 236.50,415.87" stroke="#0000ff" stroke-width="0.78" fill="none"/><polygon points="245.65,417.65 248.05,420.05 245.65,422.45 243.25,420.05" stroke="#0000ff" stroke-width="0.78" fill="none"/><polygon points="252.40,420.16 254.80,422.56 252.40,424.96 250.00,422.56" stroke="#0000ff" stroke-width="0.78" fill="none"/><polygon points="259.15,423.17 261.55,425.57 259.15,427.97 256.75,425.57" stroke="#0000ff" stroke-width="0.78" fill="none"/><polygon points="265.90,426.09 268.30,428.49 265.90,430.89 263.50,428.49" stroke="#0000ff" stroke-width="0.78" fill="none"/><polygon points="272.65,428.70 275.05,431.10 272.65,433.50 270.25,431.10" stroke="#0000ff" stroke-width="0.78" fill="none"/><polygon points="279.40,430.48 281.80,432.88 279.40,435.28 277.00,432.88" stroke="#0000ff" stroke-width="0.78" fill="none"/><polygon points="286.15,433.40 288.55,435.80 286.15,438.20 283.75,435.80" stroke="#0000ff" stroke-width="0.78" fill="none"/><polygon points="292.90,433.61 295.30,436.01 292.90,438.41 290.50,436.01" stroke="#0000ff" stroke-width="0.78" fill="none"/><polygon points="299.65,435.58 302.05,437.98 299.65,440.38 297.25,437.98" stroke="#0000ff" stroke-width="0.78" fill="none"/><polygon points="306.40,436.86 308.80,439.26 306.40,441.66 304.00,439.26" stroke="#0000ff" stroke-width="0.78" fill="none"/><polygon points="313.15,437.55 315.55,439.95 313.15,442.35 310.75,439.95" stroke="#0000ff" stroke-width="0.78" fill="none"/><polygon points="319.90,438.53 322.30,440.93 319.90,443.33 317.50,440.93" stroke="#0000ff" stroke-width="0.78" fill="none"/><polygon points="326.65,439.72 329.05,442.12 326.65,444.52 324.25,442.12" stroke="#0000ff" stroke-width="0.78" fill="none"/><polygon points="333.40,440.51 335.80,442.91 333.40,445.31 331.00,442.91" stroke="#0000ff" stroke-width="0.78" fill="none"/><polygon points="340.15,441.00 342.55,443.40 340.15,445.80 337.75,443.40" stroke="#0000ff" stroke-width="0.78" fill="none"/><polygon points="346.90,441.98 349.30,444.38 346.90,446.78 344.50,444.38" stroke="#0000ff" stroke-width="0.78" fill="none"/><polygon points="353.65,442.57 356.05,444.97 353.65,447.37 351.25,444.97" stroke="#0000ff" stroke-width="0.78" fill="none"/><polygon points="360.40,443.46 362.80,445.86 360.40,448.26 358.00,445.86" stroke="#0000ff" stroke-width="0.78" fill="none"/><polygon points="367.15,444.26 369.55,446.66 367.15,449.06 364.75,446.66" stroke="#0000ff" stroke-width="0.78" fill="none"/><polygon points="373.90,444.82 376.30,447.22 373.90,449.62 371.50,447.22" stroke="#0000ff" stroke-width="0.78" fill="none"/><polygon points="380.65,445.43 383.05,447.83 380.65,450.23 378.25,447.83" stroke="#0000ff" stroke-width="0.78" fill="none"/><polygon points="387.40,445.77 389.80,448.17 387.40,450.57 385.00,448.17" stroke="#0000ff" stroke-width="0.78" fill="none"/><polygon points="394.15,446.54 396.55,448.94 394.15,451.34 391.75,448.94" stroke="#0000ff" stroke-width="0.78" fill="none"/><polygon points="400.90,447.59 403.30,449.99 400.90,452.39 398.50,449.99" stroke="#0000ff" stroke-width="0.78" fill="none"/><polygon points="407.65,447.93 410.05,450.33 407.65,452.73 405.25,450.33" stroke="#0000ff" stroke-width="0.78" fill="none"/><polygon points="414.40,448.57 416.80,450.97 414.40,453.37 412.00,450.97" stroke="#0000ff" stroke-width="0.78" fill="none"/><polygon points="421.15,449.13 423.55,451.53 421.15,453.93 418.75,451.53" stroke="#0000ff" stroke-width="0.78" fill="none"/><polygon points="427.90,449.62 430.30,452.02 427.90,454.42 425.50,452.02" stroke="#0000ff" stroke-width="0.78" fill="none"/><polygon points="434.65,450.03 437.05,452.43 434.65,454.83 432.25,452.43" stroke="#0000ff" stroke-width="0.78" fill="none"/><polygon points="441.40,450.31 443.80,452.71 441.40,455.11 439.00,452.71" stroke="#0000ff" stroke-width="0.78" fill="none"/><polygon points="448.15,450.75 450.55,453.15 448.15,455.55 445.75,453.15" stroke="#0000ff" stroke-width="0.78" fill="none"/><polygon points="454.90,450.99 457.30,453.39 454.90,455.79 452.50,453.39" stroke="#0000ff" stroke-width="0.78" fill="none"/><polygon points="461.65,451.41 464.05,453.81 461.65,456.21 459.25,453.81" stroke="#0000ff" stroke-width="0.78" fill="none"/><polygon points="468.40,451.68 470.80,454.08 468.40,456.48 466.00,454.08" stroke="#0000ff" stroke-width="0.78" fill="none"/><polygon points="475.15,452.09 477.55,454.49 475.15,456.89 472.75,454.49" stroke="#0000ff" stroke-width="0.78" fill="none"/><polygon points="481.90,452.37 484.30,454.77 481.90,457.17 479.50,454.77" stroke="#0000ff" stroke-width="0.78" fill="none"/><polygon points="488.65,452.71 491.05,455.11 488.65,457.51 486.25,455.11" stroke="#0000ff" stroke-width="0.78" fill="none"/><polygon points="495.40,453.06 497.80,455.46 495.40,457.86 493.00,455.46" stroke="#0000ff" stroke-width="0.78" fill="none"/><path d="M232.15 406.25L238.90 413.33L245.65 417.54L252.40 420.07L259.15 423.11L265.90 425.76L272.65 428.12L279.40 429.73L286.15 432.38L292.90 432.57L299.65 434.83L306.40 436.29L313.15 437.08L319.90 438.21L326.65 439.57L333.40 440.47L340.15 441.03L346.90 442.16L353.65 442.84L360.40 443.85L367.15 444.62L373.90 445.15L380.65 445.74L387.40 446.06L394.15 446.80L400.90 447.80L407.65 448.13L414.40 448.75L421.15 449.28L427.90 449.75L434.65 450.19L441.40 450.49L448.15 450.97L454.90 451.23L461.65 451.67L468.40 451.97L475.15 452.41L481.90 452.71L488.65 453.08L495.40 453.45" stroke="#ff00ff" stroke-width="0.62" fill="none" stroke-linejoin="round"/><polygon points="232.15,403.85 234.55,406.25 232.15,408.65 229.75,406.25" fill="#ff00ff"/><polygon points="238.90,410.93 241.30,413.33 238.90,415.73 236.50,413.33" fill="#ff00ff"/><polygon points="245.65,415.14 248.05,417.54 245.65,419.94 243.25,417.54" fill="#ff00ff"/><polygon points="252.40,417.67 254.80,420.07 252.40,422.47 250.00,420.07" fill="#ff00ff"/><polygon points="259.15,420.71 261.55,423.11 259.15,425.51 256.75,423.11" fill="#ff00ff"/><polygon points="265.90,423.36 268.30,425.76 265.90,428.16 263.50,425.76" fill="#ff00ff"/><polygon points="272.65,425.72 275.05,428.12 272.65,430.52 270.25,428.12" fill="#ff00ff"/><polygon points="279.40,427.33 281.80,429.73 279.40,432.13 277.00,429.73" fill="#ff00ff"/><polygon points="286.15,429.98 288.55,432.38 286.15,434.78 283.75,432.38" fill="#ff00ff"/><polygon points="292.90,430.17 295.30,432.57 292.90,434.97 290.50,432.57" fill="#ff00ff"/><polygon points="299.65,432.43 302.05,434.83 299.65,437.23 297.25,434.83" fill="#ff00ff"/><polygon points="306.40,433.89 308.80,436.29 306.40,438.69 304.00,436.29" fill="#ff00ff"/><polygon points="313.15,434.68 315.55,437.08 313.15,439.48 310.75,437.08" fill="#ff00ff"/><polygon points="319.90,435.81 322.30,438.21 319.90,440.61 317.50,438.21" fill="#ff00ff"/><polygon points="326.65,437.17 329.05,439.57 326.65,441.97 324.25,439.57" fill="#ff00ff"/><polygon points="333.40,438.07 335.80,440.47 333.40,442.87 331.00,440.47" fill="#ff00ff"/><polygon points="340.15,438.63 342.55,441.03 340.15,443.43 337.75,441.03" fill="#ff00ff"/><polygon points="346.90,439.76 349.30,442.16 346.90,444.56 344.50,442.16" fill="#ff00ff"/><polygon points="353.65,440.44 356.05,442.84 353.65,445.24 351.25,442.84" fill="#ff00ff"/><polygon points="360.40,441.45 362.80,443.85 360.40,446.25 358.00,443.85" fill="#ff00ff"/><polygon points="367.15,442.22 369.55,444.62 367.15,447.02 364.75,444.62" fill="#ff00ff"/><polygon points="373.90,442.75 376.30,445.15 373.90,447.55 371.50,445.15" fill="#ff00ff"/><polygon points="380.65,443.34 383.05,445.74 380.65,448.14 378.25,445.74" fill="#ff00ff"/><polygon points="387.40,443.66 389.80,446.06 387.40,448.46 385.00,446.06" fill="#ff00ff"/><polygon points="394.15,444.40 396.55,446.80 394.15,449.20 391.75,446.80" fill="#ff00ff"/><polygon points="400.90,445.40 403.30,447.80 400.90,450.20 398.50,447.80" fill="#ff00ff"/><polygon points="407.65,445.73 410.05,448.13 407.65,450.53 405.25,448.13" fill="#ff00ff"/><polygon points="414.40,446.35 416.80,448.75 414.40,451.15 412.00,448.75" fill="#ff00ff"/><polygon points="421.15,446.88 423.55,449.28 421.15,451.68 418.75,449.28" fill="#ff00ff"/><polygon points="427.90,447.35 430.30,449.75 427.90,452.15 425.50,449.75" fill="#ff00ff"/><polygon points="434.65,447.79 437.05,450.19 434.65,452.59 432.25,450.19" fill="#ff00ff"/><polygon points="441.40,448.09 443.80,450.49 441.40,452.89 439.00,450.49" fill="#ff00ff"/><polygon points="448.15,448.57 450.55,450.97 448.15,453.37 445.75,450.97" fill="#ff00ff"/><polygon points="454.90,448.83 457.30,451.23 454.90,453.63 452.50,451.23" fill="#ff00ff"/><polygon points="461.65,449.27 464.05,451.67 461.65,454.07 459.25,451.67" fill="#ff00ff"/><polygon points="468.40,449.57 470.80,451.97 468.40,454.37 466.00,451.97" fill="#ff00ff"/><polygon points="475.15,450.01 477.55,452.41 475.15,454.81 472.75,452.41" fill="#ff00ff"/><polygon points="481.90,450.31 484.30,452.71 481.90,455.11 479.50,452.71" fill="#ff00ff"/><polygon points="488.65,450.68 491.05,453.08 488.65,455.48 486.25,453.08" fill="#ff00ff"/><polygon points="495.40,451.05 497.80,453.45 495.40,455.85 493.00,453.45" fill="#ff00ff"/><path d="M232.15 402.43L238.90 409.83L245.65 414.24L252.40 416.89L259.15 420.06L265.90 422.84L272.65 425.32L279.40 427.00L286.15 429.78L292.90 429.98L299.65 432.05L306.40 433.40L313.15 434.13L319.90 435.16L326.65 436.41L333.40 437.24L340.15 437.76L346.90 438.80L353.65 439.42L360.40 440.35L367.15 441.19L373.90 441.78L380.65 442.43L387.40 442.78L394.15 443.59L400.90 444.69L407.65 445.05L414.40 445.73L421.15 446.32L427.90 446.83L434.65 447.26L441.40 447.55L448.15 448.01L454.90 448.26L461.65 448.69L468.40 448.97L475.15 449.40L481.90 449.69L488.65 450.04L495.40 450.40" stroke="#00ffff" stroke-width="0.62" fill="none" stroke-linejoin="round"/><polygon points="232.15,399.93 234.53,401.65 233.62,404.45 230.68,404.45 229.77,401.65" stroke="#00ffff" stroke-width="0.78" fill="none"/><polygon points="238.90,407.33 241.28,409.06 240.37,411.85 237.43,411.85 236.52,409.06" stroke="#00ffff" stroke-width="0.78" fill="none"/><polygon points="245.65,411.74 248.03,413.47 247.12,416.26 244.18,416.26 243.27,413.47" stroke="#00ffff" stroke-width="0.78" fill="none"/><polygon points="252.40,414.39 254.78,416.11 253.87,418.91 250.93,418.91 250.02,416.11" stroke="#00ffff" stroke-width="0.78" fill="none"/><polygon points="259.15,417.56 261.53,419.29 260.62,422.08 257.68,422.08 256.77,419.29" stroke="#00ffff" stroke-width="0.78" fill="none"/><polygon points="265.90,420.34 268.28,422.06 267.37,424.86 264.43,424.86 263.52,422.06" stroke="#00ffff" stroke-width="0.78" fill="none"/><polygon points="272.65,422.82 275.03,424.54 274.12,427.34 271.18,427.34 270.27,424.54" stroke="#00ffff" stroke-width="0.78" fill="none"/><polygon points="279.40,424.50 281.78,426.23 280.87,429.03 277.93,429.03 277.02,426.23" stroke="#00ffff" stroke-width="0.78" fill="none"/><polygon points="286.15,427.28 288.53,429.01 287.62,431.80 284.68,431.80 283.77,429.01" stroke="#00ffff" stroke-width="0.78" fill="none"/><polygon points="292.90,427.48 295.28,429.21 294.37,432.00 291.43,432.00 290.52,429.21" stroke="#00ffff" stroke-width="0.78" fill="none"/><polygon points="299.65,429.55 302.03,431.28 301.12,434.08 298.18,434.08 297.27,431.28" stroke="#00ffff" stroke-width="0.78" fill="none"/><polygon points="306.40,430.90 308.78,432.63 307.87,435.42 304.93,435.42 304.02,432.63" stroke="#00ffff" stroke-width="0.78" fill="none"/><polygon points="313.15,431.63 315.53,433.35 314.62,436.15 311.68,436.15 310.77,433.35" stroke="#00ffff" stroke-width="0.78" fill="none"/><polygon points="319.90,432.66 322.28,434.39 321.37,437.19 318.43,437.19 317.52,434.39" stroke="#00ffff" stroke-width="0.78" fill="none"/><polygon points="326.65,433.91 329.03,435.64 328.12,438.43 325.18,438.43 324.27,435.64" stroke="#00ffff" stroke-width="0.78" fill="none"/><polygon points="333.40,434.74 335.78,436.47 334.87,439.26 331.93,439.26 331.02,436.47" stroke="#00ffff" stroke-width="0.78" fill="none"/><polygon points="340.15,435.26 342.53,436.99 341.62,439.78 338.68,439.78 337.77,436.99" stroke="#00ffff" stroke-width="0.78" fill="none"/><polygon points="346.90,436.30 349.28,438.02 348.37,440.82 345.43,440.82 344.52,438.02" stroke="#00ffff" stroke-width="0.78" fill="none"/><polygon points="353.65,436.92 356.03,438.64 355.12,441.44 352.18,441.44 351.27,438.64" stroke="#00ffff" stroke-width="0.78" fill="none"/><polygon points="360.40,437.85 362.78,439.58 361.87,442.37 358.93,442.37 358.02,439.58" stroke="#00ffff" stroke-width="0.78" fill="none"/><polygon points="367.15,438.69 369.53,440.42 368.62,443.22 365.68,443.22 364.77,440.42" stroke="#00ffff" stroke-width="0.78" fill="none"/><polygon points="373.90,439.28 376.28,441.00 375.37,443.80 372.43,443.80 371.52,441.00" stroke="#00ffff" stroke-width="0.78" fill="none"/><polygon points="380.65,439.93 383.03,441.65 382.12,444.45 379.18,444.45 378.27,441.65" stroke="#00ffff" stroke-width="0.78" fill="none"/><polygon points="387.40,440.28 389.78,442.01 388.87,444.80 385.93,444.80 385.02,442.01" stroke="#00ffff" stroke-width="0.78" fill="none"/><polygon points="394.15,441.09 396.53,442.82 395.62,445.62 392.68,445.62 391.77,442.82" stroke="#00ffff" stroke-width="0.78" fill="none"/><polygon points="400.90,442.19 403.28,443.92 402.37,446.72 399.43,446.72 398.52,443.92" stroke="#00ffff" stroke-width="0.78" fill="none"/><polygon points="407.65,442.55 410.03,444.28 409.12,447.07 406.18,447.07 405.27,444.28" stroke="#00ffff" stroke-width="0.78" fill="none"/><polygon points="414.40,443.23 416.78,444.96 415.87,447.75 412.93,447.75 412.02,444.96" stroke="#00ffff" stroke-width="0.78" fill="none"/><polygon points="421.15,443.82 423.53,445.54 422.62,448.34 419.68,448.34 418.77,445.54" stroke="#00ffff" stroke-width="0.78" fill="none"/><polygon points="427.90,444.33 430.28,446.06 429.37,448.86 426.43,448.86 425.52,446.06" stroke="#00ffff" stroke-width="0.78" fill="none"/><polygon points="434.65,444.76 437.03,446.49 436.12,449.28 433.18,449.28 432.27,446.49" stroke="#00ffff" stroke-width="0.78" fill="none"/><polygon points="441.40,445.05 443.78,446.77 442.87,449.57 439.93,449.57 439.02,446.77" stroke="#00ffff" stroke-width="0.78" fill="none"/><polygon points="448.15,445.51 450.53,447.24 449.62,450.03 446.68,450.03 445.77,447.24" stroke="#00ffff" stroke-width="0.78" fill="none"/><polygon points="454.90,445.76 457.28,447.49 456.37,450.28 453.43,450.28 452.52,447.49" stroke="#00ffff" stroke-width="0.78" fill="none"/><polygon points="461.65,446.19 464.03,447.92 463.12,450.71 460.18,450.71 459.27,447.92" stroke="#00ffff" stroke-width="0.78" fill="none"/><polygon points="468.40,446.47 470.78,448.20 469.87,451.00 466.93,451.00 466.02,448.20" stroke="#00ffff" stroke-width="0.78" fill="none"/><polygon points="475.15,446.90 477.53,448.63 476.62,451.42 473.68,451.42 472.77,448.63" stroke="#00ffff" stroke-width="0.78" fill="none"/><polygon points="481.90,447.19 484.28,448.91 483.37,451.71 480.43,451.71 479.52,448.91" stroke="#00ffff" stroke-width="0.78" fill="none"/><polygon points="488.65,447.54 491.03,449.27 490.12,452.07 487.18,452.07 486.27,449.27" stroke="#00ffff" stroke-width="0.78" fill="none"/><polygon points="495.40,447.90 497.78,449.63 496.87,452.42 493.93,452.42 493.02,449.63" stroke="#00ffff" stroke-width="0.78" fill="none"/><path d="M232.15 397.69L238.90 405.15L245.65 409.56L252.40 412.47L259.15 415.72L265.90 418.31L272.65 420.90L279.40 421.87L286.15 425.44L292.90 425.31L299.65 427.58L306.40 429.33L313.15 430.17L319.90 430.76L326.65 432.18L333.40 433.35L340.15 433.87L346.90 434.78L353.65 435.49L360.40 436.46L367.15 437.30L373.90 438.02L380.65 438.41L387.40 438.73L394.15 439.70L400.90 441.00L407.65 441.19L414.40 441.91L421.15 442.78L427.90 443.33L434.65 443.85L441.40 444.20L448.15 444.77L454.90 445.07L461.65 445.59L468.40 445.94L475.15 446.46L481.90 446.81L488.65 447.24L495.40 447.68" stroke="#000000" stroke-width="0.62" fill="none" stroke-linejoin="round"/><circle cx="232.15" cy="397.69" r="2.29" stroke="#000000" stroke-width="1.05" fill="none"/><path d="M232.15 397.69V395.40" stroke="#000000" stroke-width="0.7"/><circle cx="238.90" cy="405.15" r="2.29" stroke="#000000" stroke-width="1.05" fill="none"/><path d="M238.90 405.15V402.85" stroke="#000000" stroke-width="0.7"/><circle cx="245.65" cy="409.56" r="2.29" stroke="#000000" stroke-width="1.05" fill="none"/><path d="M245.65 409.56V407.26" stroke="#000000" stroke-width="0.7"/><circle cx="252.40" cy="412.47" r="2.29" stroke="#000000" stroke-width="1.05" fill="none"/><path d="M252.40 412.47V410.18" stroke="#000000" stroke-width="0.7"/><circle cx="259.15" cy="415.72" r="2.29" stroke="#000000" stroke-width="1.05" fill="none"/><path d="M259.15 415.72V413.42" stroke="#000000" stroke-width="0.7"/><circle cx="265.90" cy="418.31" r="2.29" stroke="#000000" stroke-width="1.05" fill="none"/><path d="M265.90 418.31V416.01" stroke="#000000" stroke-width="0.7"/><circle cx="272.65" cy="420.90" r="2.29" stroke="#000000" stroke-width="1.05" fill="none"/><path d="M272.65 420.90V418.61" stroke="#000000" stroke-width="0.7"/><circle cx="279.40" cy="421.87" r="2.29" stroke="#000000" stroke-width="1.05" fill="none"/><path d="M279.40 421.87V419.58" stroke="#000000" stroke-width="0.7"/><circle cx="286.15" cy="425.44" r="2.29" stroke="#000000" stroke-width="1.05" fill="none"/><path d="M286.15 425.44V423.15" stroke="#000000" stroke-width="0.7"/><circle cx="292.90" cy="425.31" r="2.29" stroke="#000000" stroke-width="1.05" fill="none"/><path d="M292.90 425.31V423.02" stroke="#000000" stroke-width="0.7"/><circle cx="299.65" cy="427.58" r="2.29" stroke="#000000" stroke-width="1.05" fill="none"/><path d="M299.65 427.58V425.28" stroke="#000000" stroke-width="0.7"/><circle cx="306.40" cy="429.33" r="2.29" stroke="#000000" stroke-width="1.05" fill="none"/><path d="M306.40 429.33V427.03" stroke="#000000" stroke-width="0.7"/><circle cx="313.15" cy="430.17" r="2.29" stroke="#000000" stroke-width="1.05" fill="none"/><path d="M313.15 430.17V427.88" stroke="#000000" stroke-width="0.7"/><circle cx="319.90" cy="430.76" r="2.29" stroke="#000000" stroke-width="1.05" fill="none"/><path d="M319.90 430.76V428.46" stroke="#000000" stroke-width="0.7"/><circle cx="326.65" cy="432.18" r="2.29" stroke="#000000" stroke-width="1.05" fill="none"/><path d="M326.65 432.18V429.89" stroke="#000000" stroke-width="0.7"/><circle cx="333.40" cy="433.35" r="2.29" stroke="#000000" stroke-width="1.05" fill="none"/><path d="M333.40 433.35V431.05" stroke="#000000" stroke-width="0.7"/><circle cx="340.15" cy="433.87" r="2.29" stroke="#000000" stroke-width="1.05" fill="none"/><path d="M340.15 433.87V431.57" stroke="#000000" stroke-width="0.7"/><circle cx="346.90" cy="434.78" r="2.29" stroke="#000000" stroke-width="1.05" fill="none"/><path d="M346.90 434.78V432.48" stroke="#000000" stroke-width="0.7"/><circle cx="353.65" cy="435.49" r="2.29" stroke="#000000" stroke-width="1.05" fill="none"/><path d="M353.65 435.49V433.19" stroke="#000000" stroke-width="0.7"/><circle cx="360.40" cy="436.46" r="2.29" stroke="#000000" stroke-width="1.05" fill="none"/><path d="M360.40 436.46V434.17" stroke="#000000" stroke-width="0.7"/><circle cx="367.15" cy="437.30" r="2.29" stroke="#000000" stroke-width="1.05" fill="none"/><path d="M367.15 437.30V435.01" stroke="#000000" stroke-width="0.7"/><circle cx="373.90" cy="438.02" r="2.29" stroke="#000000" stroke-width="1.05" fill="none"/><path d="M373.90 438.02V435.72" stroke="#000000" stroke-width="0.7"/><circle cx="380.65" cy="438.41" r="2.29" stroke="#000000" stroke-width="1.05" fill="none"/><path d="M380.65 438.41V436.11" stroke="#000000" stroke-width="0.7"/><circle cx="387.40" cy="438.73" r="2.29" stroke="#000000" stroke-width="1.05" fill="none"/><path d="M387.40 438.73V436.44" stroke="#000000" stroke-width="0.7"/><circle cx="394.15" cy="439.70" r="2.29" stroke="#000000" stroke-width="1.05" fill="none"/><path d="M394.15 439.70V437.41" stroke="#000000" stroke-width="0.7"/><circle cx="400.90" cy="441.00" r="2.29" stroke="#000000" stroke-width="1.05" fill="none"/><path d="M400.90 441.00V438.70" stroke="#000000" stroke-width="0.7"/><circle cx="407.65" cy="441.19" r="2.29" stroke="#000000" stroke-width="1.05" fill="none"/><path d="M407.65 441.19V438.90" stroke="#000000" stroke-width="0.7"/><circle cx="414.40" cy="441.91" r="2.29" stroke="#000000" stroke-width="1.05" fill="none"/><path d="M414.40 441.91V439.61" stroke="#000000" stroke-width="0.7"/><circle cx="421.15" cy="442.78" r="2.29" stroke="#000000" stroke-width="1.05" fill="none"/><path d="M421.15 442.78V440.49" stroke="#000000" stroke-width="0.7"/><circle cx="427.90" cy="443.33" r="2.29" stroke="#000000" stroke-width="1.05" fill="none"/><path d="M427.90 443.33V441.04" stroke="#000000" stroke-width="0.7"/><circle cx="434.65" cy="443.85" r="2.29" stroke="#000000" stroke-width="1.05" fill="none"/><path d="M434.65 443.85V441.56" stroke="#000000" stroke-width="0.7"/><circle cx="441.40" cy="444.20" r="2.29" stroke="#000000" stroke-width="1.05" fill="none"/><path d="M441.40 444.20V441.91" stroke="#000000" stroke-width="0.7"/><circle cx="448.15" cy="444.77" r="2.29" stroke="#000000" stroke-width="1.05" fill="none"/><path d="M448.15 444.77V442.47" stroke="#000000" stroke-width="0.7"/><circle cx="454.90" cy="445.07" r="2.29" stroke="#000000" stroke-width="1.05" fill="none"/><path d="M454.90 445.07V442.78" stroke="#000000" stroke-width="0.7"/><circle cx="461.65" cy="445.59" r="2.29" stroke="#000000" stroke-width="1.05" fill="none"/><path d="M461.65 445.59V443.30" stroke="#000000" stroke-width="0.7"/><circle cx="468.40" cy="445.94" r="2.29" stroke="#000000" stroke-width="1.05" fill="none"/><path d="M468.40 445.94V443.64" stroke="#000000" stroke-width="0.7"/><circle cx="475.15" cy="446.46" r="2.29" stroke="#000000" stroke-width="1.05" fill="none"/><path d="M475.15 446.46V444.17" stroke="#000000" stroke-width="0.7"/><circle cx="481.90" cy="446.81" r="2.29" stroke="#000000" stroke-width="1.05" fill="none"/><path d="M481.90 446.81V444.51" stroke="#000000" stroke-width="0.7"/><circle cx="488.65" cy="447.24" r="2.29" stroke="#000000" stroke-width="1.05" fill="none"/><path d="M488.65 447.24V444.95" stroke="#000000" stroke-width="0.7"/><circle cx="495.40" cy="447.68" r="2.29" stroke="#000000" stroke-width="1.05" fill="none"/><path d="M495.40 447.68V445.38" stroke="#000000" stroke-width="0.7"/><path d="M232.15 385.31L238.90 393.28L245.65 397.56L252.40 401.78L259.15 405.02L265.90 408.26L272.65 410.53L279.40 412.28L286.15 416.56L292.90 415.39L299.65 418.31L306.40 420.45L313.15 421.55L319.90 422.59L326.65 423.62L333.40 425.31L340.15 425.44L346.90 426.61L353.65 427.38L360.40 428.68L367.15 429.72L373.90 430.43L380.65 431.15L387.40 431.60L394.15 432.57L400.90 433.87L407.65 434.32L414.40 435.16L421.15 435.81L427.90 436.46L434.65 437.16L441.40 437.63L448.15 438.39L454.90 438.80L461.65 439.50L468.40 439.96L475.15 440.66L481.90 441.13L488.65 441.71L495.40 442.30" stroke="#ff4d00" stroke-width="0.62" fill="none" stroke-linejoin="round"/><circle cx="232.15" cy="385.31" r="2.29" stroke="#ff4d00" stroke-width="1.05" fill="none"/><path d="M232.15 385.31L234.44 385.31A2.29 2.29 0 0 0 232.15 383.02Z" fill="#ff4d00"/><circle cx="238.90" cy="393.28" r="2.29" stroke="#ff4d00" stroke-width="1.05" fill="none"/><path d="M238.90 393.28L241.19 393.28A2.29 2.29 0 0 0 238.90 390.99Z" fill="#ff4d00"/><circle cx="245.65" cy="397.56" r="2.29" stroke="#ff4d00" stroke-width="1.05" fill="none"/><path d="M245.65 397.56L247.94 397.56A2.29 2.29 0 0 0 245.65 395.27Z" fill="#ff4d00"/><circle cx="252.40" cy="401.78" r="2.29" stroke="#ff4d00" stroke-width="1.05" fill="none"/><path d="M252.40 401.78L254.69 401.78A2.29 2.29 0 0 0 252.40 399.48Z" fill="#ff4d00"/><circle cx="259.15" cy="405.02" r="2.29" stroke="#ff4d00" stroke-width="1.05" fill="none"/><path d="M259.15 405.02L261.44 405.02A2.29 2.29 0 0 0 259.15 402.72Z" fill="#ff4d00"/><circle cx="265.90" cy="408.26" r="2.29" stroke="#ff4d00" stroke-width="1.05" fill="none"/><path d="M265.90 408.26L268.19 408.26A2.29 2.29 0 0 0 265.90 405.97Z" fill="#ff4d00"/><circle cx="272.65" cy="410.53" r="2.29" stroke="#ff4d00" stroke-width="1.05" fill="none"/><path d="M272.65 410.53L274.94 410.53A2.29 2.29 0 0 0 272.65 408.23Z" fill="#ff4d00"/><circle cx="279.40" cy="412.28" r="2.29" stroke="#ff4d00" stroke-width="1.05" fill="none"/><path d="M279.40 412.28L281.69 412.28A2.29 2.29 0 0 0 279.40 409.98Z" fill="#ff4d00"/><circle cx="286.15" cy="416.56" r="2.29" stroke="#ff4d00" stroke-width="1.05" fill="none"/><path d="M286.15 416.56L288.44 416.56A2.29 2.29 0 0 0 286.15 414.26Z" fill="#ff4d00"/><circle cx="292.90" cy="415.39" r="2.29" stroke="#ff4d00" stroke-width="1.05" fill="none"/><path d="M292.90 415.39L295.19 415.39A2.29 2.29 0 0 0 292.90 413.10Z" fill="#ff4d00"/><circle cx="299.65" cy="418.31" r="2.29" stroke="#ff4d00" stroke-width="1.05" fill="none"/><path d="M299.65 418.31L301.94 418.31A2.29 2.29 0 0 0 299.65 416.01Z" fill="#ff4d00"/><circle cx="306.40" cy="420.45" r="2.29" stroke="#ff4d00" stroke-width="1.05" fill="none"/><path d="M306.40 420.45L308.69 420.45A2.29 2.29 0 0 0 306.40 418.15Z" fill="#ff4d00"/><circle cx="313.15" cy="421.55" r="2.29" stroke="#ff4d00" stroke-width="1.05" fill="none"/><path d="M313.15 421.55L315.44 421.55A2.29 2.29 0 0 0 313.15 419.26Z" fill="#ff4d00"/><circle cx="319.90" cy="422.59" r="2.29" stroke="#ff4d00" stroke-width="1.05" fill="none"/><path d="M319.90 422.59L322.19 422.59A2.29 2.29 0 0 0 319.90 420.29Z" fill="#ff4d00"/><circle cx="326.65" cy="423.62" r="2.29" stroke="#ff4d00" stroke-width="1.05" fill="none"/><path d="M326.65 423.62L328.94 423.62A2.29 2.29 0 0 0 326.65 421.33Z" fill="#ff4d00"/><circle cx="333.40" cy="425.31" r="2.29" stroke="#ff4d00" stroke-width="1.05" fill="none"/><path d="M333.40 425.31L335.69 425.31A2.29 2.29 0 0 0 333.40 423.02Z" fill="#ff4d00"/><circle cx="340.15" cy="425.44" r="2.29" stroke="#ff4d00" stroke-width="1.05" fill="none"/><path d="M340.15 425.44L342.44 425.44A2.29 2.29 0 0 0 340.15 423.15Z" fill="#ff4d00"/><circle cx="346.90" cy="426.61" r="2.29" stroke="#ff4d00" stroke-width="1.05" fill="none"/><path d="M346.90 426.61L349.19 426.61A2.29 2.29 0 0 0 346.90 424.31Z" fill="#ff4d00"/><circle cx="353.65" cy="427.38" r="2.29" stroke="#ff4d00" stroke-width="1.05" fill="none"/><path d="M353.65 427.38L355.94 427.38A2.29 2.29 0 0 0 353.65 425.09Z" fill="#ff4d00"/><circle cx="360.40" cy="428.68" r="2.29" stroke="#ff4d00" stroke-width="1.05" fill="none"/><path d="M360.40 428.68L362.69 428.68A2.29 2.29 0 0 0 360.40 426.39Z" fill="#ff4d00"/><circle cx="367.15" cy="429.72" r="2.29" stroke="#ff4d00" stroke-width="1.05" fill="none"/><path d="M367.15 429.72L369.44 429.72A2.29 2.29 0 0 0 367.15 427.42Z" fill="#ff4d00"/><circle cx="373.90" cy="430.43" r="2.29" stroke="#ff4d00" stroke-width="1.05" fill="none"/><path d="M373.90 430.43L376.19 430.43A2.29 2.29 0 0 0 373.90 428.14Z" fill="#ff4d00"/><circle cx="380.65" cy="431.15" r="2.29" stroke="#ff4d00" stroke-width="1.05" fill="none"/><path d="M380.65 431.15L382.94 431.15A2.29 2.29 0 0 0 380.65 428.85Z" fill="#ff4d00"/><circle cx="387.40" cy="431.60" r="2.29" stroke="#ff4d00" stroke-width="1.05" fill="none"/><path d="M387.40 431.60L389.69 431.60A2.29 2.29 0 0 0 387.40 429.30Z" fill="#ff4d00"/><circle cx="394.15" cy="432.57" r="2.29" stroke="#ff4d00" stroke-width="1.05" fill="none"/><path d="M394.15 432.57L396.44 432.57A2.29 2.29 0 0 0 394.15 430.28Z" fill="#ff4d00"/><circle cx="400.90" cy="433.87" r="2.29" stroke="#ff4d00" stroke-width="1.05" fill="none"/><path d="M400.90 433.87L403.19 433.87A2.29 2.29 0 0 0 400.90 431.57Z" fill="#ff4d00"/><circle cx="407.65" cy="434.32" r="2.29" stroke="#ff4d00" stroke-width="1.05" fill="none"/><path d="M407.65 434.32L409.94 434.32A2.29 2.29 0 0 0 407.65 432.03Z" fill="#ff4d00"/><circle cx="414.40" cy="435.16" r="2.29" stroke="#ff4d00" stroke-width="1.05" fill="none"/><path d="M414.40 435.16L416.69 435.16A2.29 2.29 0 0 0 414.40 432.87Z" fill="#ff4d00"/><circle cx="421.15" cy="435.81" r="2.29" stroke="#ff4d00" stroke-width="1.05" fill="none"/><path d="M421.15 435.81L423.44 435.81A2.29 2.29 0 0 0 421.15 433.52Z" fill="#ff4d00"/><circle cx="427.90" cy="436.46" r="2.29" stroke="#ff4d00" stroke-width="1.05" fill="none"/><path d="M427.90 436.46L430.19 436.46A2.29 2.29 0 0 0 427.90 434.17Z" fill="#ff4d00"/><circle cx="434.65" cy="437.16" r="2.29" stroke="#ff4d00" stroke-width="1.05" fill="none"/><path d="M434.65 437.16L436.94 437.16A2.29 2.29 0 0 0 434.65 434.87Z" fill="#ff4d00"/><circle cx="441.40" cy="437.63" r="2.29" stroke="#ff4d00" stroke-width="1.05" fill="none"/><path d="M441.40 437.63L443.69 437.63A2.29 2.29 0 0 0 441.40 435.33Z" fill="#ff4d00"/><circle cx="448.15" cy="438.39" r="2.29" stroke="#ff4d00" stroke-width="1.05" fill="none"/><path d="M448.15 438.39L450.44 438.39A2.29 2.29 0 0 0 448.15 436.09Z" fill="#ff4d00"/><circle cx="454.90" cy="438.80" r="2.29" stroke="#ff4d00" stroke-width="1.05" fill="none"/><path d="M454.90 438.80L457.19 438.80A2.29 2.29 0 0 0 454.90 436.50Z" fill="#ff4d00"/><circle cx="461.65" cy="439.50" r="2.29" stroke="#ff4d00" stroke-width="1.05" fill="none"/><path d="M461.65 439.50L463.94 439.50A2.29 2.29 0 0 0 461.65 437.20Z" fill="#ff4d00"/><circle cx="468.40" cy="439.96" r="2.29" stroke="#ff4d00" stroke-width="1.05" fill="none"/><path d="M468.40 439.96L470.69 439.96A2.29 2.29 0 0 0 468.40 437.67Z" fill="#ff4d00"/><circle cx="475.15" cy="440.66" r="2.29" stroke="#ff4d00" stroke-width="1.05" fill="none"/><path d="M475.15 440.66L477.44 440.66A2.29 2.29 0 0 0 475.15 438.37Z" fill="#ff4d00"/><circle cx="481.90" cy="441.13" r="2.29" stroke="#ff4d00" stroke-width="1.05" fill="none"/><path d="M481.90 441.13L484.19 441.13A2.29 2.29 0 0 0 481.90 438.83Z" fill="#ff4d00"/><circle cx="488.65" cy="441.71" r="2.29" stroke="#ff4d00" stroke-width="1.05" fill="none"/><path d="M488.65 441.71L490.94 441.71A2.29 2.29 0 0 0 488.65 439.42Z" fill="#ff4d00"/><circle cx="495.40" cy="442.30" r="2.29" stroke="#ff4d00" stroke-width="1.05" fill="none"/><path d="M495.40 442.30L497.69 442.30A2.29 2.29 0 0 0 495.40 440.00Z" fill="#ff4d00"/><path d="M488.65 409.56L495.40 353.15" stroke="#808080" stroke-width="0.62" fill="none" stroke-linejoin="round"/><circle cx="488.65" cy="409.56" r="2.29" stroke="#808080" stroke-width="1.05" fill="none"/><path d="M488.65 409.56L488.65 407.26A2.29 2.29 0 0 0 486.35 409.56Z" fill="#808080"/><circle cx="495.40" cy="353.15" r="2.29" stroke="#808080" stroke-width="1.05" fill="none"/><path d="M495.40 353.15L495.40 350.86A2.29 2.29 0 0 0 493.10 353.15Z" fill="#808080"/></g><text transform="translate(536.50 346.35) rotate(0.05)" font-size="9.6" text-anchor="end" fill="#ff0000">20%</text><path d="M542.4 343.00H570.2" stroke="#ff0000" stroke-width="0.62"/><path d="M554.05 343.00H558.55M556.30 340.75V345.25" stroke="#ff0000" stroke-width="0.62" fill="none"/><text transform="translate(536.50 356.10) rotate(0.05)" font-size="9.6" text-anchor="end" fill="#00ff00">25%</text><path d="M542.4 352.75H570.2" stroke="#00ff00" stroke-width="0.62"/><path d="M554.05 350.50L558.55 355.00M554.05 355.00L558.55 350.50" stroke="#00ff00" stroke-width="0.62" fill="none"/><text transform="translate(536.50 365.85) rotate(0.05)" font-size="9.6" text-anchor="end" fill="#0000ff">30%</text><path d="M542.4 362.50H570.2" stroke="#0000ff" stroke-width="0.62"/><path d="M554.05 362.50H558.55M556.30 360.25V364.75" stroke="#0000ff" stroke-width="0.62" fill="none"/><path d="M554.05 360.25L558.55 364.75M554.05 364.75L558.55 360.25" stroke="#0000ff" stroke-width="0.62" fill="none"/><text transform="translate(536.50 375.60) rotate(0.05)" font-size="9.6" text-anchor="end" fill="#ff00ff">35%</text><path d="M542.4 372.25H570.2" stroke="#ff00ff" stroke-width="0.62"/><rect x="554.25" y="370.20" width="4.10" height="4.10" stroke="#ff00ff" stroke-width="0.78" fill="none"/><text transform="translate(536.50 385.35) rotate(0.05)" font-size="9.6" text-anchor="end" fill="#00ffff">40%</text><path d="M542.4 382.00H570.2" stroke="#00ffff" stroke-width="0.62"/><rect x="554.15" y="379.85" width="4.30" height="4.30" fill="#00ffff"/><text transform="translate(536.50 395.10) rotate(0.05)" font-size="9.6" text-anchor="end" fill="#000000">45%</text><path d="M542.4 391.75H570.2" stroke="#000000" stroke-width="0.62"/><circle cx="556.30" cy="391.75" r="2.55" fill="#000000"/><text transform="translate(536.50 404.85) rotate(0.05)" font-size="9.6" text-anchor="end" fill="#ff4d00">50%</text><path d="M542.4 401.50H570.2" stroke="#ff4d00" stroke-width="0.62"/><polygon points="556.30,398.85 553.94,402.68 558.66,402.68" stroke="#ff4d00" stroke-width="0.78" fill="none"/><text transform="translate(536.50 414.60) rotate(0.05)" font-size="9.6" text-anchor="end" fill="#808080">55%</text><path d="M542.4 411.25H570.2" stroke="#808080" stroke-width="0.62"/><polygon points="556.30,408.60 553.94,412.43 558.66,412.43" fill="#808080"/><text transform="translate(536.50 424.35) rotate(0.05)" font-size="9.6" text-anchor="end" fill="#ff0000">60%</text><path d="M542.4 421.00H570.2" stroke="#ff0000" stroke-width="0.62"/><polygon points="556.30,423.65 553.94,419.82 558.66,419.82" stroke="#ff0000" stroke-width="0.78" fill="none"/><text transform="translate(536.50 434.10) rotate(0.05)" font-size="9.6" text-anchor="end" fill="#00ff00">65%</text><path d="M542.4 430.75H570.2" stroke="#00ff00" stroke-width="0.62"/><polygon points="556.30,433.40 553.94,429.57 558.66,429.57" fill="#00ff00"/><text transform="translate(536.50 443.85) rotate(0.05)" font-size="9.6" text-anchor="end" fill="#0000ff">70%</text><path d="M542.4 440.50H570.2" stroke="#0000ff" stroke-width="0.62"/><polygon points="556.30,438.10 558.70,440.50 556.30,442.90 553.90,440.50" stroke="#0000ff" stroke-width="0.78" fill="none"/><text transform="translate(536.50 453.60) rotate(0.05)" font-size="9.6" text-anchor="end" fill="#ff00ff">75%</text><path d="M542.4 450.25H570.2" stroke="#ff00ff" stroke-width="0.62"/><polygon points="556.30,447.85 558.70,450.25 556.30,452.65 553.90,450.25" fill="#ff00ff"/><text transform="translate(536.50 463.35) rotate(0.05)" font-size="9.6" text-anchor="end" fill="#00ffff">80%</text><path d="M542.4 460.00H570.2" stroke="#00ffff" stroke-width="0.62"/><polygon points="556.30,457.50 558.68,459.23 557.77,462.02 554.83,462.02 553.92,459.23" stroke="#00ffff" stroke-width="0.78" fill="none"/><text transform="translate(536.50 473.10) rotate(0.05)" font-size="9.6" text-anchor="end" fill="#000000">85%</text><path d="M542.4 469.75H570.2" stroke="#000000" stroke-width="0.62"/><circle cx="556.30" cy="469.75" r="2.29" stroke="#000000" stroke-width="1.05" fill="none"/><path d="M556.30 469.75V467.45" stroke="#000000" stroke-width="0.7"/><text transform="translate(536.50 482.85) rotate(0.05)" font-size="9.6" text-anchor="end" fill="#ff4d00">90%</text><path d="M542.4 479.50H570.2" stroke="#ff4d00" stroke-width="0.62"/><circle cx="556.30" cy="479.50" r="2.29" stroke="#ff4d00" stroke-width="1.05" fill="none"/><path d="M556.30 479.50L558.59 479.50A2.29 2.29 0 0 0 556.30 477.20Z" fill="#ff4d00"/><text transform="translate(536.50 492.60) rotate(0.05)" font-size="9.6" text-anchor="end" fill="#808080">95%</text><path d="M542.4 489.25H570.2" stroke="#808080" stroke-width="0.62"/><circle cx="556.30" cy="489.25" r="2.29" stroke="#808080" stroke-width="1.05" fill="none"/><path d="M556.30 489.25L556.30 486.95A2.29 2.29 0 0 0 554.00 489.25Z" fill="#808080"/></svg></body></html>
